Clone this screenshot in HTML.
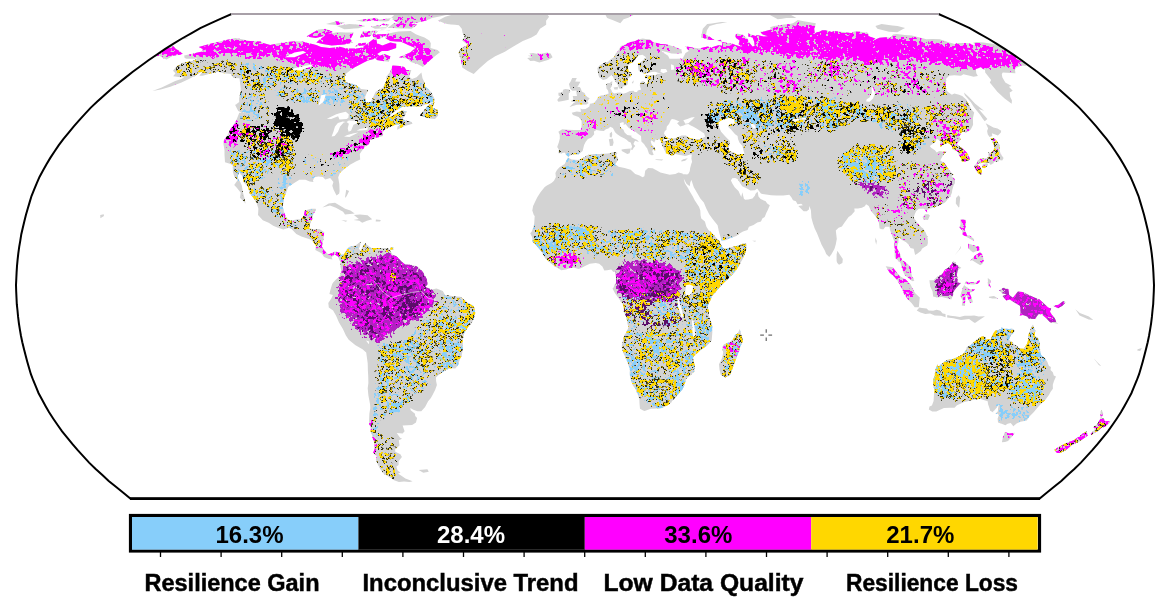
<!DOCTYPE html>
<html><head><meta charset="utf-8"><style>
html,body{margin:0;padding:0;background:#fff;width:1170px;height:607px;overflow:hidden}
svg{display:block}
.pct{font-family:"Liberation Sans",sans-serif;font-weight:bold;font-size:24px}
.lab{font-family:"Liberation Sans",sans-serif;font-weight:bold;font-size:23px;stroke:#000;stroke-width:0.45px}
</style></head><body>
<svg width="1170" height="607" viewBox="0 0 1170 607">
<defs><clipPath id="oc"><path d="M938.5,14.0 L949.0,18.7 L959.5,23.4 L969.7,28.2 L978.8,33.4 L988.0,38.5 L996.8,43.8 L1005.1,49.2 L1013.4,54.7 L1021.5,60.3 L1029.3,66.0 L1037.2,71.7 L1044.6,77.6 L1052.0,83.5 L1059.3,89.4 L1066.0,95.5 L1072.7,101.6 L1079.2,107.6 L1085.0,113.9 L1090.7,120.1 L1096.2,126.3 L1101.3,132.6 L1106.5,138.9 L1111.2,145.2 L1115.5,151.5 L1119.7,157.9 L1123.5,164.2 L1127.0,170.6 L1130.5,176.9 L1133.3,183.3 L1135.9,189.7 L1138.5,196.0 L1140.4,202.4 L1142.3,208.8 L1144.1,215.1 L1145.7,221.5 L1147.2,227.8 L1148.7,234.2 L1149.7,240.6 L1150.8,246.9 L1151.7,253.3 L1152.4,259.6 L1153.0,266.0 L1153.4,272.4 L1153.7,278.7 L1154.0,285.1 L1153.8,291.5 L1153.5,297.8 L1153.2,304.2 L1152.5,310.5 L1151.9,316.9 L1151.1,323.3 L1150.1,329.6 L1149.0,336.0 L1147.7,342.3 L1146.1,348.7 L1144.5,355.1 L1142.8,361.4 L1141.0,367.8 L1139.1,374.2 L1136.7,380.5 L1134.0,386.9 L1131.4,393.2 L1128.0,399.6 L1124.5,406.0 L1120.9,412.3 L1116.7,418.7 L1112.4,425.0 L1107.9,431.3 L1102.8,437.6 L1097.7,443.9 L1092.3,450.2 L1086.6,456.4 L1080.9,462.6 L1074.6,468.7 L1067.9,474.8 L1061.3,480.9 L1054.1,486.8 L1046.7,492.7 L1039.4,498.7 L130.6,498.7 L123.3,492.7 L115.9,486.8 L108.7,480.9 L102.1,474.8 L95.4,468.7 L89.1,462.6 L83.4,456.4 L77.7,450.2 L72.3,443.9 L67.2,437.6 L62.1,431.3 L57.6,425.0 L53.3,418.7 L49.1,412.3 L45.5,406.0 L42.0,399.6 L38.6,393.2 L36.0,386.9 L33.3,380.5 L30.9,374.2 L29.0,367.8 L27.2,361.4 L25.5,355.1 L23.9,348.7 L22.3,342.3 L21.0,336.0 L19.9,329.6 L18.9,323.3 L18.1,316.9 L17.5,310.5 L16.8,304.2 L16.5,297.8 L16.2,291.5 L16.0,285.1 L16.3,278.7 L16.6,272.4 L17.0,266.0 L17.6,259.6 L18.3,253.3 L19.2,246.9 L20.3,240.6 L21.3,234.2 L22.8,227.8 L24.3,221.5 L25.9,215.1 L27.7,208.8 L29.6,202.4 L31.5,196.0 L34.1,189.7 L36.7,183.3 L39.5,176.9 L43.0,170.6 L46.5,164.2 L50.3,157.9 L54.5,151.5 L58.8,145.2 L63.5,138.9 L68.7,132.6 L73.8,126.3 L79.3,120.1 L85.0,113.9 L90.8,107.6 L97.3,101.6 L104.0,95.5 L110.7,89.4 L118.0,83.5 L125.4,77.6 L132.8,71.7 L140.7,66.0 L148.5,60.3 L156.6,54.7 L164.9,49.2 L173.2,43.8 L182.0,38.5 L191.2,33.4 L200.3,28.2 L210.5,23.4 L221.0,18.7 L231.5,14.0Z"/></clipPath></defs>
<g clip-path="url(#oc)"><clipPath id="landc"><path d="M184.2,55.4 190.9,54.0 197.5,52.6 202.5,51.4 202.7,48.9 198.7,47.0 213.0,43.0 223.8,40.4 235.3,38.0 239.3,38.8 243.2,39.5 246.6,40.2 250.1,40.9 255.3,41.2 260.6,41.5 263.2,43.0 266.7,44.0 270.2,44.9 279.2,43.0 284.5,42.4 289.7,41.8 295.0,41.2 302.5,41.5 308.6,43.3 312.4,44.1 316.2,44.9 321.0,47.0 325.2,47.5 329.4,48.0 334.6,47.4 339.8,46.7 343.6,47.7 347.5,48.6 352.1,48.6 356.8,48.6 362.4,47.4 368.0,43.3 375.5,37.5 376.5,40.1 377.1,43.3 382.4,45.5 390.3,42.4 396.3,43.7 396.1,48.0 387.6,51.0 381.8,51.0 377.1,54.1 379.6,55.7 375.0,58.8 367.9,60.4 363.4,62.7 354.3,67.5 346.4,73.3 344.6,77.3 345.7,82.4 351.6,83.4 355.8,85.0 361.2,89.0 368.0,89.7 365.1,96.9 366.3,102.7 370.7,102.1 375.7,91.8 383.2,87.4 386.6,80.0 386.3,76.7 390.3,71.7 392.4,65.6 399.9,65.9 404.3,66.9 406.3,70.1 411.3,70.1 409.2,76.7 412.0,79.0 416.6,77.3 421.4,72.4 422.5,78.3 424.6,82.4 425.4,86.7 429.3,90.0 432.0,93.5 434.3,98.6 434.0,101.7 430.3,102.4 420.6,106.5 412.6,106.2 402.8,106.5 396.0,110.4 388.0,117.0 391.0,116.7 401.5,110.4 406.7,111.4 404.3,116.0 402.8,118.8 405.1,120.5 411.7,121.9 412.5,123.7 404.7,126.1 397.1,129.7 397.5,126.5 402.6,123.7 395.2,124.7 388.5,127.9 384.5,129.7 382.3,133.2 383.1,136.1 379.3,137.1 375.2,138.2 370.2,140.0 369.0,143.9 365.0,146.8 361.4,151.4 359.8,153.9 360.2,159.6 355.9,161.4 350.0,164.7 344.9,168.6 339.9,172.9 338.2,177.2 339.3,184.0 339.6,190.9 339.2,193.4 336.6,195.5 335.5,193.4 333.5,189.4 332.3,185.8 333.4,181.9 330.2,177.9 325.3,179.4 322.9,176.9 318.4,176.5 314.3,177.2 312.9,180.8 313.6,181.9 309.7,181.5 305.5,179.7 299.4,179.7 294.2,183.0 288.1,186.9 286.2,192.7 283.9,198.0 282.7,205.9 283.5,210.6 285.5,216.0 286.7,218.5 290.8,220.7 297.2,219.2 300.9,219.6 303.9,214.9 304.8,210.6 311.0,208.8 315.6,208.8 316.1,209.9 313.3,214.2 312.1,219.6 310.1,223.2 309.1,228.6 313.1,229.3 319.4,228.9 324.3,232.2 323.0,241.1 321.9,246.5 323.8,250.1 328.4,254.4 334.8,251.5 339.5,252.6 341.6,255.1 339.4,260.2 338.0,256.6 334.7,254.4 331.7,257.3 332.5,259.4 328.2,258.7 324.1,256.9 321.5,253.3 315.3,250.1 316.0,245.8 311.2,239.7 307.5,238.6 301.4,236.5 296.3,233.9 291.8,229.3 288.9,227.8 283.3,229.6 277.4,227.5 273.2,225.7 268.7,222.8 262.8,220.3 258.0,214.9 258.4,208.8 256.6,202.7 252.7,197.0 249.8,193.7 247.7,186.2 243.5,182.3 242.7,176.5 238.9,171.8 237.5,177.6 240.2,181.9 241.8,185.5 243.0,192.7 244.7,198.8 245.6,203.8 244.7,202.4 239.9,197.7 240.8,192.7 236.6,187.6 234.2,185.1 237.7,180.1 234.2,176.5 232.9,171.8 232.8,168.6 232.9,165.7 230.6,163.9 225.0,162.2 224.5,155.0 224.5,150.3 223.5,144.3 223.4,141.0 227.4,135.4 229.9,130.0 235.9,121.2 239.3,112.8 244.2,112.5 239.1,109.7 236.0,104.5 239.2,102.1 239.1,98.6 240.5,91.8 240.7,88.4 240.1,83.4 239.5,78.3 233.5,78.0 230.9,74.0 224.0,73.3 218.2,71.7 211.4,73.3 202.6,75.7 199.3,75.7 203.5,70.8 194.7,76.0 188.9,79.0 181.5,82.4 170.3,86.7 160.8,89.4 152.4,91.1 161.7,87.4 175.2,81.0 181.2,79.0 184.3,77.3 180.5,77.3 173.2,76.3 175.5,73.3 173.0,70.8 176.6,66.2 183.1,62.7 194.4,60.4 197.4,58.2 192.8,58.8 186.7,58.8 184.6,57.9 184.2,55.4Z M473.7,74.0 467.3,70.8 462.2,67.5 461.4,62.0 460.1,57.2 458.6,52.6 461.2,48.0 467.8,44.9 462.0,40.4 464.5,36.6 462.6,33.1 461.8,28.8 458.9,25.2 455.0,24.8 451.0,24.5 447.1,24.1 443.9,23.0 440.8,21.8 437.7,20.7 445.2,16.7 451.9,14.7 458.3,13.0 462.3,13.0 466.3,13.0 470.3,13.0 474.3,13.0 478.3,13.0 482.3,13.0 486.2,13.0 490.2,13.0 494.2,13.0 498.2,13.0 502.2,13.0 506.2,13.0 510.2,13.0 514.1,13.0 518.1,13.0 522.1,13.0 526.1,13.0 530.1,13.0 534.1,13.0 538.1,13.0 542.0,13.0 546.0,13.0 549.1,16.7 546.1,20.7 546.2,24.7 540.0,28.8 536.6,34.6 531.5,37.5 522.8,40.9 513.4,46.4 504.9,51.7 495.2,56.3 487.8,61.1 479.3,68.5 473.7,74.0Z M439.9,52.3 431.7,58.8 427.6,62.4 422.9,66.9 418.0,64.3 410.7,62.0 407.6,58.8 403.2,58.0 398.9,57.2 410.2,52.6 415.4,48.0 411.7,46.4 408.1,44.9 404.5,43.3 401.0,41.8 395.7,41.4 390.4,40.9 385.0,38.0 387.8,33.7 393.2,32.5 398.5,31.4 404.6,31.2 410.7,31.1 415.8,34.3 420.2,35.9 424.5,37.5 429.3,40.4 430.8,43.3 430.5,48.0 437.5,50.1 439.9,52.3Z M376.6,60.1 382.7,60.9 388.9,61.7 390.4,56.3 384.3,54.1 376.1,57.2 376.6,60.1Z M320.3,38.9 326.5,34.6 336.8,32.2 341.1,32.3 345.4,32.4 349.7,32.5 353.9,32.5 350.6,38.9 352.5,42.7 344.0,44.6 337.9,45.0 331.7,45.5 327.2,44.7 322.8,44.0 316.3,42.4 320.3,38.9Z M306.4,36.6 318.3,29.6 325.8,28.8 329.4,30.2 333.2,31.7 323.7,36.0 315.8,38.0 311.1,37.3 306.4,36.6Z M371.9,33.1 381.7,29.6 385.6,30.1 389.6,30.5 385.3,36.0 378.7,38.9 373.3,37.5 371.9,33.1Z M387.6,27.9 392.4,28.1 397.1,28.2 401.9,28.4 406.7,28.6 411.5,28.8 417.4,24.7 413.0,23.9 408.6,23.1 403.6,23.1 398.7,23.2 393.7,23.3 387.6,27.9Z M398.2,23.1 402.3,23.1 406.4,23.2 410.4,23.3 414.5,23.3 420.0,22.0 425.4,20.7 432.0,18.0 440.7,16.2 446.0,15.0 451.3,13.9 456.4,13.0 452.4,13.0 448.3,13.0 444.3,13.0 440.3,13.0 436.2,13.0 432.2,13.0 428.1,13.0 424.1,13.0 420.1,13.0 416.0,13.0 412.0,13.0 408.0,13.0 403.9,13.0 399.9,13.0 392.2,19.3 395.1,21.2 398.2,23.1Z M336.9,26.0 343.1,24.9 349.3,23.9 353.0,24.2 356.7,24.6 360.5,24.9 365.4,26.0 358.5,28.2 353.8,28.6 349.1,28.9 344.4,29.3 340.5,27.6 336.9,26.0Z M370.7,26.8 376.3,25.7 381.8,24.7 386.5,26.0 386.3,28.2 380.7,28.5 375.0,28.8 370.7,26.8Z M388.6,20.7 393.6,20.3 398.5,20.0 403.5,19.7 408.4,19.3 415.5,13.0 411.6,13.0 407.7,13.0 403.8,13.0 399.9,13.0 396.0,13.0 388.6,20.7Z M419.8,115.6 429.6,118.4 435.0,119.1 438.2,115.6 437.6,109.7 432.5,107.9 434.6,101.7 427.8,105.5 419.8,115.6Z M243.0,113.2 238.2,111.1 234.9,104.5 243.4,107.2 243.0,113.2Z M322.3,207.4 328.7,203.4 335.0,202.7 339.3,205.2 345.1,208.8 350.4,210.6 354.7,213.5 345.0,214.6 343.1,211.7 335.9,207.7 330.0,205.6 322.3,207.4Z M353.9,214.9 359.9,214.6 367.6,215.3 372.2,219.2 367.0,220.7 362.2,222.8 359.3,220.7 353.4,219.9 358.8,218.9 353.9,214.9Z M341.3,219.9 347.4,220.7 345.8,221.7 341.3,219.9Z M375.9,219.6 380.8,219.9 380.1,221.4 375.7,221.4 375.9,219.6Z M341.6,255.1 344.1,254.1 347.5,248.7 349.9,246.5 355.6,245.4 360.6,241.5 360.0,246.5 358.9,248.3 360.9,251.9 362.1,247.2 364.5,244.4 365.2,242.9 366.7,244.7 371.2,247.9 374.6,247.9 383.8,247.9 388.5,247.9 389.9,250.1 392.9,255.1 396.6,256.2 401.5,261.6 405.2,264.5 410.9,264.8 416.2,265.9 419.9,268.4 422.1,270.9 423.9,273.4 427.0,279.5 427.6,284.2 425.4,287.1 431.7,289.6 436.5,288.5 442.8,291.0 445.1,295.0 452.3,296.1 455.5,296.4 460.2,296.8 463.4,299.3 468.2,303.2 473.9,306.1 475.3,312.9 473.9,318.3 471.8,323.0 468.1,326.9 464.3,332.7 462.9,339.1 462.8,349.5 461.6,356.0 459.9,358.9 458.2,365.0 455.3,368.6 451.6,368.2 447.1,369.6 442.3,372.2 438.0,375.4 436.0,377.5 436.1,381.1 436.9,385.1 435.2,389.7 432.8,394.4 430.9,398.0 428.1,401.2 425.1,407.0 421.3,411.3 417.5,411.3 413.3,409.8 410.3,408.1 410.7,410.2 415.0,413.8 415.2,415.9 417.1,418.1 416.0,422.4 412.1,424.9 402.6,425.6 404.6,431.3 402.6,433.4 396.7,433.1 400.1,437.7 402.1,438.8 398.8,440.2 399.5,445.5 395.1,449.4 395.3,451.8 400.4,454.3 401.9,457.1 398.6,461.3 398.6,465.1 396.4,466.5 397.5,470.3 400.6,472.7 397.9,473.4 401.8,476.1 405.4,478.5 412.6,481.3 409.5,482.0 404.0,481.6 398.9,482.0 394.2,480.2 388.7,476.8 384.3,474.1 380.8,469.9 377.9,464.8 375.8,459.5 376.7,456.0 373.0,452.9 374.6,449.0 374.6,443.4 372.2,437.7 372.3,435.6 370.3,431.3 371.0,428.8 369.1,424.2 369.1,419.9 369.4,413.4 370.3,408.1 370.1,404.5 368.4,395.5 367.7,388.3 368.4,382.9 368.2,375.7 367.9,370.7 367.7,363.2 366.2,352.4 362.5,349.2 355.5,345.2 348.7,339.8 345.9,335.5 342.9,329.1 339.0,322.6 336.1,315.8 333.1,310.4 328.8,307.5 328.3,302.9 331.4,298.2 332.9,295.0 329.4,293.9 330.6,289.2 332.1,284.2 333.1,282.4 336.0,279.5 339.2,276.7 341.5,272.0 340.4,266.3 340.9,262.7 339.4,260.2 341.6,255.1Z M568.4,156.8 572.0,154.3 578.8,154.3 582.6,151.1 584.1,145.0 585.6,142.1 587.9,138.9 591.4,137.5 594.2,134.3 593.9,131.5 596.4,130.0 600.4,130.8 603.9,131.1 605.8,129.3 608.4,128.6 610.3,126.8 612.9,127.9 615.1,132.2 616.9,133.9 620.5,136.4 624.1,138.2 626.2,139.6 628.7,141.8 630.7,142.5 632.1,146.4 630.9,149.6 632.4,150.0 633.7,147.8 635.3,146.0 633.4,143.9 635.0,140.7 638.9,142.1 637.2,140.0 633.9,138.6 631.2,137.1 631.7,135.7 627.3,135.0 624.6,132.5 623.5,129.7 620.3,127.2 619.8,123.3 622.2,122.3 623.9,122.6 623.6,125.1 625.5,124.0 628.3,127.6 631.9,130.0 635.4,131.8 638.2,133.9 641.0,136.1 641.4,141.4 644.0,143.9 645.6,146.4 647.2,148.5 649.1,153.9 651.6,155.3 653.7,155.0 652.2,151.1 653.2,149.6 655.7,150.7 654.5,147.8 651.6,144.3 650.7,141.4 651.5,140.3 654.3,142.5 655.7,139.3 660.4,139.6 661.2,141.4 661.8,144.3 663.6,148.2 665.9,153.2 668.4,154.3 672.4,156.1 675.5,153.9 679.7,155.0 685.5,156.1 690.0,154.6 691.8,154.6 691.4,158.6 692.1,161.8 691.2,164.3 690.1,168.3 689.8,171.1 688.6,173.6 687.2,174.4 682.6,174.0 683.6,178.3 686.5,183.7 689.7,186.2 690.3,182.6 691.4,180.1 693.8,187.3 697.0,192.7 700.5,198.8 703.8,202.4 706.4,208.8 709.2,214.2 712.6,218.9 717.6,225.3 718.9,231.4 720.4,236.8 721.5,240.4 726.2,240.1 730.8,237.9 736.9,235.7 738.7,233.9 743.0,231.4 747.6,230.0 748.9,226.8 753.5,225.0 757.3,222.5 761.0,221.4 762.3,218.5 764.7,217.1 766.5,212.4 767.8,209.9 769.8,205.2 767.2,203.4 765.7,201.3 760.6,199.1 758.5,196.6 757.6,191.6 755.4,194.1 755.0,195.5 752.5,198.4 748.3,199.5 745.2,199.8 743.9,198.8 742.3,192.3 741.3,197.0 740.1,194.5 738.5,190.9 736.4,189.1 734.7,187.3 732.5,183.7 730.9,180.5 732.2,178.3 735.2,177.9 737.4,179.0 739.6,182.3 742.2,186.2 746.1,188.0 750.4,190.5 754.9,190.2 757.1,188.4 760.9,193.4 762.5,194.1 767.8,194.8 771.2,195.2 776.5,195.5 783.3,195.5 789.3,194.8 791.2,197.0 793.0,200.2 795.9,201.3 797.5,204.2 801.2,203.8 802.9,205.2 798.3,205.9 801.1,208.8 803.6,211.3 806.7,211.3 808.9,209.5 809.4,205.9 810.9,210.3 811.4,217.8 812.9,223.2 814.7,228.6 816.9,232.9 819.6,239.7 821.6,244.7 824.8,250.5 826.2,254.1 829.2,256.9 831.3,254.4 834.4,249.0 835.7,244.7 836.8,239.0 835.8,230.4 838.6,227.8 841.9,226.4 844.6,222.5 848.6,217.1 851.5,214.9 854.7,211.3 854.3,208.5 858.0,208.5 861.9,207.7 864.8,206.3 866.1,204.2 868.8,205.9 871.1,211.3 873.4,213.8 876.7,217.8 878.7,221.4 879.6,228.6 881.9,229.3 883.5,229.3 885.3,226.8 889.4,226.8 890.2,230.4 892.8,237.5 894.4,241.5 894.6,250.1 894.7,257.3 895.4,258.0 898.7,261.2 900.4,262.7 901.5,266.6 903.0,271.6 905.0,275.2 908.2,278.1 912.0,281.0 913.0,281.3 914.2,280.6 911.9,275.9 911.2,272.4 910.7,267.0 907.7,264.1 904.4,261.2 902.1,260.2 900.6,255.8 899.5,253.0 897.0,248.3 897.6,244.7 898.5,241.1 898.5,237.5 900.0,237.5 901.5,239.7 903.5,240.8 906.1,242.2 908.5,244.4 910.5,247.9 913.7,248.7 915.1,255.1 917.2,253.7 921.1,250.8 921.9,248.7 924.5,246.9 927.2,245.4 927.9,242.9 927.8,239.3 927.2,236.5 925.5,232.2 923.0,228.2 920.6,226.8 916.8,222.1 913.7,217.8 914.7,214.2 916.1,211.3 918.8,208.8 922.5,208.8 924.0,208.8 927.3,213.1 927.0,209.9 930.2,208.5 934.0,207.4 938.0,205.9 941.7,204.2 945.1,202.4 947.4,199.8 948.6,198.0 950.4,196.3 951.9,192.7 952.3,189.8 953.6,185.5 955.0,183.0 955.0,178.7 951.4,176.2 953.6,174.7 950.4,171.8 948.6,169.3 944.4,162.9 940.2,160.4 942.2,156.8 943.7,154.3 946.4,151.8 942.7,151.4 939.3,151.1 936.7,152.5 934.9,150.3 931.1,147.8 929.8,146.0 931.3,145.0 933.5,143.2 935.5,141.4 936.0,139.6 937.8,139.3 940.2,141.0 940.1,144.3 940.0,146.8 941.3,146.4 943.0,145.0 944.9,143.9 947.6,142.8 950.0,144.3 952.3,146.8 952.5,149.6 955.2,150.3 957.9,151.8 958.8,155.0 961.1,158.6 961.9,161.8 965.4,161.4 967.9,160.4 969.2,160.0 969.7,158.6 968.7,155.7 966.8,152.5 962.6,148.5 959.9,146.8 957.5,144.6 957.1,143.2 958.9,141.8 960.6,139.6 959.4,136.1 960.7,134.3 961.5,132.9 962.7,131.5 966.5,132.5 969.7,130.8 971.3,128.6 973.1,124.7 972.9,118.4 973.5,115.3 974.2,112.5 971.9,110.0 969.3,105.5 966.5,99.7 962.2,95.9 959.1,94.8 954.3,93.5 951.9,94.8 948.6,92.4 946.9,91.1 945.6,86.7 946.0,83.4 946.1,78.7 949.1,75.7 954.3,75.3 961.0,75.7 963.4,74.3 969.9,75.7 973.5,76.7 977.9,76.0 976.3,73.3 975.8,69.1 980.6,67.5 985.0,70.1 985.2,72.4 991.1,80.0 989.8,82.4 993.9,87.4 997.3,91.8 1004.6,98.6 1011.7,103.8 1011.9,100.3 1010.2,96.9 1009.7,92.4 1012.7,90.7 1008.9,86.7 1011.5,86.0 1005.3,82.4 1002.3,77.3 1001.8,74.0 1002.8,72.4 1007.0,72.7 1015.4,73.3 1015.0,70.1 1015.7,67.9 1018.2,66.9 1021.4,65.6 1026.8,65.9 1022.7,62.0 1015.9,58.8 1017.3,57.2 1007.9,51.0 998.6,44.9 992.1,43.7 983.4,42.4 976.2,42.1 973.2,42.7 975.3,45.5 968.8,43.3 963.8,43.0 957.0,43.0 954.8,44.0 949.3,42.4 939.8,39.2 932.6,38.9 926.4,39.2 918.8,37.2 911.8,35.4 904.8,35.1 896.6,34.0 893.0,34.6 890.3,37.5 885.5,37.2 879.5,37.7 876.6,38.9 868.4,36.0 868.0,33.1 860.7,31.7 853.9,31.4 851.6,33.1 846.4,32.4 841.2,31.7 834.0,31.1 831.7,31.9 826.6,30.2 822.2,30.2 819.5,31.7 816.8,32.2 814.8,33.4 814.2,28.8 815.2,26.0 815.8,23.3 809.7,22.3 803.7,21.2 797.7,20.1 795.3,21.7 792.9,23.3 789.7,24.1 783.7,24.4 779.4,25.2 774.0,26.0 770.1,27.3 771.1,29.6 767.5,30.5 763.9,31.4 759.8,31.7 762.7,34.6 767.9,36.3 763.7,36.6 757.0,35.1 755.5,36.0 751.1,34.6 748.5,33.1 748.2,36.6 752.6,37.5 754.2,41.8 754.6,46.1 752.5,46.4 748.6,41.8 747.6,38.9 742.5,34.8 737.1,33.4 735.7,34.6 735.4,37.5 739.6,40.4 738.6,44.3 742.5,47.0 735.5,44.9 732.5,43.7 727.5,42.9 722.6,42.1 722.0,45.5 718.4,45.2 711.3,47.4 707.5,46.4 703.3,47.5 699.1,48.6 692.8,47.4 686.7,46.4 685.5,46.4 688.8,51.0 685.5,52.9 682.7,58.5 676.7,58.8 673.1,58.8 669.5,58.8 668.1,55.7 663.0,52.6 661.3,50.7 666.3,52.0 671.5,53.5 677.5,53.8 682.1,53.2 681.3,49.5 676.6,47.4 668.9,44.9 665.2,44.3 660.6,44.0 655.6,42.4 653.3,42.4 649.7,39.2 645.6,38.9 642.8,38.6 638.9,39.2 634.8,41.2 628.3,42.4 624.1,44.9 620.8,46.1 618.7,50.1 615.4,54.1 613.8,57.2 610.4,59.5 608.1,61.7 603.4,63.3 599.8,65.3 597.4,67.9 597.8,72.0 598.7,75.7 599.3,77.3 603.0,80.0 606.8,79.0 609.2,76.7 611.6,75.0 613.0,76.7 614.0,79.3 615.4,81.0 617.5,84.4 618.8,87.4 619.2,88.4 622.4,88.7 622.9,86.4 625.7,86.0 627.6,84.4 627.9,81.7 628.0,78.0 629.9,77.3 632.0,75.3 631.9,72.7 628.7,71.4 628.0,68.5 628.1,65.6 630.3,63.7 634.3,61.1 636.0,57.9 638.0,55.4 642.6,54.7 646.0,57.2 644.4,59.1 640.0,62.7 637.9,63.3 638.2,68.5 638.9,71.1 640.8,72.0 644.4,73.7 648.1,73.0 651.6,72.0 655.1,71.7 658.1,72.7 661.6,73.7 658.3,73.7 656.6,74.3 656.1,75.3 652.2,75.0 647.7,75.3 644.8,76.0 645.3,78.0 647.8,78.7 647.9,81.4 647.5,83.4 645.4,83.4 643.2,81.0 640.8,82.0 639.7,85.0 640.4,87.7 641.1,89.4 637.8,90.4 637.0,92.1 634.6,92.1 633.6,90.7 630.0,91.1 626.4,92.8 623.1,93.8 620.8,92.4 617.1,92.8 614.3,93.5 612.1,92.1 611.4,90.0 610.2,88.4 611.9,86.0 612.2,82.7 612.3,81.0 609.6,83.0 607.3,83.0 606.1,85.0 606.5,88.4 608.0,90.4 608.7,93.5 607.9,93.8 603.7,95.2 601.0,95.5 597.9,96.9 597.1,99.3 595.8,100.7 594.5,102.4 591.8,103.4 589.9,103.8 589.4,106.5 585.6,109.0 582.0,109.3 580.6,108.3 580.8,112.1 576.7,111.4 571.7,112.8 573.0,114.9 578.6,117.0 581.6,120.5 581.6,126.1 580.7,130.0 574.1,130.0 567.9,129.7 562.2,129.3 558.4,131.8 559.7,134.7 559.8,138.6 558.8,142.5 557.2,147.1 558.8,149.6 558.4,153.2 561.7,153.2 564.6,152.5 566.4,155.0 568.4,156.8Z M682.6,173.6 678.5,172.6 675.3,174.0 669.7,174.7 660.4,172.6 657.3,170.8 652.6,168.3 648.1,167.9 645.2,170.8 644.4,176.2 642.6,177.2 639.5,175.4 635.2,174.0 630.7,169.7 624.6,167.9 618.6,166.8 615.2,164.3 616.9,161.8 618.0,158.2 616.1,155.0 617.5,152.8 613.9,152.1 608.0,153.6 599.8,153.9 593.9,153.9 588.0,155.0 583.2,157.9 578.4,160.0 571.6,159.6 567.8,157.5 564.7,163.9 562.2,165.4 559.2,167.5 557.0,170.0 555.4,172.9 555.9,176.9 554.0,180.8 551.5,183.0 546.9,185.5 544.7,186.9 540.5,192.3 537.3,197.3 535.7,200.6 533.1,205.9 532.3,210.6 533.8,214.9 534.7,216.0 534.2,223.2 533.5,226.8 531.8,231.4 530.2,233.2 532.3,237.5 532.6,241.8 535.7,244.7 537.8,247.2 540.0,249.7 541.9,251.9 543.4,255.5 545.6,258.7 548.7,261.2 550.9,263.4 555.0,266.6 561.3,270.2 566.1,269.5 572.4,267.3 578.7,269.1 581.8,267.7 585.0,265.9 589.7,263.7 595.7,263.0 599.2,263.7 602.4,266.6 604.3,270.6 607.1,270.2 611.2,269.5 613.4,272.0 615.6,271.6 616.0,277.0 616.0,282.4 614.7,284.6 613.4,287.8 612.5,288.5 615.0,293.2 618.2,297.8 622.3,303.2 623.8,307.5 623.8,311.8 626.6,317.6 627.5,323.7 628.4,327.3 627.0,331.2 624.2,335.5 621.8,345.2 621.8,348.1 623.9,354.2 626.9,360.7 628.3,365.0 629.8,368.2 629.9,375.7 631.2,381.5 632.9,385.4 635.3,388.7 637.5,393.7 639.3,399.1 639.6,404.5 640.0,408.8 643.2,410.6 644.6,410.9 650.8,408.8 656.8,408.4 661.9,408.1 665.9,406.3 669.1,404.5 674.0,399.1 679.1,393.3 682.4,389.4 684.2,385.8 685.9,380.1 685.9,379.0 688.9,376.5 694.4,371.4 694.8,365.0 693.5,361.4 693.1,357.1 697.0,353.5 700.3,350.3 706.7,345.9 711.7,340.6 712.3,332.7 712.3,325.5 710.3,320.1 708.8,314.7 708.9,310.4 707.4,307.5 708.8,302.9 710.4,300.4 712.0,296.1 714.5,293.2 717.7,289.6 722.5,284.2 728.1,278.8 731.9,275.2 736.5,269.8 739.6,264.5 742.6,259.1 744.9,253.7 746.7,248.7 746.1,243.6 743.6,243.3 739.0,245.4 734.3,246.2 726.5,248.7 723.4,248.7 720.7,244.4 719.3,241.1 716.0,237.5 712.8,233.9 708.5,230.0 706.4,226.8 704.9,221.4 701.3,218.5 700.6,215.6 700.3,210.6 699.1,207.0 694.7,200.2 692.7,196.3 689.1,190.2 688.3,188.4 684.9,183.3 683.6,178.3 682.6,173.6Z M569.4,106.9 573.5,105.8 576.8,104.8 582.3,104.5 586.4,104.5 588.8,103.1 587.2,101.7 589.6,98.3 587.7,97.2 585.8,95.5 584.5,93.1 581.8,91.4 580.8,88.4 579.8,87.0 577.2,86.7 578.2,85.7 580.4,81.7 575.2,81.4 576.8,78.0 572.2,78.0 570.5,81.7 568.9,84.0 570.3,89.0 572.3,90.7 576.3,90.4 576.5,93.5 577.0,95.9 572.7,95.9 573.4,99.3 570.9,101.4 575.8,102.4 573.6,103.1 569.4,106.9Z M568.8,99.7 568.7,95.5 568.8,93.5 570.4,91.8 569.2,89.4 565.3,89.0 563.1,89.7 562.4,92.4 558.4,92.8 558.5,95.5 560.1,96.2 557.2,100.0 558.4,101.7 562.8,101.0 568.8,99.7Z M530.3,61.1 534.0,60.8 539.4,62.4 548.7,59.8 552.6,57.2 550.6,53.5 547.2,52.6 541.1,53.8 536.4,53.8 533.0,52.9 529.3,53.5 531.3,55.4 527.7,55.7 532.2,57.2 527.2,57.9 530.3,61.1Z M607.1,18.0 612.5,19.9 620.3,23.3 623.6,19.3 628.2,17.8 633.0,15.2 637.6,13.0 633.5,13.0 629.3,13.0 625.2,13.0 621.0,13.0 616.9,13.0 612.8,13.0 608.6,13.0 604.5,13.0 607.1,18.0Z M700.9,37.5 710.1,40.1 714.5,39.8 706.0,34.6 706.9,30.2 709.6,26.0 713.1,25.0 716.6,24.1 720.2,23.4 723.8,22.7 727.3,22.0 721.1,22.0 716.5,22.7 711.9,23.4 707.2,24.1 702.8,28.8 701.9,33.1 700.9,37.5Z M717.0,40.4 722.7,42.4 720.5,39.8 717.0,40.4Z M777.8,19.3 782.1,18.7 786.3,18.0 791.4,18.0 796.4,18.0 787.6,13.0 783.4,13.0 779.1,13.0 774.8,13.0 770.5,13.0 766.2,13.0 777.8,19.3Z M877.4,28.8 889.0,31.7 897.4,32.2 900.0,30.8 902.6,29.3 905.1,27.9 897.5,26.0 892.2,25.4 886.9,24.7 881.6,24.1 878.5,25.0 875.4,26.0 877.4,28.8Z M985.4,38.9 986.1,37.5 989.8,39.5 985.4,38.9Z M180.2,39.5 183.9,37.5 188.4,38.0 183.0,39.2 180.2,39.5Z M152.7,57.2 159.8,55.7 162.7,57.9 166.6,59.5 173.0,55.7 180.3,54.7 182.8,53.5 180.4,51.4 175.9,48.9 173.7,46.4 171.4,44.9 162.1,51.0Z M984.7,121.2 987.4,119.1 978.6,109.0 984.0,110.7 975.2,103.8 968.9,96.9 964.0,92.4 964.8,95.2 970.7,102.1 974.0,107.2 979.7,114.2 982.9,119.1 984.7,121.2Z M989.5,137.1 992.3,136.1 991.9,133.2 997.9,135.4 1000.9,132.5 1001.2,130.8 997.5,128.6 993.4,127.6 985.7,123.3 988.1,128.3 987.1,131.1 987.7,134.3 989.5,137.1Z M976.5,163.9 979.5,163.2 983.7,162.5 988.8,162.5 990.7,165.0 993.0,163.2 994.5,161.8 998.3,161.8 999.0,160.0 1002.2,160.4 1003.6,157.9 1000.6,153.9 999.5,149.6 999.9,145.3 996.7,140.7 993.7,137.9 990.4,138.6 992.9,142.5 994.3,146.4 993.7,150.3 990.2,153.2 988.5,152.1 988.6,157.1 986.8,158.2 980.5,158.6 977.2,161.1 976.5,163.9Z M973.9,165.7 976.7,164.3 979.9,166.5 982.1,171.1 981.1,174.7 978.3,173.6 975.1,168.6 973.9,165.7Z M982.1,167.5 982.8,163.9 987.0,163.2 988.2,164.7 986.8,166.5 984.5,168.3 982.1,167.5Z M955.8,203.4 956.0,198.0 958.7,195.2 960.2,197.7 959.3,207.0 958.7,207.4 955.8,203.4Z M922.6,217.1 925.0,214.2 928.4,214.2 929.9,215.6 928.0,219.9 923.3,219.6 922.6,217.1Z M960.3,219.6 965.3,219.6 966.2,225.0 964.8,229.6 966.8,235.0 970.4,236.1 974.2,239.3 973.4,240.8 969.4,238.6 965.7,236.5 962.7,234.7 962.1,230.4 959.5,227.5 960.5,224.3 960.3,219.6Z M968.1,243.6 972.0,244.7 974.6,245.4 978.8,246.5 980.2,250.1 978.4,250.8 975.3,251.5 973.1,252.6 970.5,250.5 968.3,247.9 968.1,243.6Z M969.6,260.9 972.6,258.0 974.9,255.5 977.7,254.1 980.0,251.5 982.8,255.5 983.8,260.9 982.4,263.7 980.3,265.2 976.1,262.7 972.1,260.2 969.6,260.9Z M954.2,255.8 960.8,248.3 961.1,245.4 958.8,250.1 954.2,255.8Z M885.7,266.3 892.7,267.3 896.7,272.4 900.9,276.7 905.7,279.5 910.5,284.2 913.0,289.6 915.2,293.2 919.8,297.5 919.3,302.2 918.8,307.2 914.7,307.2 911.7,303.2 908.0,299.6 904.1,293.9 902.3,289.2 899.5,284.2 897.2,279.9 893.0,275.6 889.7,272.7 885.7,266.3Z M916.7,310.4 919.4,307.5 921.9,307.9 926.6,308.6 928.7,310.4 933.1,310.8 936.6,309.7 940.3,310.8 942.7,313.6 945.5,314.0 945.6,317.2 941.0,315.8 934.7,315.4 930.1,313.6 925.3,314.0 920.4,312.6 916.7,310.4Z M947.3,315.1 950.4,315.8 955.1,316.2 959.8,316.9 964.6,315.8 970.9,315.8 974.1,315.4 978.7,316.5 985.0,316.2 980.1,319.4 975.0,323.0 973.6,322.3 969.1,319.0 961.1,320.1 953.4,318.3 947.1,317.6 947.3,315.1Z M929.4,280.3 933.5,280.3 937.2,276.7 941.9,274.5 944.9,269.8 948.0,268.1 951.3,264.5 953.2,260.9 955.6,262.7 957.3,265.2 961.3,267.7 957.6,270.6 956.8,275.2 957.8,278.8 957.3,282.4 961.1,282.8 958.0,286.0 956.4,287.8 954.1,290.7 953.0,295.0 951.3,299.6 946.9,298.2 941.9,297.1 937.1,297.5 933.1,296.4 932.6,291.4 930.2,286.4 929.4,280.3Z M962.7,287.8 964.9,283.8 969.0,284.2 973.8,284.6 978.5,283.5 980.0,281.0 979.3,280.3 975.3,282.4 967.4,281.7 965.2,281.7 964.3,285.3 969.0,289.2 975.0,289.2 973.0,291.4 969.5,292.8 971.9,298.6 973.0,302.2 970.1,303.2 967.2,296.8 966.6,295.3 965.3,296.4 965.1,303.9 964.9,306.1 961.8,305.4 962.6,300.4 960.2,296.1 962.7,287.8Z M987.8,278.1 991.0,280.6 989.6,284.2 991.1,287.8 988.0,286.0 987.8,278.1Z M989.0,296.8 994.0,296.1 998.1,298.6 992.4,298.6 988.9,297.8 989.0,296.8Z M999.0,290.3 1003.8,287.4 1008.5,289.2 1009.2,295.0 1012.9,297.8 1017.9,291.4 1022.6,292.1 1029.4,295.3 1035.0,297.8 1039.7,299.6 1045.2,304.7 1048.1,307.5 1051.2,308.6 1050.0,311.8 1051.9,314.7 1054.8,318.3 1056.8,323.0 1059.2,324.1 1055.2,323.3 1050.0,322.3 1046.3,318.3 1041.9,314.4 1038.7,314.0 1036.7,316.5 1035.2,319.0 1028.9,318.7 1027.2,316.5 1022.9,315.1 1019.7,315.8 1020.6,312.6 1019.9,305.7 1014.4,302.5 1009.7,299.6 1006.2,300.4 1002.6,296.1 1006.7,294.3 1002.0,293.2 999.0,290.3Z M1053.0,305.7 1058.4,304.7 1063.3,301.1 1065.8,302.2 1062.5,305.7 1058.1,308.3 1053.0,305.7Z M1033.0,324.4 1035.3,330.9 1034.6,336.3 1037.6,337.3 1039.4,341.6 1039.9,346.7 1040.3,352.4 1041.3,355.3 1044.5,357.8 1047.3,361.7 1048.8,365.7 1050.9,367.1 1050.5,370.0 1052.8,372.2 1053.8,375.4 1056.0,376.5 1054.0,381.1 1052.8,384.7 1052.9,388.7 1050.5,391.9 1049.1,394.8 1044.5,400.9 1040.8,404.1 1037.4,407.7 1033.9,412.0 1029.7,416.3 1026.7,420.6 1020.5,421.7 1016.6,423.5 1013.3,426.3 1011.8,424.2 1010.6,423.1 1007.6,423.8 1005.4,425.2 1001.7,423.8 1000.7,423.5 998.1,422.4 997.6,418.8 998.8,415.2 997.8,413.8 995.2,414.1 997.9,411.3 998.0,408.8 999.1,403.4 996.7,407.7 993.6,410.9 992.3,412.4 993.9,412.7 990.6,410.9 990.3,410.9 989.4,408.1 988.0,404.1 987.7,401.2 980.4,399.1 974.1,399.8 964.2,402.0 957.0,405.2 954.5,407.7 949.7,407.7 943.9,408.1 936.3,411.6 932.2,411.6 928.8,409.5 929.5,406.6 931.9,405.5 933.6,400.9 934.0,393.7 934.6,390.1 933.4,386.5 933.2,379.3 934.8,375.4 935.1,370.4 937.4,364.6 938.0,366.4 942.6,363.2 946.9,359.9 953.0,358.9 957.7,357.1 962.8,354.2 965.6,350.6 967.2,347.0 970.6,345.2 972.5,343.1 975.4,340.9 978.9,338.1 982.3,336.3 985.3,337.3 986.2,339.8 988.8,339.1 990.9,339.8 991.6,337.0 993.7,332.7 995.5,330.5 998.7,329.8 1001.3,329.1 1001.6,327.3 1004.2,328.4 1008.9,329.1 1012.1,328.7 1014.7,330.2 1013.0,333.4 1010.5,335.5 1009.0,339.8 1011.2,341.6 1014.4,344.5 1017.2,346.3 1019.3,348.5 1023.9,348.8 1027.1,343.4 1028.1,339.8 1028.5,334.5 1029.9,331.2 1031.1,327.3 1033.0,324.4Z M1004.9,432.0 1009.2,433.4 1014.9,432.7 1011.5,437.3 1008.0,440.9 1005.0,442.0 1001.9,442.3 1002.9,437.3 1004.9,432.0Z M1101.5,409.8 1103.2,413.4 1101.5,418.4 1104.2,418.8 1104.6,421.3 1109.3,420.9 1110.5,421.3 1105.2,426.7 1101.3,428.1 1097.5,431.3 1091.2,435.2 1090.6,434.1 1094.8,429.5 1093.5,427.0 1093.2,426.7 1097.2,424.2 1100.4,418.8 1100.5,411.6 1101.5,409.8Z M1086.7,431.3 1088.0,435.6 1082.9,439.1 1078.4,442.3 1072.2,444.8 1066.1,450.1 1060.3,452.9 1057.0,452.9 1054.3,450.1 1056.9,448.0 1064.5,443.7 1073.5,440.2 1079.7,435.9 1084.2,432.4 1086.7,431.3Z M836.6,260.9 836.6,254.4 837.4,250.8 840.1,255.1 842.8,259.1 842.4,263.0 839.0,264.8 837.3,263.0 836.6,260.9Z M739.8,329.1 742.2,338.1 742.9,341.6 740.4,346.3 739.2,350.6 735.8,359.6 732.6,368.6 729.9,375.4 724.8,377.5 720.7,374.7 719.5,369.6 719.0,364.3 722.2,357.8 723.2,352.4 722.3,347.0 724.0,344.2 729.8,342.0 733.1,339.1 735.1,334.8 737.7,333.4 739.8,329.1Z M621.5,149.6 624.7,148.9 630.8,148.5 629.6,153.2 627.3,153.9 621.8,151.1 621.5,149.6Z M608.8,139.3 612.8,138.6 613.6,142.5 612.8,145.7 609.9,146.0 609.5,142.8 608.8,139.3Z M609.8,137.1 611.6,137.5 612.3,134.7 611.9,131.8 609.7,133.6 609.8,137.1Z M654.9,159.3 663.3,159.6 661.9,160.4 656.5,160.0 654.9,159.3Z M681.4,161.4 685.2,160.7 687.8,158.2 683.2,159.3 681.3,160.4 681.4,161.4Z M613.6,87.4 618.0,86.7 617.7,89.4 614.5,89.4 613.6,87.4Z M631.8,82.4 633.9,80.3 633.0,83.7 631.8,82.4Z M752.2,240.8 756.0,240.8 755.1,241.8 752.2,240.8Z M100.2,214.9 103.7,214.2 104.0,216.0 100.4,218.2 100.2,214.9Z M418.7,469.9 427.4,469.3 428.8,471.7 423.3,472.7 418.7,469.9Z M390.4,247.2 393.2,247.2 393.1,249.7 390.2,249.7 390.4,247.2Z M346.2,189.8 349.1,190.9 346.6,196.3 344.9,198.0 346.2,189.8Z M875.3,237.5 876.8,241.1 876.2,244.7 875.3,241.1 875.3,237.5Z M1094.0,358.5 1097.6,362.5 1101.3,366.1 1099.0,365.3 1094.6,359.6 1094.0,358.5Z M1137.6,349.2 1141.9,348.1 1140.3,351.0 1137.2,350.6 1137.6,349.2Z M1075.4,309.3 1079.8,312.9 1088.9,316.5 1093.3,320.1 1088.7,319.4 1079.6,315.4 1075.4,309.3Z M326.0,24.1 336.6,21.2 340.8,21.9 345.0,22.5 337.0,25.2 333.3,24.8 329.6,24.5 326.0,24.1Z M356.2,20.4 361.2,19.7 366.2,19.1 371.1,18.4 376.0,17.8 379.7,19.6 374.0,20.3 368.3,21.0 362.6,21.7 359.4,21.1 356.2,20.4Z M379.4,27.6 387.4,27.0 389.4,24.4 383.0,23.6 379.4,27.6Z M372.2,20.7 377.1,20.0 382.0,19.3 386.9,18.7 391.7,18.0 394.8,18.8 398.0,19.6 391.8,20.5 385.6,21.5 381.1,21.2 376.7,20.9 372.2,20.7Z M374.9,34.6 380.7,34.3 386.4,34.0 390.1,29.9 384.6,30.1 379.0,30.2 374.9,34.6Z M359.9,37.5 364.8,37.0 369.7,36.6 376.9,30.2 372.1,30.7 367.3,31.2 362.5,31.7 359.9,37.5Z M355.1,46.4 360.2,45.8 365.3,45.2 366.2,42.7 358.8,43.3 355.1,46.4Z"/></clipPath>
<path d="M184.2,55.4 190.9,54.0 197.5,52.6 202.5,51.4 202.7,48.9 198.7,47.0 213.0,43.0 223.8,40.4 235.3,38.0 239.3,38.8 243.2,39.5 246.6,40.2 250.1,40.9 255.3,41.2 260.6,41.5 263.2,43.0 266.7,44.0 270.2,44.9 279.2,43.0 284.5,42.4 289.7,41.8 295.0,41.2 302.5,41.5 308.6,43.3 312.4,44.1 316.2,44.9 321.0,47.0 325.2,47.5 329.4,48.0 334.6,47.4 339.8,46.7 343.6,47.7 347.5,48.6 352.1,48.6 356.8,48.6 362.4,47.4 368.0,43.3 375.5,37.5 376.5,40.1 377.1,43.3 382.4,45.5 390.3,42.4 396.3,43.7 396.1,48.0 387.6,51.0 381.8,51.0 377.1,54.1 379.6,55.7 375.0,58.8 367.9,60.4 363.4,62.7 354.3,67.5 346.4,73.3 344.6,77.3 345.7,82.4 351.6,83.4 355.8,85.0 361.2,89.0 368.0,89.7 365.1,96.9 366.3,102.7 370.7,102.1 375.7,91.8 383.2,87.4 386.6,80.0 386.3,76.7 390.3,71.7 392.4,65.6 399.9,65.9 404.3,66.9 406.3,70.1 411.3,70.1 409.2,76.7 412.0,79.0 416.6,77.3 421.4,72.4 422.5,78.3 424.6,82.4 425.4,86.7 429.3,90.0 432.0,93.5 434.3,98.6 434.0,101.7 430.3,102.4 420.6,106.5 412.6,106.2 402.8,106.5 396.0,110.4 388.0,117.0 391.0,116.7 401.5,110.4 406.7,111.4 404.3,116.0 402.8,118.8 405.1,120.5 411.7,121.9 412.5,123.7 404.7,126.1 397.1,129.7 397.5,126.5 402.6,123.7 395.2,124.7 388.5,127.9 384.5,129.7 382.3,133.2 383.1,136.1 379.3,137.1 375.2,138.2 370.2,140.0 369.0,143.9 365.0,146.8 361.4,151.4 359.8,153.9 360.2,159.6 355.9,161.4 350.0,164.7 344.9,168.6 339.9,172.9 338.2,177.2 339.3,184.0 339.6,190.9 339.2,193.4 336.6,195.5 335.5,193.4 333.5,189.4 332.3,185.8 333.4,181.9 330.2,177.9 325.3,179.4 322.9,176.9 318.4,176.5 314.3,177.2 312.9,180.8 313.6,181.9 309.7,181.5 305.5,179.7 299.4,179.7 294.2,183.0 288.1,186.9 286.2,192.7 283.9,198.0 282.7,205.9 283.5,210.6 285.5,216.0 286.7,218.5 290.8,220.7 297.2,219.2 300.9,219.6 303.9,214.9 304.8,210.6 311.0,208.8 315.6,208.8 316.1,209.9 313.3,214.2 312.1,219.6 310.1,223.2 309.1,228.6 313.1,229.3 319.4,228.9 324.3,232.2 323.0,241.1 321.9,246.5 323.8,250.1 328.4,254.4 334.8,251.5 339.5,252.6 341.6,255.1 339.4,260.2 338.0,256.6 334.7,254.4 331.7,257.3 332.5,259.4 328.2,258.7 324.1,256.9 321.5,253.3 315.3,250.1 316.0,245.8 311.2,239.7 307.5,238.6 301.4,236.5 296.3,233.9 291.8,229.3 288.9,227.8 283.3,229.6 277.4,227.5 273.2,225.7 268.7,222.8 262.8,220.3 258.0,214.9 258.4,208.8 256.6,202.7 252.7,197.0 249.8,193.7 247.7,186.2 243.5,182.3 242.7,176.5 238.9,171.8 237.5,177.6 240.2,181.9 241.8,185.5 243.0,192.7 244.7,198.8 245.6,203.8 244.7,202.4 239.9,197.7 240.8,192.7 236.6,187.6 234.2,185.1 237.7,180.1 234.2,176.5 232.9,171.8 232.8,168.6 232.9,165.7 230.6,163.9 225.0,162.2 224.5,155.0 224.5,150.3 223.5,144.3 223.4,141.0 227.4,135.4 229.9,130.0 235.9,121.2 239.3,112.8 244.2,112.5 239.1,109.7 236.0,104.5 239.2,102.1 239.1,98.6 240.5,91.8 240.7,88.4 240.1,83.4 239.5,78.3 233.5,78.0 230.9,74.0 224.0,73.3 218.2,71.7 211.4,73.3 202.6,75.7 199.3,75.7 203.5,70.8 194.7,76.0 188.9,79.0 181.5,82.4 170.3,86.7 160.8,89.4 152.4,91.1 161.7,87.4 175.2,81.0 181.2,79.0 184.3,77.3 180.5,77.3 173.2,76.3 175.5,73.3 173.0,70.8 176.6,66.2 183.1,62.7 194.4,60.4 197.4,58.2 192.8,58.8 186.7,58.8 184.6,57.9 184.2,55.4Z M473.7,74.0 467.3,70.8 462.2,67.5 461.4,62.0 460.1,57.2 458.6,52.6 461.2,48.0 467.8,44.9 462.0,40.4 464.5,36.6 462.6,33.1 461.8,28.8 458.9,25.2 455.0,24.8 451.0,24.5 447.1,24.1 443.9,23.0 440.8,21.8 437.7,20.7 445.2,16.7 451.9,14.7 458.3,13.0 462.3,13.0 466.3,13.0 470.3,13.0 474.3,13.0 478.3,13.0 482.3,13.0 486.2,13.0 490.2,13.0 494.2,13.0 498.2,13.0 502.2,13.0 506.2,13.0 510.2,13.0 514.1,13.0 518.1,13.0 522.1,13.0 526.1,13.0 530.1,13.0 534.1,13.0 538.1,13.0 542.0,13.0 546.0,13.0 549.1,16.7 546.1,20.7 546.2,24.7 540.0,28.8 536.6,34.6 531.5,37.5 522.8,40.9 513.4,46.4 504.9,51.7 495.2,56.3 487.8,61.1 479.3,68.5 473.7,74.0Z M439.9,52.3 431.7,58.8 427.6,62.4 422.9,66.9 418.0,64.3 410.7,62.0 407.6,58.8 403.2,58.0 398.9,57.2 410.2,52.6 415.4,48.0 411.7,46.4 408.1,44.9 404.5,43.3 401.0,41.8 395.7,41.4 390.4,40.9 385.0,38.0 387.8,33.7 393.2,32.5 398.5,31.4 404.6,31.2 410.7,31.1 415.8,34.3 420.2,35.9 424.5,37.5 429.3,40.4 430.8,43.3 430.5,48.0 437.5,50.1 439.9,52.3Z M376.6,60.1 382.7,60.9 388.9,61.7 390.4,56.3 384.3,54.1 376.1,57.2 376.6,60.1Z M320.3,38.9 326.5,34.6 336.8,32.2 341.1,32.3 345.4,32.4 349.7,32.5 353.9,32.5 350.6,38.9 352.5,42.7 344.0,44.6 337.9,45.0 331.7,45.5 327.2,44.7 322.8,44.0 316.3,42.4 320.3,38.9Z M306.4,36.6 318.3,29.6 325.8,28.8 329.4,30.2 333.2,31.7 323.7,36.0 315.8,38.0 311.1,37.3 306.4,36.6Z M371.9,33.1 381.7,29.6 385.6,30.1 389.6,30.5 385.3,36.0 378.7,38.9 373.3,37.5 371.9,33.1Z M387.6,27.9 392.4,28.1 397.1,28.2 401.9,28.4 406.7,28.6 411.5,28.8 417.4,24.7 413.0,23.9 408.6,23.1 403.6,23.1 398.7,23.2 393.7,23.3 387.6,27.9Z M398.2,23.1 402.3,23.1 406.4,23.2 410.4,23.3 414.5,23.3 420.0,22.0 425.4,20.7 432.0,18.0 440.7,16.2 446.0,15.0 451.3,13.9 456.4,13.0 452.4,13.0 448.3,13.0 444.3,13.0 440.3,13.0 436.2,13.0 432.2,13.0 428.1,13.0 424.1,13.0 420.1,13.0 416.0,13.0 412.0,13.0 408.0,13.0 403.9,13.0 399.9,13.0 392.2,19.3 395.1,21.2 398.2,23.1Z M336.9,26.0 343.1,24.9 349.3,23.9 353.0,24.2 356.7,24.6 360.5,24.9 365.4,26.0 358.5,28.2 353.8,28.6 349.1,28.9 344.4,29.3 340.5,27.6 336.9,26.0Z M370.7,26.8 376.3,25.7 381.8,24.7 386.5,26.0 386.3,28.2 380.7,28.5 375.0,28.8 370.7,26.8Z M388.6,20.7 393.6,20.3 398.5,20.0 403.5,19.7 408.4,19.3 415.5,13.0 411.6,13.0 407.7,13.0 403.8,13.0 399.9,13.0 396.0,13.0 388.6,20.7Z M419.8,115.6 429.6,118.4 435.0,119.1 438.2,115.6 437.6,109.7 432.5,107.9 434.6,101.7 427.8,105.5 419.8,115.6Z M243.0,113.2 238.2,111.1 234.9,104.5 243.4,107.2 243.0,113.2Z M322.3,207.4 328.7,203.4 335.0,202.7 339.3,205.2 345.1,208.8 350.4,210.6 354.7,213.5 345.0,214.6 343.1,211.7 335.9,207.7 330.0,205.6 322.3,207.4Z M353.9,214.9 359.9,214.6 367.6,215.3 372.2,219.2 367.0,220.7 362.2,222.8 359.3,220.7 353.4,219.9 358.8,218.9 353.9,214.9Z M341.3,219.9 347.4,220.7 345.8,221.7 341.3,219.9Z M375.9,219.6 380.8,219.9 380.1,221.4 375.7,221.4 375.9,219.6Z M341.6,255.1 344.1,254.1 347.5,248.7 349.9,246.5 355.6,245.4 360.6,241.5 360.0,246.5 358.9,248.3 360.9,251.9 362.1,247.2 364.5,244.4 365.2,242.9 366.7,244.7 371.2,247.9 374.6,247.9 383.8,247.9 388.5,247.9 389.9,250.1 392.9,255.1 396.6,256.2 401.5,261.6 405.2,264.5 410.9,264.8 416.2,265.9 419.9,268.4 422.1,270.9 423.9,273.4 427.0,279.5 427.6,284.2 425.4,287.1 431.7,289.6 436.5,288.5 442.8,291.0 445.1,295.0 452.3,296.1 455.5,296.4 460.2,296.8 463.4,299.3 468.2,303.2 473.9,306.1 475.3,312.9 473.9,318.3 471.8,323.0 468.1,326.9 464.3,332.7 462.9,339.1 462.8,349.5 461.6,356.0 459.9,358.9 458.2,365.0 455.3,368.6 451.6,368.2 447.1,369.6 442.3,372.2 438.0,375.4 436.0,377.5 436.1,381.1 436.9,385.1 435.2,389.7 432.8,394.4 430.9,398.0 428.1,401.2 425.1,407.0 421.3,411.3 417.5,411.3 413.3,409.8 410.3,408.1 410.7,410.2 415.0,413.8 415.2,415.9 417.1,418.1 416.0,422.4 412.1,424.9 402.6,425.6 404.6,431.3 402.6,433.4 396.7,433.1 400.1,437.7 402.1,438.8 398.8,440.2 399.5,445.5 395.1,449.4 395.3,451.8 400.4,454.3 401.9,457.1 398.6,461.3 398.6,465.1 396.4,466.5 397.5,470.3 400.6,472.7 397.9,473.4 401.8,476.1 405.4,478.5 412.6,481.3 409.5,482.0 404.0,481.6 398.9,482.0 394.2,480.2 388.7,476.8 384.3,474.1 380.8,469.9 377.9,464.8 375.8,459.5 376.7,456.0 373.0,452.9 374.6,449.0 374.6,443.4 372.2,437.7 372.3,435.6 370.3,431.3 371.0,428.8 369.1,424.2 369.1,419.9 369.4,413.4 370.3,408.1 370.1,404.5 368.4,395.5 367.7,388.3 368.4,382.9 368.2,375.7 367.9,370.7 367.7,363.2 366.2,352.4 362.5,349.2 355.5,345.2 348.7,339.8 345.9,335.5 342.9,329.1 339.0,322.6 336.1,315.8 333.1,310.4 328.8,307.5 328.3,302.9 331.4,298.2 332.9,295.0 329.4,293.9 330.6,289.2 332.1,284.2 333.1,282.4 336.0,279.5 339.2,276.7 341.5,272.0 340.4,266.3 340.9,262.7 339.4,260.2 341.6,255.1Z M568.4,156.8 572.0,154.3 578.8,154.3 582.6,151.1 584.1,145.0 585.6,142.1 587.9,138.9 591.4,137.5 594.2,134.3 593.9,131.5 596.4,130.0 600.4,130.8 603.9,131.1 605.8,129.3 608.4,128.6 610.3,126.8 612.9,127.9 615.1,132.2 616.9,133.9 620.5,136.4 624.1,138.2 626.2,139.6 628.7,141.8 630.7,142.5 632.1,146.4 630.9,149.6 632.4,150.0 633.7,147.8 635.3,146.0 633.4,143.9 635.0,140.7 638.9,142.1 637.2,140.0 633.9,138.6 631.2,137.1 631.7,135.7 627.3,135.0 624.6,132.5 623.5,129.7 620.3,127.2 619.8,123.3 622.2,122.3 623.9,122.6 623.6,125.1 625.5,124.0 628.3,127.6 631.9,130.0 635.4,131.8 638.2,133.9 641.0,136.1 641.4,141.4 644.0,143.9 645.6,146.4 647.2,148.5 649.1,153.9 651.6,155.3 653.7,155.0 652.2,151.1 653.2,149.6 655.7,150.7 654.5,147.8 651.6,144.3 650.7,141.4 651.5,140.3 654.3,142.5 655.7,139.3 660.4,139.6 661.2,141.4 661.8,144.3 663.6,148.2 665.9,153.2 668.4,154.3 672.4,156.1 675.5,153.9 679.7,155.0 685.5,156.1 690.0,154.6 691.8,154.6 691.4,158.6 692.1,161.8 691.2,164.3 690.1,168.3 689.8,171.1 688.6,173.6 687.2,174.4 682.6,174.0 683.6,178.3 686.5,183.7 689.7,186.2 690.3,182.6 691.4,180.1 693.8,187.3 697.0,192.7 700.5,198.8 703.8,202.4 706.4,208.8 709.2,214.2 712.6,218.9 717.6,225.3 718.9,231.4 720.4,236.8 721.5,240.4 726.2,240.1 730.8,237.9 736.9,235.7 738.7,233.9 743.0,231.4 747.6,230.0 748.9,226.8 753.5,225.0 757.3,222.5 761.0,221.4 762.3,218.5 764.7,217.1 766.5,212.4 767.8,209.9 769.8,205.2 767.2,203.4 765.7,201.3 760.6,199.1 758.5,196.6 757.6,191.6 755.4,194.1 755.0,195.5 752.5,198.4 748.3,199.5 745.2,199.8 743.9,198.8 742.3,192.3 741.3,197.0 740.1,194.5 738.5,190.9 736.4,189.1 734.7,187.3 732.5,183.7 730.9,180.5 732.2,178.3 735.2,177.9 737.4,179.0 739.6,182.3 742.2,186.2 746.1,188.0 750.4,190.5 754.9,190.2 757.1,188.4 760.9,193.4 762.5,194.1 767.8,194.8 771.2,195.2 776.5,195.5 783.3,195.5 789.3,194.8 791.2,197.0 793.0,200.2 795.9,201.3 797.5,204.2 801.2,203.8 802.9,205.2 798.3,205.9 801.1,208.8 803.6,211.3 806.7,211.3 808.9,209.5 809.4,205.9 810.9,210.3 811.4,217.8 812.9,223.2 814.7,228.6 816.9,232.9 819.6,239.7 821.6,244.7 824.8,250.5 826.2,254.1 829.2,256.9 831.3,254.4 834.4,249.0 835.7,244.7 836.8,239.0 835.8,230.4 838.6,227.8 841.9,226.4 844.6,222.5 848.6,217.1 851.5,214.9 854.7,211.3 854.3,208.5 858.0,208.5 861.9,207.7 864.8,206.3 866.1,204.2 868.8,205.9 871.1,211.3 873.4,213.8 876.7,217.8 878.7,221.4 879.6,228.6 881.9,229.3 883.5,229.3 885.3,226.8 889.4,226.8 890.2,230.4 892.8,237.5 894.4,241.5 894.6,250.1 894.7,257.3 895.4,258.0 898.7,261.2 900.4,262.7 901.5,266.6 903.0,271.6 905.0,275.2 908.2,278.1 912.0,281.0 913.0,281.3 914.2,280.6 911.9,275.9 911.2,272.4 910.7,267.0 907.7,264.1 904.4,261.2 902.1,260.2 900.6,255.8 899.5,253.0 897.0,248.3 897.6,244.7 898.5,241.1 898.5,237.5 900.0,237.5 901.5,239.7 903.5,240.8 906.1,242.2 908.5,244.4 910.5,247.9 913.7,248.7 915.1,255.1 917.2,253.7 921.1,250.8 921.9,248.7 924.5,246.9 927.2,245.4 927.9,242.9 927.8,239.3 927.2,236.5 925.5,232.2 923.0,228.2 920.6,226.8 916.8,222.1 913.7,217.8 914.7,214.2 916.1,211.3 918.8,208.8 922.5,208.8 924.0,208.8 927.3,213.1 927.0,209.9 930.2,208.5 934.0,207.4 938.0,205.9 941.7,204.2 945.1,202.4 947.4,199.8 948.6,198.0 950.4,196.3 951.9,192.7 952.3,189.8 953.6,185.5 955.0,183.0 955.0,178.7 951.4,176.2 953.6,174.7 950.4,171.8 948.6,169.3 944.4,162.9 940.2,160.4 942.2,156.8 943.7,154.3 946.4,151.8 942.7,151.4 939.3,151.1 936.7,152.5 934.9,150.3 931.1,147.8 929.8,146.0 931.3,145.0 933.5,143.2 935.5,141.4 936.0,139.6 937.8,139.3 940.2,141.0 940.1,144.3 940.0,146.8 941.3,146.4 943.0,145.0 944.9,143.9 947.6,142.8 950.0,144.3 952.3,146.8 952.5,149.6 955.2,150.3 957.9,151.8 958.8,155.0 961.1,158.6 961.9,161.8 965.4,161.4 967.9,160.4 969.2,160.0 969.7,158.6 968.7,155.7 966.8,152.5 962.6,148.5 959.9,146.8 957.5,144.6 957.1,143.2 958.9,141.8 960.6,139.6 959.4,136.1 960.7,134.3 961.5,132.9 962.7,131.5 966.5,132.5 969.7,130.8 971.3,128.6 973.1,124.7 972.9,118.4 973.5,115.3 974.2,112.5 971.9,110.0 969.3,105.5 966.5,99.7 962.2,95.9 959.1,94.8 954.3,93.5 951.9,94.8 948.6,92.4 946.9,91.1 945.6,86.7 946.0,83.4 946.1,78.7 949.1,75.7 954.3,75.3 961.0,75.7 963.4,74.3 969.9,75.7 973.5,76.7 977.9,76.0 976.3,73.3 975.8,69.1 980.6,67.5 985.0,70.1 985.2,72.4 991.1,80.0 989.8,82.4 993.9,87.4 997.3,91.8 1004.6,98.6 1011.7,103.8 1011.9,100.3 1010.2,96.9 1009.7,92.4 1012.7,90.7 1008.9,86.7 1011.5,86.0 1005.3,82.4 1002.3,77.3 1001.8,74.0 1002.8,72.4 1007.0,72.7 1015.4,73.3 1015.0,70.1 1015.7,67.9 1018.2,66.9 1021.4,65.6 1026.8,65.9 1022.7,62.0 1015.9,58.8 1017.3,57.2 1007.9,51.0 998.6,44.9 992.1,43.7 983.4,42.4 976.2,42.1 973.2,42.7 975.3,45.5 968.8,43.3 963.8,43.0 957.0,43.0 954.8,44.0 949.3,42.4 939.8,39.2 932.6,38.9 926.4,39.2 918.8,37.2 911.8,35.4 904.8,35.1 896.6,34.0 893.0,34.6 890.3,37.5 885.5,37.2 879.5,37.7 876.6,38.9 868.4,36.0 868.0,33.1 860.7,31.7 853.9,31.4 851.6,33.1 846.4,32.4 841.2,31.7 834.0,31.1 831.7,31.9 826.6,30.2 822.2,30.2 819.5,31.7 816.8,32.2 814.8,33.4 814.2,28.8 815.2,26.0 815.8,23.3 809.7,22.3 803.7,21.2 797.7,20.1 795.3,21.7 792.9,23.3 789.7,24.1 783.7,24.4 779.4,25.2 774.0,26.0 770.1,27.3 771.1,29.6 767.5,30.5 763.9,31.4 759.8,31.7 762.7,34.6 767.9,36.3 763.7,36.6 757.0,35.1 755.5,36.0 751.1,34.6 748.5,33.1 748.2,36.6 752.6,37.5 754.2,41.8 754.6,46.1 752.5,46.4 748.6,41.8 747.6,38.9 742.5,34.8 737.1,33.4 735.7,34.6 735.4,37.5 739.6,40.4 738.6,44.3 742.5,47.0 735.5,44.9 732.5,43.7 727.5,42.9 722.6,42.1 722.0,45.5 718.4,45.2 711.3,47.4 707.5,46.4 703.3,47.5 699.1,48.6 692.8,47.4 686.7,46.4 685.5,46.4 688.8,51.0 685.5,52.9 682.7,58.5 676.7,58.8 673.1,58.8 669.5,58.8 668.1,55.7 663.0,52.6 661.3,50.7 666.3,52.0 671.5,53.5 677.5,53.8 682.1,53.2 681.3,49.5 676.6,47.4 668.9,44.9 665.2,44.3 660.6,44.0 655.6,42.4 653.3,42.4 649.7,39.2 645.6,38.9 642.8,38.6 638.9,39.2 634.8,41.2 628.3,42.4 624.1,44.9 620.8,46.1 618.7,50.1 615.4,54.1 613.8,57.2 610.4,59.5 608.1,61.7 603.4,63.3 599.8,65.3 597.4,67.9 597.8,72.0 598.7,75.7 599.3,77.3 603.0,80.0 606.8,79.0 609.2,76.7 611.6,75.0 613.0,76.7 614.0,79.3 615.4,81.0 617.5,84.4 618.8,87.4 619.2,88.4 622.4,88.7 622.9,86.4 625.7,86.0 627.6,84.4 627.9,81.7 628.0,78.0 629.9,77.3 632.0,75.3 631.9,72.7 628.7,71.4 628.0,68.5 628.1,65.6 630.3,63.7 634.3,61.1 636.0,57.9 638.0,55.4 642.6,54.7 646.0,57.2 644.4,59.1 640.0,62.7 637.9,63.3 638.2,68.5 638.9,71.1 640.8,72.0 644.4,73.7 648.1,73.0 651.6,72.0 655.1,71.7 658.1,72.7 661.6,73.7 658.3,73.7 656.6,74.3 656.1,75.3 652.2,75.0 647.7,75.3 644.8,76.0 645.3,78.0 647.8,78.7 647.9,81.4 647.5,83.4 645.4,83.4 643.2,81.0 640.8,82.0 639.7,85.0 640.4,87.7 641.1,89.4 637.8,90.4 637.0,92.1 634.6,92.1 633.6,90.7 630.0,91.1 626.4,92.8 623.1,93.8 620.8,92.4 617.1,92.8 614.3,93.5 612.1,92.1 611.4,90.0 610.2,88.4 611.9,86.0 612.2,82.7 612.3,81.0 609.6,83.0 607.3,83.0 606.1,85.0 606.5,88.4 608.0,90.4 608.7,93.5 607.9,93.8 603.7,95.2 601.0,95.5 597.9,96.9 597.1,99.3 595.8,100.7 594.5,102.4 591.8,103.4 589.9,103.8 589.4,106.5 585.6,109.0 582.0,109.3 580.6,108.3 580.8,112.1 576.7,111.4 571.7,112.8 573.0,114.9 578.6,117.0 581.6,120.5 581.6,126.1 580.7,130.0 574.1,130.0 567.9,129.7 562.2,129.3 558.4,131.8 559.7,134.7 559.8,138.6 558.8,142.5 557.2,147.1 558.8,149.6 558.4,153.2 561.7,153.2 564.6,152.5 566.4,155.0 568.4,156.8Z M682.6,173.6 678.5,172.6 675.3,174.0 669.7,174.7 660.4,172.6 657.3,170.8 652.6,168.3 648.1,167.9 645.2,170.8 644.4,176.2 642.6,177.2 639.5,175.4 635.2,174.0 630.7,169.7 624.6,167.9 618.6,166.8 615.2,164.3 616.9,161.8 618.0,158.2 616.1,155.0 617.5,152.8 613.9,152.1 608.0,153.6 599.8,153.9 593.9,153.9 588.0,155.0 583.2,157.9 578.4,160.0 571.6,159.6 567.8,157.5 564.7,163.9 562.2,165.4 559.2,167.5 557.0,170.0 555.4,172.9 555.9,176.9 554.0,180.8 551.5,183.0 546.9,185.5 544.7,186.9 540.5,192.3 537.3,197.3 535.7,200.6 533.1,205.9 532.3,210.6 533.8,214.9 534.7,216.0 534.2,223.2 533.5,226.8 531.8,231.4 530.2,233.2 532.3,237.5 532.6,241.8 535.7,244.7 537.8,247.2 540.0,249.7 541.9,251.9 543.4,255.5 545.6,258.7 548.7,261.2 550.9,263.4 555.0,266.6 561.3,270.2 566.1,269.5 572.4,267.3 578.7,269.1 581.8,267.7 585.0,265.9 589.7,263.7 595.7,263.0 599.2,263.7 602.4,266.6 604.3,270.6 607.1,270.2 611.2,269.5 613.4,272.0 615.6,271.6 616.0,277.0 616.0,282.4 614.7,284.6 613.4,287.8 612.5,288.5 615.0,293.2 618.2,297.8 622.3,303.2 623.8,307.5 623.8,311.8 626.6,317.6 627.5,323.7 628.4,327.3 627.0,331.2 624.2,335.5 621.8,345.2 621.8,348.1 623.9,354.2 626.9,360.7 628.3,365.0 629.8,368.2 629.9,375.7 631.2,381.5 632.9,385.4 635.3,388.7 637.5,393.7 639.3,399.1 639.6,404.5 640.0,408.8 643.2,410.6 644.6,410.9 650.8,408.8 656.8,408.4 661.9,408.1 665.9,406.3 669.1,404.5 674.0,399.1 679.1,393.3 682.4,389.4 684.2,385.8 685.9,380.1 685.9,379.0 688.9,376.5 694.4,371.4 694.8,365.0 693.5,361.4 693.1,357.1 697.0,353.5 700.3,350.3 706.7,345.9 711.7,340.6 712.3,332.7 712.3,325.5 710.3,320.1 708.8,314.7 708.9,310.4 707.4,307.5 708.8,302.9 710.4,300.4 712.0,296.1 714.5,293.2 717.7,289.6 722.5,284.2 728.1,278.8 731.9,275.2 736.5,269.8 739.6,264.5 742.6,259.1 744.9,253.7 746.7,248.7 746.1,243.6 743.6,243.3 739.0,245.4 734.3,246.2 726.5,248.7 723.4,248.7 720.7,244.4 719.3,241.1 716.0,237.5 712.8,233.9 708.5,230.0 706.4,226.8 704.9,221.4 701.3,218.5 700.6,215.6 700.3,210.6 699.1,207.0 694.7,200.2 692.7,196.3 689.1,190.2 688.3,188.4 684.9,183.3 683.6,178.3 682.6,173.6Z M569.4,106.9 573.5,105.8 576.8,104.8 582.3,104.5 586.4,104.5 588.8,103.1 587.2,101.7 589.6,98.3 587.7,97.2 585.8,95.5 584.5,93.1 581.8,91.4 580.8,88.4 579.8,87.0 577.2,86.7 578.2,85.7 580.4,81.7 575.2,81.4 576.8,78.0 572.2,78.0 570.5,81.7 568.9,84.0 570.3,89.0 572.3,90.7 576.3,90.4 576.5,93.5 577.0,95.9 572.7,95.9 573.4,99.3 570.9,101.4 575.8,102.4 573.6,103.1 569.4,106.9Z M568.8,99.7 568.7,95.5 568.8,93.5 570.4,91.8 569.2,89.4 565.3,89.0 563.1,89.7 562.4,92.4 558.4,92.8 558.5,95.5 560.1,96.2 557.2,100.0 558.4,101.7 562.8,101.0 568.8,99.7Z M530.3,61.1 534.0,60.8 539.4,62.4 548.7,59.8 552.6,57.2 550.6,53.5 547.2,52.6 541.1,53.8 536.4,53.8 533.0,52.9 529.3,53.5 531.3,55.4 527.7,55.7 532.2,57.2 527.2,57.9 530.3,61.1Z M607.1,18.0 612.5,19.9 620.3,23.3 623.6,19.3 628.2,17.8 633.0,15.2 637.6,13.0 633.5,13.0 629.3,13.0 625.2,13.0 621.0,13.0 616.9,13.0 612.8,13.0 608.6,13.0 604.5,13.0 607.1,18.0Z M700.9,37.5 710.1,40.1 714.5,39.8 706.0,34.6 706.9,30.2 709.6,26.0 713.1,25.0 716.6,24.1 720.2,23.4 723.8,22.7 727.3,22.0 721.1,22.0 716.5,22.7 711.9,23.4 707.2,24.1 702.8,28.8 701.9,33.1 700.9,37.5Z M717.0,40.4 722.7,42.4 720.5,39.8 717.0,40.4Z M777.8,19.3 782.1,18.7 786.3,18.0 791.4,18.0 796.4,18.0 787.6,13.0 783.4,13.0 779.1,13.0 774.8,13.0 770.5,13.0 766.2,13.0 777.8,19.3Z M877.4,28.8 889.0,31.7 897.4,32.2 900.0,30.8 902.6,29.3 905.1,27.9 897.5,26.0 892.2,25.4 886.9,24.7 881.6,24.1 878.5,25.0 875.4,26.0 877.4,28.8Z M985.4,38.9 986.1,37.5 989.8,39.5 985.4,38.9Z M180.2,39.5 183.9,37.5 188.4,38.0 183.0,39.2 180.2,39.5Z M152.7,57.2 159.8,55.7 162.7,57.9 166.6,59.5 173.0,55.7 180.3,54.7 182.8,53.5 180.4,51.4 175.9,48.9 173.7,46.4 171.4,44.9 162.1,51.0Z M984.7,121.2 987.4,119.1 978.6,109.0 984.0,110.7 975.2,103.8 968.9,96.9 964.0,92.4 964.8,95.2 970.7,102.1 974.0,107.2 979.7,114.2 982.9,119.1 984.7,121.2Z M989.5,137.1 992.3,136.1 991.9,133.2 997.9,135.4 1000.9,132.5 1001.2,130.8 997.5,128.6 993.4,127.6 985.7,123.3 988.1,128.3 987.1,131.1 987.7,134.3 989.5,137.1Z M976.5,163.9 979.5,163.2 983.7,162.5 988.8,162.5 990.7,165.0 993.0,163.2 994.5,161.8 998.3,161.8 999.0,160.0 1002.2,160.4 1003.6,157.9 1000.6,153.9 999.5,149.6 999.9,145.3 996.7,140.7 993.7,137.9 990.4,138.6 992.9,142.5 994.3,146.4 993.7,150.3 990.2,153.2 988.5,152.1 988.6,157.1 986.8,158.2 980.5,158.6 977.2,161.1 976.5,163.9Z M973.9,165.7 976.7,164.3 979.9,166.5 982.1,171.1 981.1,174.7 978.3,173.6 975.1,168.6 973.9,165.7Z M982.1,167.5 982.8,163.9 987.0,163.2 988.2,164.7 986.8,166.5 984.5,168.3 982.1,167.5Z M955.8,203.4 956.0,198.0 958.7,195.2 960.2,197.7 959.3,207.0 958.7,207.4 955.8,203.4Z M922.6,217.1 925.0,214.2 928.4,214.2 929.9,215.6 928.0,219.9 923.3,219.6 922.6,217.1Z M960.3,219.6 965.3,219.6 966.2,225.0 964.8,229.6 966.8,235.0 970.4,236.1 974.2,239.3 973.4,240.8 969.4,238.6 965.7,236.5 962.7,234.7 962.1,230.4 959.5,227.5 960.5,224.3 960.3,219.6Z M968.1,243.6 972.0,244.7 974.6,245.4 978.8,246.5 980.2,250.1 978.4,250.8 975.3,251.5 973.1,252.6 970.5,250.5 968.3,247.9 968.1,243.6Z M969.6,260.9 972.6,258.0 974.9,255.5 977.7,254.1 980.0,251.5 982.8,255.5 983.8,260.9 982.4,263.7 980.3,265.2 976.1,262.7 972.1,260.2 969.6,260.9Z M954.2,255.8 960.8,248.3 961.1,245.4 958.8,250.1 954.2,255.8Z M885.7,266.3 892.7,267.3 896.7,272.4 900.9,276.7 905.7,279.5 910.5,284.2 913.0,289.6 915.2,293.2 919.8,297.5 919.3,302.2 918.8,307.2 914.7,307.2 911.7,303.2 908.0,299.6 904.1,293.9 902.3,289.2 899.5,284.2 897.2,279.9 893.0,275.6 889.7,272.7 885.7,266.3Z M916.7,310.4 919.4,307.5 921.9,307.9 926.6,308.6 928.7,310.4 933.1,310.8 936.6,309.7 940.3,310.8 942.7,313.6 945.5,314.0 945.6,317.2 941.0,315.8 934.7,315.4 930.1,313.6 925.3,314.0 920.4,312.6 916.7,310.4Z M947.3,315.1 950.4,315.8 955.1,316.2 959.8,316.9 964.6,315.8 970.9,315.8 974.1,315.4 978.7,316.5 985.0,316.2 980.1,319.4 975.0,323.0 973.6,322.3 969.1,319.0 961.1,320.1 953.4,318.3 947.1,317.6 947.3,315.1Z M929.4,280.3 933.5,280.3 937.2,276.7 941.9,274.5 944.9,269.8 948.0,268.1 951.3,264.5 953.2,260.9 955.6,262.7 957.3,265.2 961.3,267.7 957.6,270.6 956.8,275.2 957.8,278.8 957.3,282.4 961.1,282.8 958.0,286.0 956.4,287.8 954.1,290.7 953.0,295.0 951.3,299.6 946.9,298.2 941.9,297.1 937.1,297.5 933.1,296.4 932.6,291.4 930.2,286.4 929.4,280.3Z M962.7,287.8 964.9,283.8 969.0,284.2 973.8,284.6 978.5,283.5 980.0,281.0 979.3,280.3 975.3,282.4 967.4,281.7 965.2,281.7 964.3,285.3 969.0,289.2 975.0,289.2 973.0,291.4 969.5,292.8 971.9,298.6 973.0,302.2 970.1,303.2 967.2,296.8 966.6,295.3 965.3,296.4 965.1,303.9 964.9,306.1 961.8,305.4 962.6,300.4 960.2,296.1 962.7,287.8Z M987.8,278.1 991.0,280.6 989.6,284.2 991.1,287.8 988.0,286.0 987.8,278.1Z M989.0,296.8 994.0,296.1 998.1,298.6 992.4,298.6 988.9,297.8 989.0,296.8Z M999.0,290.3 1003.8,287.4 1008.5,289.2 1009.2,295.0 1012.9,297.8 1017.9,291.4 1022.6,292.1 1029.4,295.3 1035.0,297.8 1039.7,299.6 1045.2,304.7 1048.1,307.5 1051.2,308.6 1050.0,311.8 1051.9,314.7 1054.8,318.3 1056.8,323.0 1059.2,324.1 1055.2,323.3 1050.0,322.3 1046.3,318.3 1041.9,314.4 1038.7,314.0 1036.7,316.5 1035.2,319.0 1028.9,318.7 1027.2,316.5 1022.9,315.1 1019.7,315.8 1020.6,312.6 1019.9,305.7 1014.4,302.5 1009.7,299.6 1006.2,300.4 1002.6,296.1 1006.7,294.3 1002.0,293.2 999.0,290.3Z M1053.0,305.7 1058.4,304.7 1063.3,301.1 1065.8,302.2 1062.5,305.7 1058.1,308.3 1053.0,305.7Z M1033.0,324.4 1035.3,330.9 1034.6,336.3 1037.6,337.3 1039.4,341.6 1039.9,346.7 1040.3,352.4 1041.3,355.3 1044.5,357.8 1047.3,361.7 1048.8,365.7 1050.9,367.1 1050.5,370.0 1052.8,372.2 1053.8,375.4 1056.0,376.5 1054.0,381.1 1052.8,384.7 1052.9,388.7 1050.5,391.9 1049.1,394.8 1044.5,400.9 1040.8,404.1 1037.4,407.7 1033.9,412.0 1029.7,416.3 1026.7,420.6 1020.5,421.7 1016.6,423.5 1013.3,426.3 1011.8,424.2 1010.6,423.1 1007.6,423.8 1005.4,425.2 1001.7,423.8 1000.7,423.5 998.1,422.4 997.6,418.8 998.8,415.2 997.8,413.8 995.2,414.1 997.9,411.3 998.0,408.8 999.1,403.4 996.7,407.7 993.6,410.9 992.3,412.4 993.9,412.7 990.6,410.9 990.3,410.9 989.4,408.1 988.0,404.1 987.7,401.2 980.4,399.1 974.1,399.8 964.2,402.0 957.0,405.2 954.5,407.7 949.7,407.7 943.9,408.1 936.3,411.6 932.2,411.6 928.8,409.5 929.5,406.6 931.9,405.5 933.6,400.9 934.0,393.7 934.6,390.1 933.4,386.5 933.2,379.3 934.8,375.4 935.1,370.4 937.4,364.6 938.0,366.4 942.6,363.2 946.9,359.9 953.0,358.9 957.7,357.1 962.8,354.2 965.6,350.6 967.2,347.0 970.6,345.2 972.5,343.1 975.4,340.9 978.9,338.1 982.3,336.3 985.3,337.3 986.2,339.8 988.8,339.1 990.9,339.8 991.6,337.0 993.7,332.7 995.5,330.5 998.7,329.8 1001.3,329.1 1001.6,327.3 1004.2,328.4 1008.9,329.1 1012.1,328.7 1014.7,330.2 1013.0,333.4 1010.5,335.5 1009.0,339.8 1011.2,341.6 1014.4,344.5 1017.2,346.3 1019.3,348.5 1023.9,348.8 1027.1,343.4 1028.1,339.8 1028.5,334.5 1029.9,331.2 1031.1,327.3 1033.0,324.4Z M1004.9,432.0 1009.2,433.4 1014.9,432.7 1011.5,437.3 1008.0,440.9 1005.0,442.0 1001.9,442.3 1002.9,437.3 1004.9,432.0Z M1101.5,409.8 1103.2,413.4 1101.5,418.4 1104.2,418.8 1104.6,421.3 1109.3,420.9 1110.5,421.3 1105.2,426.7 1101.3,428.1 1097.5,431.3 1091.2,435.2 1090.6,434.1 1094.8,429.5 1093.5,427.0 1093.2,426.7 1097.2,424.2 1100.4,418.8 1100.5,411.6 1101.5,409.8Z M1086.7,431.3 1088.0,435.6 1082.9,439.1 1078.4,442.3 1072.2,444.8 1066.1,450.1 1060.3,452.9 1057.0,452.9 1054.3,450.1 1056.9,448.0 1064.5,443.7 1073.5,440.2 1079.7,435.9 1084.2,432.4 1086.7,431.3Z M836.6,260.9 836.6,254.4 837.4,250.8 840.1,255.1 842.8,259.1 842.4,263.0 839.0,264.8 837.3,263.0 836.6,260.9Z M739.8,329.1 742.2,338.1 742.9,341.6 740.4,346.3 739.2,350.6 735.8,359.6 732.6,368.6 729.9,375.4 724.8,377.5 720.7,374.7 719.5,369.6 719.0,364.3 722.2,357.8 723.2,352.4 722.3,347.0 724.0,344.2 729.8,342.0 733.1,339.1 735.1,334.8 737.7,333.4 739.8,329.1Z M621.5,149.6 624.7,148.9 630.8,148.5 629.6,153.2 627.3,153.9 621.8,151.1 621.5,149.6Z M608.8,139.3 612.8,138.6 613.6,142.5 612.8,145.7 609.9,146.0 609.5,142.8 608.8,139.3Z M609.8,137.1 611.6,137.5 612.3,134.7 611.9,131.8 609.7,133.6 609.8,137.1Z M654.9,159.3 663.3,159.6 661.9,160.4 656.5,160.0 654.9,159.3Z M681.4,161.4 685.2,160.7 687.8,158.2 683.2,159.3 681.3,160.4 681.4,161.4Z M613.6,87.4 618.0,86.7 617.7,89.4 614.5,89.4 613.6,87.4Z M631.8,82.4 633.9,80.3 633.0,83.7 631.8,82.4Z M752.2,240.8 756.0,240.8 755.1,241.8 752.2,240.8Z M100.2,214.9 103.7,214.2 104.0,216.0 100.4,218.2 100.2,214.9Z M418.7,469.9 427.4,469.3 428.8,471.7 423.3,472.7 418.7,469.9Z M390.4,247.2 393.2,247.2 393.1,249.7 390.2,249.7 390.4,247.2Z M346.2,189.8 349.1,190.9 346.6,196.3 344.9,198.0 346.2,189.8Z M875.3,237.5 876.8,241.1 876.2,244.7 875.3,241.1 875.3,237.5Z M1094.0,358.5 1097.6,362.5 1101.3,366.1 1099.0,365.3 1094.6,359.6 1094.0,358.5Z M1137.6,349.2 1141.9,348.1 1140.3,351.0 1137.2,350.6 1137.6,349.2Z M1075.4,309.3 1079.8,312.9 1088.9,316.5 1093.3,320.1 1088.7,319.4 1079.6,315.4 1075.4,309.3Z M326.0,24.1 336.6,21.2 340.8,21.9 345.0,22.5 337.0,25.2 333.3,24.8 329.6,24.5 326.0,24.1Z M356.2,20.4 361.2,19.7 366.2,19.1 371.1,18.4 376.0,17.8 379.7,19.6 374.0,20.3 368.3,21.0 362.6,21.7 359.4,21.1 356.2,20.4Z M379.4,27.6 387.4,27.0 389.4,24.4 383.0,23.6 379.4,27.6Z M372.2,20.7 377.1,20.0 382.0,19.3 386.9,18.7 391.7,18.0 394.8,18.8 398.0,19.6 391.8,20.5 385.6,21.5 381.1,21.2 376.7,20.9 372.2,20.7Z M374.9,34.6 380.7,34.3 386.4,34.0 390.1,29.9 384.6,30.1 379.0,30.2 374.9,34.6Z M359.9,37.5 364.8,37.0 369.7,36.6 376.9,30.2 372.1,30.7 367.3,31.2 362.5,31.7 359.9,37.5Z M355.1,46.4 360.2,45.8 365.3,45.2 366.2,42.7 358.8,43.3 355.1,46.4Z" fill="#d3d3d3" fill-rule="nonzero"/>
<defs><filter id="f0" x="-30%" y="-30%" width="160%" height="160%" color-interpolation-filters="sRGB"><feGaussianBlur in="SourceAlpha" stdDeviation="3.0" result="m"/><feTurbulence type="fractalNoise" baseFrequency="0.3" numOctaves="2" seed="37" result="n"/><feColorMatrix in="n" type="matrix" values="0 0 0 0 0 0 0 0 0 0 0 0 0 0 0 1 0 0 0 0" result="na"/><feComposite in="na" in2="m" operator="arithmetic" k1="0" k2="1" k3="0.6" k4="-0.6" result="c"/><feTurbulence type="fractalNoise" baseFrequency="0.05" numOctaves="2" seed="40" result="l"/><feColorMatrix in="l" type="matrix" values="0 0 0 0 0 0 0 0 0 0 0 0 0 0 0 1 0 0 0 0" result="la"/><feComposite in="c" in2="la" operator="arithmetic" k1="0" k2="1" k3="0.55" k4="-0.275" result="c2"/><feColorMatrix in="c2" type="matrix" values="0 0 0 0 1.000 0 0 0 0 0.000 0 0 0 0 1.000 0 0 0 30.0 -9.177"/></filter><filter id="f1" x="-30%" y="-30%" width="160%" height="160%" color-interpolation-filters="sRGB"><feGaussianBlur in="SourceAlpha" stdDeviation="3.0" result="m"/><feTurbulence type="fractalNoise" baseFrequency="0.3" numOctaves="2" seed="37" result="n"/><feColorMatrix in="n" type="matrix" values="0 0 0 0 0 0 0 0 0 0 0 0 0 0 0 1 0 0 0 0" result="na"/><feComposite in="na" in2="m" operator="arithmetic" k1="0" k2="1" k3="0.6" k4="-0.6" result="c"/><feTurbulence type="fractalNoise" baseFrequency="0.05" numOctaves="2" seed="40" result="l"/><feColorMatrix in="l" type="matrix" values="0 0 0 0 0 0 0 0 0 0 0 0 0 0 0 1 0 0 0 0" result="la"/><feComposite in="c" in2="la" operator="arithmetic" k1="0" k2="1" k3="0.55" k4="-0.275" result="c2"/><feColorMatrix in="c2" type="matrix" values="0 0 0 0 1.000 0 0 0 0 0.000 0 0 0 0 1.000 0 0 0 30.0 -15.557"/></filter><filter id="f2" x="-30%" y="-30%" width="160%" height="160%" color-interpolation-filters="sRGB"><feGaussianBlur in="SourceAlpha" stdDeviation="3.0" result="m"/><feTurbulence type="fractalNoise" baseFrequency="0.3" numOctaves="2" seed="37" result="n"/><feColorMatrix in="n" type="matrix" values="0 0 0 0 0 0 0 0 0 0 0 0 0 0 0 1 0 0 0 0" result="na"/><feComposite in="na" in2="m" operator="arithmetic" k1="0" k2="1" k3="0.6" k4="-0.6" result="c"/><feTurbulence type="fractalNoise" baseFrequency="0.05" numOctaves="2" seed="40" result="l"/><feColorMatrix in="l" type="matrix" values="0 0 0 0 0 0 0 0 0 0 0 0 0 0 0 1 0 0 0 0" result="la"/><feComposite in="c" in2="la" operator="arithmetic" k1="0" k2="1" k3="0.55" k4="-0.275" result="c2"/><feColorMatrix in="c2" type="matrix" values="0 0 0 0 1.000 0 0 0 0 0.000 0 0 0 0 1.000 0 0 0 30.0 -10.928"/></filter><filter id="f3" x="-30%" y="-30%" width="160%" height="160%" color-interpolation-filters="sRGB"><feGaussianBlur in="SourceAlpha" stdDeviation="3.0" result="m"/><feTurbulence type="fractalNoise" baseFrequency="0.3" numOctaves="2" seed="11" result="n"/><feColorMatrix in="n" type="matrix" values="0 0 0 0 0 0 0 0 0 0 0 0 0 0 0 1 0 0 0 0" result="na"/><feComposite in="na" in2="m" operator="arithmetic" k1="0" k2="1" k3="0.6" k4="-0.6" result="c"/><feTurbulence type="fractalNoise" baseFrequency="0.05" numOctaves="2" seed="14" result="l"/><feColorMatrix in="l" type="matrix" values="0 0 0 0 0 0 0 0 0 0 0 0 0 0 0 1 0 0 0 0" result="la"/><feComposite in="c" in2="la" operator="arithmetic" k1="0" k2="1" k3="0.55" k4="-0.275" result="c2"/><feColorMatrix in="c2" type="matrix" values="0 0 0 0 0.165 0 0 0 0 0.165 0 0 0 0 0.063 0 0 0 30.0 -18.246"/></filter><filter id="f4" x="-30%" y="-30%" width="160%" height="160%" color-interpolation-filters="sRGB"><feGaussianBlur in="SourceAlpha" stdDeviation="3.0" result="m"/><feTurbulence type="fractalNoise" baseFrequency="0.3" numOctaves="2" seed="11" result="n"/><feColorMatrix in="n" type="matrix" values="0 0 0 0 0 0 0 0 0 0 0 0 0 0 0 1 0 0 0 0" result="na"/><feComposite in="na" in2="m" operator="arithmetic" k1="0" k2="1" k3="0.6" k4="-0.6" result="c"/><feTurbulence type="fractalNoise" baseFrequency="0.05" numOctaves="2" seed="14" result="l"/><feColorMatrix in="l" type="matrix" values="0 0 0 0 0 0 0 0 0 0 0 0 0 0 0 1 0 0 0 0" result="la"/><feComposite in="c" in2="la" operator="arithmetic" k1="0" k2="1" k3="0.55" k4="-0.275" result="c2"/><feColorMatrix in="c2" type="matrix" values="0 0 0 0 1.000 0 0 0 0 0.843 0 0 0 0 0.000 0 0 0 30.0 -20.046"/></filter><filter id="f5" x="-30%" y="-30%" width="160%" height="160%" color-interpolation-filters="sRGB"><feGaussianBlur in="SourceAlpha" stdDeviation="3.0" result="m"/><feTurbulence type="fractalNoise" baseFrequency="0.3" numOctaves="2" seed="51" result="n"/><feColorMatrix in="n" type="matrix" values="0 0 0 0 0 0 0 0 0 0 0 0 0 0 0 1 0 0 0 0" result="na"/><feComposite in="na" in2="m" operator="arithmetic" k1="0" k2="1" k3="0.6" k4="-0.6" result="c"/><feTurbulence type="fractalNoise" baseFrequency="0.05" numOctaves="2" seed="54" result="l"/><feColorMatrix in="l" type="matrix" values="0 0 0 0 0 0 0 0 0 0 0 0 0 0 0 1 0 0 0 0" result="la"/><feComposite in="c" in2="la" operator="arithmetic" k1="0" k2="1" k3="0.35" k4="-0.175" result="c2"/><feColorMatrix in="c2" type="matrix" values="0 0 0 0 0.000 0 0 0 0 0.000 0 0 0 0 0.000 0 0 0 30.0 -21.369"/></filter><filter id="f6" x="-30%" y="-30%" width="160%" height="160%" color-interpolation-filters="sRGB"><feGaussianBlur in="SourceAlpha" stdDeviation="3.0" result="m"/><feTurbulence type="fractalNoise" baseFrequency="0.3" numOctaves="2" seed="11" result="n"/><feColorMatrix in="n" type="matrix" values="0 0 0 0 0 0 0 0 0 0 0 0 0 0 0 1 0 0 0 0" result="na"/><feComposite in="na" in2="m" operator="arithmetic" k1="0" k2="1" k3="0.6" k4="-0.6" result="c"/><feTurbulence type="fractalNoise" baseFrequency="0.05" numOctaves="2" seed="14" result="l"/><feColorMatrix in="l" type="matrix" values="0 0 0 0 0 0 0 0 0 0 0 0 0 0 0 1 0 0 0 0" result="la"/><feComposite in="c" in2="la" operator="arithmetic" k1="0" k2="1" k3="0.55" k4="-0.275" result="c2"/><feColorMatrix in="c2" type="matrix" values="0 0 0 0 0.165 0 0 0 0 0.165 0 0 0 0 0.063 0 0 0 30.0 -14.975"/></filter><filter id="f7" x="-30%" y="-30%" width="160%" height="160%" color-interpolation-filters="sRGB"><feGaussianBlur in="SourceAlpha" stdDeviation="3.0" result="m"/><feTurbulence type="fractalNoise" baseFrequency="0.3" numOctaves="2" seed="11" result="n"/><feColorMatrix in="n" type="matrix" values="0 0 0 0 0 0 0 0 0 0 0 0 0 0 0 1 0 0 0 0" result="na"/><feComposite in="na" in2="m" operator="arithmetic" k1="0" k2="1" k3="0.6" k4="-0.6" result="c"/><feTurbulence type="fractalNoise" baseFrequency="0.05" numOctaves="2" seed="14" result="l"/><feColorMatrix in="l" type="matrix" values="0 0 0 0 0 0 0 0 0 0 0 0 0 0 0 1 0 0 0 0" result="la"/><feComposite in="c" in2="la" operator="arithmetic" k1="0" k2="1" k3="0.55" k4="-0.275" result="c2"/><feColorMatrix in="c2" type="matrix" values="0 0 0 0 1.000 0 0 0 0 0.843 0 0 0 0 0.000 0 0 0 30.0 -16.775"/></filter><filter id="f8" x="-30%" y="-30%" width="160%" height="160%" color-interpolation-filters="sRGB"><feGaussianBlur in="SourceAlpha" stdDeviation="3.0" result="m"/><feTurbulence type="fractalNoise" baseFrequency="0.3" numOctaves="2" seed="23" result="n"/><feColorMatrix in="n" type="matrix" values="0 0 0 0 0 0 0 0 0 0 0 0 0 0 0 1 0 0 0 0" result="na"/><feComposite in="na" in2="m" operator="arithmetic" k1="0" k2="1" k3="0.6" k4="-0.6" result="c"/><feTurbulence type="fractalNoise" baseFrequency="0.05" numOctaves="2" seed="26" result="l"/><feColorMatrix in="l" type="matrix" values="0 0 0 0 0 0 0 0 0 0 0 0 0 0 0 1 0 0 0 0" result="la"/><feComposite in="c" in2="la" operator="arithmetic" k1="0" k2="1" k3="0.55" k4="-0.275" result="c2"/><feColorMatrix in="c2" type="matrix" values="0 0 0 0 0.529 0 0 0 0 0.808 0 0 0 0 0.980 0 0 0 30.0 -18.343"/></filter><filter id="f9" x="-30%" y="-30%" width="160%" height="160%" color-interpolation-filters="sRGB"><feGaussianBlur in="SourceAlpha" stdDeviation="3.0" result="m"/><feTurbulence type="fractalNoise" baseFrequency="0.3" numOctaves="2" seed="51" result="n"/><feColorMatrix in="n" type="matrix" values="0 0 0 0 0 0 0 0 0 0 0 0 0 0 0 1 0 0 0 0" result="na"/><feComposite in="na" in2="m" operator="arithmetic" k1="0" k2="1" k3="0.6" k4="-0.6" result="c"/><feTurbulence type="fractalNoise" baseFrequency="0.05" numOctaves="2" seed="54" result="l"/><feColorMatrix in="l" type="matrix" values="0 0 0 0 0 0 0 0 0 0 0 0 0 0 0 1 0 0 0 0" result="la"/><feComposite in="c" in2="la" operator="arithmetic" k1="0" k2="1" k3="0.35" k4="-0.175" result="c2"/><feColorMatrix in="c2" type="matrix" values="0 0 0 0 0.000 0 0 0 0 0.000 0 0 0 0 0.000 0 0 0 30.0 -20.893"/></filter><filter id="f10" x="-30%" y="-30%" width="160%" height="160%" color-interpolation-filters="sRGB"><feGaussianBlur in="SourceAlpha" stdDeviation="3.0" result="m"/><feTurbulence type="fractalNoise" baseFrequency="0.3" numOctaves="2" seed="23" result="n"/><feColorMatrix in="n" type="matrix" values="0 0 0 0 0 0 0 0 0 0 0 0 0 0 0 1 0 0 0 0" result="na"/><feComposite in="na" in2="m" operator="arithmetic" k1="0" k2="1" k3="0.6" k4="-0.6" result="c"/><feTurbulence type="fractalNoise" baseFrequency="0.05" numOctaves="2" seed="26" result="l"/><feColorMatrix in="l" type="matrix" values="0 0 0 0 0 0 0 0 0 0 0 0 0 0 0 1 0 0 0 0" result="la"/><feComposite in="c" in2="la" operator="arithmetic" k1="0" k2="1" k3="0.55" k4="-0.275" result="c2"/><feColorMatrix in="c2" type="matrix" values="0 0 0 0 0.529 0 0 0 0 0.808 0 0 0 0 0.980 0 0 0 30.0 -15.356"/></filter><filter id="f11" x="-30%" y="-30%" width="160%" height="160%" color-interpolation-filters="sRGB"><feGaussianBlur in="SourceAlpha" stdDeviation="3.0" result="m"/><feTurbulence type="fractalNoise" baseFrequency="0.3" numOctaves="2" seed="11" result="n"/><feColorMatrix in="n" type="matrix" values="0 0 0 0 0 0 0 0 0 0 0 0 0 0 0 1 0 0 0 0" result="na"/><feComposite in="na" in2="m" operator="arithmetic" k1="0" k2="1" k3="0.6" k4="-0.6" result="c"/><feTurbulence type="fractalNoise" baseFrequency="0.05" numOctaves="2" seed="14" result="l"/><feColorMatrix in="l" type="matrix" values="0 0 0 0 0 0 0 0 0 0 0 0 0 0 0 1 0 0 0 0" result="la"/><feComposite in="c" in2="la" operator="arithmetic" k1="0" k2="1" k3="0.55" k4="-0.275" result="c2"/><feColorMatrix in="c2" type="matrix" values="0 0 0 0 0.165 0 0 0 0 0.165 0 0 0 0 0.063 0 0 0 30.0 -17.542"/></filter><filter id="f12" x="-30%" y="-30%" width="160%" height="160%" color-interpolation-filters="sRGB"><feGaussianBlur in="SourceAlpha" stdDeviation="3.0" result="m"/><feTurbulence type="fractalNoise" baseFrequency="0.3" numOctaves="2" seed="11" result="n"/><feColorMatrix in="n" type="matrix" values="0 0 0 0 0 0 0 0 0 0 0 0 0 0 0 1 0 0 0 0" result="na"/><feComposite in="na" in2="m" operator="arithmetic" k1="0" k2="1" k3="0.6" k4="-0.6" result="c"/><feTurbulence type="fractalNoise" baseFrequency="0.05" numOctaves="2" seed="14" result="l"/><feColorMatrix in="l" type="matrix" values="0 0 0 0 0 0 0 0 0 0 0 0 0 0 0 1 0 0 0 0" result="la"/><feComposite in="c" in2="la" operator="arithmetic" k1="0" k2="1" k3="0.55" k4="-0.275" result="c2"/><feColorMatrix in="c2" type="matrix" values="0 0 0 0 1.000 0 0 0 0 0.843 0 0 0 0 0.000 0 0 0 30.0 -19.342"/></filter><filter id="f13" x="-30%" y="-30%" width="160%" height="160%" color-interpolation-filters="sRGB"><feGaussianBlur in="SourceAlpha" stdDeviation="3.0" result="m"/><feTurbulence type="fractalNoise" baseFrequency="0.3" numOctaves="2" seed="11" result="n"/><feColorMatrix in="n" type="matrix" values="0 0 0 0 0 0 0 0 0 0 0 0 0 0 0 1 0 0 0 0" result="na"/><feComposite in="na" in2="m" operator="arithmetic" k1="0" k2="1" k3="0.6" k4="-0.6" result="c"/><feTurbulence type="fractalNoise" baseFrequency="0.05" numOctaves="2" seed="14" result="l"/><feColorMatrix in="l" type="matrix" values="0 0 0 0 0 0 0 0 0 0 0 0 0 0 0 1 0 0 0 0" result="la"/><feComposite in="c" in2="la" operator="arithmetic" k1="0" k2="1" k3="0.55" k4="-0.275" result="c2"/><feColorMatrix in="c2" type="matrix" values="0 0 0 0 0.165 0 0 0 0 0.165 0 0 0 0 0.063 0 0 0 30.0 -12.755"/></filter><filter id="f14" x="-30%" y="-30%" width="160%" height="160%" color-interpolation-filters="sRGB"><feGaussianBlur in="SourceAlpha" stdDeviation="3.0" result="m"/><feTurbulence type="fractalNoise" baseFrequency="0.3" numOctaves="2" seed="11" result="n"/><feColorMatrix in="n" type="matrix" values="0 0 0 0 0 0 0 0 0 0 0 0 0 0 0 1 0 0 0 0" result="na"/><feComposite in="na" in2="m" operator="arithmetic" k1="0" k2="1" k3="0.6" k4="-0.6" result="c"/><feTurbulence type="fractalNoise" baseFrequency="0.05" numOctaves="2" seed="14" result="l"/><feColorMatrix in="l" type="matrix" values="0 0 0 0 0 0 0 0 0 0 0 0 0 0 0 1 0 0 0 0" result="la"/><feComposite in="c" in2="la" operator="arithmetic" k1="0" k2="1" k3="0.55" k4="-0.275" result="c2"/><feColorMatrix in="c2" type="matrix" values="0 0 0 0 1.000 0 0 0 0 0.843 0 0 0 0 0.000 0 0 0 30.0 -14.555"/></filter><filter id="f15" x="-30%" y="-30%" width="160%" height="160%" color-interpolation-filters="sRGB"><feGaussianBlur in="SourceAlpha" stdDeviation="3.0" result="m"/><feTurbulence type="fractalNoise" baseFrequency="0.3" numOctaves="2" seed="51" result="n"/><feColorMatrix in="n" type="matrix" values="0 0 0 0 0 0 0 0 0 0 0 0 0 0 0 1 0 0 0 0" result="na"/><feComposite in="na" in2="m" operator="arithmetic" k1="0" k2="1" k3="0.6" k4="-0.6" result="c"/><feTurbulence type="fractalNoise" baseFrequency="0.05" numOctaves="2" seed="54" result="l"/><feColorMatrix in="l" type="matrix" values="0 0 0 0 0 0 0 0 0 0 0 0 0 0 0 1 0 0 0 0" result="la"/><feComposite in="c" in2="la" operator="arithmetic" k1="0" k2="1" k3="0.35" k4="-0.175" result="c2"/><feColorMatrix in="c2" type="matrix" values="0 0 0 0 0.000 0 0 0 0 0.000 0 0 0 0 0.000 0 0 0 30.0 -19.619"/></filter><filter id="f16" x="-30%" y="-30%" width="160%" height="160%" color-interpolation-filters="sRGB"><feGaussianBlur in="SourceAlpha" stdDeviation="3.0" result="m"/><feTurbulence type="fractalNoise" baseFrequency="0.3" numOctaves="2" seed="23" result="n"/><feColorMatrix in="n" type="matrix" values="0 0 0 0 0 0 0 0 0 0 0 0 0 0 0 1 0 0 0 0" result="na"/><feComposite in="na" in2="m" operator="arithmetic" k1="0" k2="1" k3="0.6" k4="-0.6" result="c"/><feTurbulence type="fractalNoise" baseFrequency="0.05" numOctaves="2" seed="26" result="l"/><feColorMatrix in="l" type="matrix" values="0 0 0 0 0 0 0 0 0 0 0 0 0 0 0 1 0 0 0 0" result="la"/><feComposite in="c" in2="la" operator="arithmetic" k1="0" k2="1" k3="0.55" k4="-0.275" result="c2"/><feColorMatrix in="c2" type="matrix" values="0 0 0 0 0.529 0 0 0 0 0.808 0 0 0 0 0.980 0 0 0 30.0 -15.874"/></filter><filter id="f17" x="-30%" y="-30%" width="160%" height="160%" color-interpolation-filters="sRGB"><feGaussianBlur in="SourceAlpha" stdDeviation="3.0" result="m"/><feTurbulence type="fractalNoise" baseFrequency="0.3" numOctaves="2" seed="11" result="n"/><feColorMatrix in="n" type="matrix" values="0 0 0 0 0 0 0 0 0 0 0 0 0 0 0 1 0 0 0 0" result="na"/><feComposite in="na" in2="m" operator="arithmetic" k1="0" k2="1" k3="0.6" k4="-0.6" result="c"/><feTurbulence type="fractalNoise" baseFrequency="0.05" numOctaves="2" seed="14" result="l"/><feColorMatrix in="l" type="matrix" values="0 0 0 0 0 0 0 0 0 0 0 0 0 0 0 1 0 0 0 0" result="la"/><feComposite in="c" in2="la" operator="arithmetic" k1="0" k2="1" k3="0.55" k4="-0.275" result="c2"/><feColorMatrix in="c2" type="matrix" values="0 0 0 0 0.165 0 0 0 0 0.165 0 0 0 0 0.063 0 0 0 30.0 -13.244"/></filter><filter id="f18" x="-30%" y="-30%" width="160%" height="160%" color-interpolation-filters="sRGB"><feGaussianBlur in="SourceAlpha" stdDeviation="3.0" result="m"/><feTurbulence type="fractalNoise" baseFrequency="0.3" numOctaves="2" seed="11" result="n"/><feColorMatrix in="n" type="matrix" values="0 0 0 0 0 0 0 0 0 0 0 0 0 0 0 1 0 0 0 0" result="na"/><feComposite in="na" in2="m" operator="arithmetic" k1="0" k2="1" k3="0.6" k4="-0.6" result="c"/><feTurbulence type="fractalNoise" baseFrequency="0.05" numOctaves="2" seed="14" result="l"/><feColorMatrix in="l" type="matrix" values="0 0 0 0 0 0 0 0 0 0 0 0 0 0 0 1 0 0 0 0" result="la"/><feComposite in="c" in2="la" operator="arithmetic" k1="0" k2="1" k3="0.55" k4="-0.275" result="c2"/><feColorMatrix in="c2" type="matrix" values="0 0 0 0 1.000 0 0 0 0 0.843 0 0 0 0 0.000 0 0 0 30.0 -15.044"/></filter><filter id="f19" x="-30%" y="-30%" width="160%" height="160%" color-interpolation-filters="sRGB"><feGaussianBlur in="SourceAlpha" stdDeviation="3.0" result="m"/><feTurbulence type="fractalNoise" baseFrequency="0.3" numOctaves="2" seed="23" result="n"/><feColorMatrix in="n" type="matrix" values="0 0 0 0 0 0 0 0 0 0 0 0 0 0 0 1 0 0 0 0" result="na"/><feComposite in="na" in2="m" operator="arithmetic" k1="0" k2="1" k3="0.6" k4="-0.6" result="c"/><feTurbulence type="fractalNoise" baseFrequency="0.05" numOctaves="2" seed="26" result="l"/><feColorMatrix in="l" type="matrix" values="0 0 0 0 0 0 0 0 0 0 0 0 0 0 0 1 0 0 0 0" result="la"/><feComposite in="c" in2="la" operator="arithmetic" k1="0" k2="1" k3="0.55" k4="-0.275" result="c2"/><feColorMatrix in="c2" type="matrix" values="0 0 0 0 0.529 0 0 0 0 0.808 0 0 0 0 0.980 0 0 0 30.0 -19.249"/></filter><filter id="f20" x="-30%" y="-30%" width="160%" height="160%" color-interpolation-filters="sRGB"><feGaussianBlur in="SourceAlpha" stdDeviation="3.0" result="m"/><feTurbulence type="fractalNoise" baseFrequency="0.3" numOctaves="2" seed="51" result="n"/><feColorMatrix in="n" type="matrix" values="0 0 0 0 0 0 0 0 0 0 0 0 0 0 0 1 0 0 0 0" result="na"/><feComposite in="na" in2="m" operator="arithmetic" k1="0" k2="1" k3="0.6" k4="-0.6" result="c"/><feTurbulence type="fractalNoise" baseFrequency="0.05" numOctaves="2" seed="54" result="l"/><feColorMatrix in="l" type="matrix" values="0 0 0 0 0 0 0 0 0 0 0 0 0 0 0 1 0 0 0 0" result="la"/><feComposite in="c" in2="la" operator="arithmetic" k1="0" k2="1" k3="0.35" k4="-0.175" result="c2"/><feColorMatrix in="c2" type="matrix" values="0 0 0 0 0.000 0 0 0 0 0.000 0 0 0 0 0.000 0 0 0 30.0 -20.172"/></filter><filter id="f21" x="-30%" y="-30%" width="160%" height="160%" color-interpolation-filters="sRGB"><feGaussianBlur in="SourceAlpha" stdDeviation="3.0" result="m"/><feTurbulence type="fractalNoise" baseFrequency="0.3" numOctaves="2" seed="11" result="n"/><feColorMatrix in="n" type="matrix" values="0 0 0 0 0 0 0 0 0 0 0 0 0 0 0 1 0 0 0 0" result="na"/><feComposite in="na" in2="m" operator="arithmetic" k1="0" k2="1" k3="0.6" k4="-0.6" result="c"/><feTurbulence type="fractalNoise" baseFrequency="0.05" numOctaves="2" seed="14" result="l"/><feColorMatrix in="l" type="matrix" values="0 0 0 0 0 0 0 0 0 0 0 0 0 0 0 1 0 0 0 0" result="la"/><feComposite in="c" in2="la" operator="arithmetic" k1="0" k2="1" k3="0.55" k4="-0.275" result="c2"/><feColorMatrix in="c2" type="matrix" values="0 0 0 0 0.165 0 0 0 0 0.165 0 0 0 0 0.063 0 0 0 30.0 -17.990"/></filter><filter id="f22" x="-30%" y="-30%" width="160%" height="160%" color-interpolation-filters="sRGB"><feGaussianBlur in="SourceAlpha" stdDeviation="3.0" result="m"/><feTurbulence type="fractalNoise" baseFrequency="0.3" numOctaves="2" seed="11" result="n"/><feColorMatrix in="n" type="matrix" values="0 0 0 0 0 0 0 0 0 0 0 0 0 0 0 1 0 0 0 0" result="na"/><feComposite in="na" in2="m" operator="arithmetic" k1="0" k2="1" k3="0.6" k4="-0.6" result="c"/><feTurbulence type="fractalNoise" baseFrequency="0.05" numOctaves="2" seed="14" result="l"/><feColorMatrix in="l" type="matrix" values="0 0 0 0 0 0 0 0 0 0 0 0 0 0 0 1 0 0 0 0" result="la"/><feComposite in="c" in2="la" operator="arithmetic" k1="0" k2="1" k3="0.55" k4="-0.275" result="c2"/><feColorMatrix in="c2" type="matrix" values="0 0 0 0 1.000 0 0 0 0 0.843 0 0 0 0 0.000 0 0 0 30.0 -19.790"/></filter><filter id="f23" x="-30%" y="-30%" width="160%" height="160%" color-interpolation-filters="sRGB"><feGaussianBlur in="SourceAlpha" stdDeviation="3.0" result="m"/><feTurbulence type="fractalNoise" baseFrequency="0.3" numOctaves="2" seed="23" result="n"/><feColorMatrix in="n" type="matrix" values="0 0 0 0 0 0 0 0 0 0 0 0 0 0 0 1 0 0 0 0" result="na"/><feComposite in="na" in2="m" operator="arithmetic" k1="0" k2="1" k3="0.6" k4="-0.6" result="c"/><feTurbulence type="fractalNoise" baseFrequency="0.05" numOctaves="2" seed="26" result="l"/><feColorMatrix in="l" type="matrix" values="0 0 0 0 0 0 0 0 0 0 0 0 0 0 0 1 0 0 0 0" result="la"/><feComposite in="c" in2="la" operator="arithmetic" k1="0" k2="1" k3="0.55" k4="-0.275" result="c2"/><feColorMatrix in="c2" type="matrix" values="0 0 0 0 0.529 0 0 0 0 0.808 0 0 0 0 0.980 0 0 0 30.0 -19.703"/></filter><filter id="f24" x="-30%" y="-30%" width="160%" height="160%" color-interpolation-filters="sRGB"><feGaussianBlur in="SourceAlpha" stdDeviation="3.0" result="m"/><feTurbulence type="fractalNoise" baseFrequency="0.3" numOctaves="2" seed="51" result="n"/><feColorMatrix in="n" type="matrix" values="0 0 0 0 0 0 0 0 0 0 0 0 0 0 0 1 0 0 0 0" result="na"/><feComposite in="na" in2="m" operator="arithmetic" k1="0" k2="1" k3="0.6" k4="-0.6" result="c"/><feTurbulence type="fractalNoise" baseFrequency="0.05" numOctaves="2" seed="54" result="l"/><feColorMatrix in="l" type="matrix" values="0 0 0 0 0 0 0 0 0 0 0 0 0 0 0 1 0 0 0 0" result="la"/><feComposite in="c" in2="la" operator="arithmetic" k1="0" k2="1" k3="0.35" k4="-0.175" result="c2"/><feColorMatrix in="c2" type="matrix" values="0 0 0 0 0.000 0 0 0 0 0.000 0 0 0 0 0.000 0 0 0 30.0 -9.177"/></filter><filter id="f25" x="-30%" y="-30%" width="160%" height="160%" color-interpolation-filters="sRGB"><feGaussianBlur in="SourceAlpha" stdDeviation="3.0" result="m"/><feTurbulence type="fractalNoise" baseFrequency="0.3" numOctaves="2" seed="51" result="n"/><feColorMatrix in="n" type="matrix" values="0 0 0 0 0 0 0 0 0 0 0 0 0 0 0 1 0 0 0 0" result="na"/><feComposite in="na" in2="m" operator="arithmetic" k1="0" k2="1" k3="0.6" k4="-0.6" result="c"/><feTurbulence type="fractalNoise" baseFrequency="0.05" numOctaves="2" seed="54" result="l"/><feColorMatrix in="l" type="matrix" values="0 0 0 0 0 0 0 0 0 0 0 0 0 0 0 1 0 0 0 0" result="la"/><feComposite in="c" in2="la" operator="arithmetic" k1="0" k2="1" k3="0.35" k4="-0.175" result="c2"/><feColorMatrix in="c2" type="matrix" values="0 0 0 0 0.000 0 0 0 0 0.000 0 0 0 0 0.000 0 0 0 30.0 -15.715"/></filter><filter id="f26" x="-30%" y="-30%" width="160%" height="160%" color-interpolation-filters="sRGB"><feGaussianBlur in="SourceAlpha" stdDeviation="3.0" result="m"/><feTurbulence type="fractalNoise" baseFrequency="0.3" numOctaves="2" seed="11" result="n"/><feColorMatrix in="n" type="matrix" values="0 0 0 0 0 0 0 0 0 0 0 0 0 0 0 1 0 0 0 0" result="na"/><feComposite in="na" in2="m" operator="arithmetic" k1="0" k2="1" k3="0.6" k4="-0.6" result="c"/><feTurbulence type="fractalNoise" baseFrequency="0.05" numOctaves="2" seed="14" result="l"/><feColorMatrix in="l" type="matrix" values="0 0 0 0 0 0 0 0 0 0 0 0 0 0 0 1 0 0 0 0" result="la"/><feComposite in="c" in2="la" operator="arithmetic" k1="0" k2="1" k3="0.55" k4="-0.275" result="c2"/><feColorMatrix in="c2" type="matrix" values="0 0 0 0 0.165 0 0 0 0 0.165 0 0 0 0 0.063 0 0 0 30.0 -16.648"/></filter><filter id="f27" x="-30%" y="-30%" width="160%" height="160%" color-interpolation-filters="sRGB"><feGaussianBlur in="SourceAlpha" stdDeviation="3.0" result="m"/><feTurbulence type="fractalNoise" baseFrequency="0.3" numOctaves="2" seed="11" result="n"/><feColorMatrix in="n" type="matrix" values="0 0 0 0 0 0 0 0 0 0 0 0 0 0 0 1 0 0 0 0" result="na"/><feComposite in="na" in2="m" operator="arithmetic" k1="0" k2="1" k3="0.6" k4="-0.6" result="c"/><feTurbulence type="fractalNoise" baseFrequency="0.05" numOctaves="2" seed="14" result="l"/><feColorMatrix in="l" type="matrix" values="0 0 0 0 0 0 0 0 0 0 0 0 0 0 0 1 0 0 0 0" result="la"/><feComposite in="c" in2="la" operator="arithmetic" k1="0" k2="1" k3="0.55" k4="-0.275" result="c2"/><feColorMatrix in="c2" type="matrix" values="0 0 0 0 1.000 0 0 0 0 0.843 0 0 0 0 0.000 0 0 0 30.0 -18.448"/></filter><filter id="f28" x="-30%" y="-30%" width="160%" height="160%" color-interpolation-filters="sRGB"><feGaussianBlur in="SourceAlpha" stdDeviation="3.0" result="m"/><feTurbulence type="fractalNoise" baseFrequency="0.3" numOctaves="2" seed="37" result="n"/><feColorMatrix in="n" type="matrix" values="0 0 0 0 0 0 0 0 0 0 0 0 0 0 0 1 0 0 0 0" result="na"/><feComposite in="na" in2="m" operator="arithmetic" k1="0" k2="1" k3="0.6" k4="-0.6" result="c"/><feTurbulence type="fractalNoise" baseFrequency="0.05" numOctaves="2" seed="40" result="l"/><feColorMatrix in="l" type="matrix" values="0 0 0 0 0 0 0 0 0 0 0 0 0 0 0 1 0 0 0 0" result="la"/><feComposite in="c" in2="la" operator="arithmetic" k1="0" k2="1" k3="0.55" k4="-0.275" result="c2"/><feColorMatrix in="c2" type="matrix" values="0 0 0 0 1.000 0 0 0 0 0.000 0 0 0 0 1.000 0 0 0 30.0 -19.072"/></filter><filter id="f29" x="-30%" y="-30%" width="160%" height="160%" color-interpolation-filters="sRGB"><feGaussianBlur in="SourceAlpha" stdDeviation="3.0" result="m"/><feTurbulence type="fractalNoise" baseFrequency="0.3" numOctaves="2" seed="37" result="n"/><feColorMatrix in="n" type="matrix" values="0 0 0 0 0 0 0 0 0 0 0 0 0 0 0 1 0 0 0 0" result="na"/><feComposite in="na" in2="m" operator="arithmetic" k1="0" k2="1" k3="0.6" k4="-0.6" result="c"/><feTurbulence type="fractalNoise" baseFrequency="0.05" numOctaves="2" seed="40" result="l"/><feColorMatrix in="l" type="matrix" values="0 0 0 0 0 0 0 0 0 0 0 0 0 0 0 1 0 0 0 0" result="la"/><feComposite in="c" in2="la" operator="arithmetic" k1="0" k2="1" k3="0.55" k4="-0.275" result="c2"/><feColorMatrix in="c2" type="matrix" values="0 0 0 0 1.000 0 0 0 0 0.000 0 0 0 0 1.000 0 0 0 30.0 -13.270"/></filter><filter id="f30" x="-30%" y="-30%" width="160%" height="160%" color-interpolation-filters="sRGB"><feGaussianBlur in="SourceAlpha" stdDeviation="3.0" result="m"/><feTurbulence type="fractalNoise" baseFrequency="0.3" numOctaves="2" seed="51" result="n"/><feColorMatrix in="n" type="matrix" values="0 0 0 0 0 0 0 0 0 0 0 0 0 0 0 1 0 0 0 0" result="na"/><feComposite in="na" in2="m" operator="arithmetic" k1="0" k2="1" k3="0.6" k4="-0.6" result="c"/><feTurbulence type="fractalNoise" baseFrequency="0.05" numOctaves="2" seed="54" result="l"/><feColorMatrix in="l" type="matrix" values="0 0 0 0 0 0 0 0 0 0 0 0 0 0 0 1 0 0 0 0" result="la"/><feComposite in="c" in2="la" operator="arithmetic" k1="0" k2="1" k3="0.35" k4="-0.175" result="c2"/><feColorMatrix in="c2" type="matrix" values="0 0 0 0 0.000 0 0 0 0 0.000 0 0 0 0 0.000 0 0 0 30.0 -17.500"/></filter><filter id="f31" x="-30%" y="-30%" width="160%" height="160%" color-interpolation-filters="sRGB"><feGaussianBlur in="SourceAlpha" stdDeviation="3.0" result="m"/><feTurbulence type="fractalNoise" baseFrequency="0.3" numOctaves="2" seed="37" result="n"/><feColorMatrix in="n" type="matrix" values="0 0 0 0 0 0 0 0 0 0 0 0 0 0 0 1 0 0 0 0" result="na"/><feComposite in="na" in2="m" operator="arithmetic" k1="0" k2="1" k3="0.6" k4="-0.6" result="c"/><feTurbulence type="fractalNoise" baseFrequency="0.05" numOctaves="2" seed="40" result="l"/><feColorMatrix in="l" type="matrix" values="0 0 0 0 0 0 0 0 0 0 0 0 0 0 0 1 0 0 0 0" result="la"/><feComposite in="c" in2="la" operator="arithmetic" k1="0" k2="1" k3="0.55" k4="-0.275" result="c2"/><feColorMatrix in="c2" type="matrix" values="0 0 0 0 1.000 0 0 0 0 0.000 0 0 0 0 1.000 0 0 0 30.0 -14.443"/></filter><filter id="f32" x="-30%" y="-30%" width="160%" height="160%" color-interpolation-filters="sRGB"><feGaussianBlur in="SourceAlpha" stdDeviation="3.0" result="m"/><feTurbulence type="fractalNoise" baseFrequency="0.3" numOctaves="2" seed="37" result="n"/><feColorMatrix in="n" type="matrix" values="0 0 0 0 0 0 0 0 0 0 0 0 0 0 0 1 0 0 0 0" result="na"/><feComposite in="na" in2="m" operator="arithmetic" k1="0" k2="1" k3="0.6" k4="-0.6" result="c"/><feTurbulence type="fractalNoise" baseFrequency="0.05" numOctaves="2" seed="40" result="l"/><feColorMatrix in="l" type="matrix" values="0 0 0 0 0 0 0 0 0 0 0 0 0 0 0 1 0 0 0 0" result="la"/><feComposite in="c" in2="la" operator="arithmetic" k1="0" k2="1" k3="0.55" k4="-0.275" result="c2"/><feColorMatrix in="c2" type="matrix" values="0 0 0 0 1.000 0 0 0 0 0.000 0 0 0 0 1.000 0 0 0 30.0 -15.000"/></filter><filter id="f33" x="-30%" y="-30%" width="160%" height="160%" color-interpolation-filters="sRGB"><feGaussianBlur in="SourceAlpha" stdDeviation="3.0" result="m"/><feTurbulence type="fractalNoise" baseFrequency="0.3" numOctaves="2" seed="51" result="n"/><feColorMatrix in="n" type="matrix" values="0 0 0 0 0 0 0 0 0 0 0 0 0 0 0 1 0 0 0 0" result="na"/><feComposite in="na" in2="m" operator="arithmetic" k1="0" k2="1" k3="0.6" k4="-0.6" result="c"/><feTurbulence type="fractalNoise" baseFrequency="0.05" numOctaves="2" seed="54" result="l"/><feColorMatrix in="l" type="matrix" values="0 0 0 0 0 0 0 0 0 0 0 0 0 0 0 1 0 0 0 0" result="la"/><feComposite in="c" in2="la" operator="arithmetic" k1="0" k2="1" k3="0.35" k4="-0.175" result="c2"/><feColorMatrix in="c2" type="matrix" values="0 0 0 0 0.000 0 0 0 0 0.000 0 0 0 0 0.000 0 0 0 30.0 -16.269"/></filter><filter id="f34" x="-30%" y="-30%" width="160%" height="160%" color-interpolation-filters="sRGB"><feGaussianBlur in="SourceAlpha" stdDeviation="3.0" result="m"/><feTurbulence type="fractalNoise" baseFrequency="0.3" numOctaves="2" seed="11" result="n"/><feColorMatrix in="n" type="matrix" values="0 0 0 0 0 0 0 0 0 0 0 0 0 0 0 1 0 0 0 0" result="na"/><feComposite in="na" in2="m" operator="arithmetic" k1="0" k2="1" k3="0.6" k4="-0.6" result="c"/><feTurbulence type="fractalNoise" baseFrequency="0.05" numOctaves="2" seed="14" result="l"/><feColorMatrix in="l" type="matrix" values="0 0 0 0 0 0 0 0 0 0 0 0 0 0 0 1 0 0 0 0" result="la"/><feComposite in="c" in2="la" operator="arithmetic" k1="0" k2="1" k3="0.55" k4="-0.275" result="c2"/><feColorMatrix in="c2" type="matrix" values="0 0 0 0 0.165 0 0 0 0 0.165 0 0 0 0 0.063 0 0 0 30.0 -15.934"/></filter><filter id="f35" x="-30%" y="-30%" width="160%" height="160%" color-interpolation-filters="sRGB"><feGaussianBlur in="SourceAlpha" stdDeviation="3.0" result="m"/><feTurbulence type="fractalNoise" baseFrequency="0.3" numOctaves="2" seed="11" result="n"/><feColorMatrix in="n" type="matrix" values="0 0 0 0 0 0 0 0 0 0 0 0 0 0 0 1 0 0 0 0" result="na"/><feComposite in="na" in2="m" operator="arithmetic" k1="0" k2="1" k3="0.6" k4="-0.6" result="c"/><feTurbulence type="fractalNoise" baseFrequency="0.05" numOctaves="2" seed="14" result="l"/><feColorMatrix in="l" type="matrix" values="0 0 0 0 0 0 0 0 0 0 0 0 0 0 0 1 0 0 0 0" result="la"/><feComposite in="c" in2="la" operator="arithmetic" k1="0" k2="1" k3="0.55" k4="-0.275" result="c2"/><feColorMatrix in="c2" type="matrix" values="0 0 0 0 1.000 0 0 0 0 0.843 0 0 0 0 0.000 0 0 0 30.0 -17.734"/></filter><filter id="f36" x="-30%" y="-30%" width="160%" height="160%" color-interpolation-filters="sRGB"><feGaussianBlur in="SourceAlpha" stdDeviation="3.0" result="m"/><feTurbulence type="fractalNoise" baseFrequency="0.3" numOctaves="2" seed="11" result="n"/><feColorMatrix in="n" type="matrix" values="0 0 0 0 0 0 0 0 0 0 0 0 0 0 0 1 0 0 0 0" result="na"/><feComposite in="na" in2="m" operator="arithmetic" k1="0" k2="1" k3="0.6" k4="-0.6" result="c"/><feTurbulence type="fractalNoise" baseFrequency="0.05" numOctaves="2" seed="14" result="l"/><feColorMatrix in="l" type="matrix" values="0 0 0 0 0 0 0 0 0 0 0 0 0 0 0 1 0 0 0 0" result="la"/><feComposite in="c" in2="la" operator="arithmetic" k1="0" k2="1" k3="0.55" k4="-0.275" result="c2"/><feColorMatrix in="c2" type="matrix" values="0 0 0 0 0.165 0 0 0 0 0.165 0 0 0 0 0.063 0 0 0 30.0 -13.734"/></filter><filter id="f37" x="-30%" y="-30%" width="160%" height="160%" color-interpolation-filters="sRGB"><feGaussianBlur in="SourceAlpha" stdDeviation="3.0" result="m"/><feTurbulence type="fractalNoise" baseFrequency="0.3" numOctaves="2" seed="11" result="n"/><feColorMatrix in="n" type="matrix" values="0 0 0 0 0 0 0 0 0 0 0 0 0 0 0 1 0 0 0 0" result="na"/><feComposite in="na" in2="m" operator="arithmetic" k1="0" k2="1" k3="0.6" k4="-0.6" result="c"/><feTurbulence type="fractalNoise" baseFrequency="0.05" numOctaves="2" seed="14" result="l"/><feColorMatrix in="l" type="matrix" values="0 0 0 0 0 0 0 0 0 0 0 0 0 0 0 1 0 0 0 0" result="la"/><feComposite in="c" in2="la" operator="arithmetic" k1="0" k2="1" k3="0.55" k4="-0.275" result="c2"/><feColorMatrix in="c2" type="matrix" values="0 0 0 0 1.000 0 0 0 0 0.843 0 0 0 0 0.000 0 0 0 30.0 -15.534"/></filter><filter id="f38" x="-30%" y="-30%" width="160%" height="160%" color-interpolation-filters="sRGB"><feGaussianBlur in="SourceAlpha" stdDeviation="3.0" result="m"/><feTurbulence type="fractalNoise" baseFrequency="0.3" numOctaves="2" seed="23" result="n"/><feColorMatrix in="n" type="matrix" values="0 0 0 0 0 0 0 0 0 0 0 0 0 0 0 1 0 0 0 0" result="na"/><feComposite in="na" in2="m" operator="arithmetic" k1="0" k2="1" k3="0.6" k4="-0.6" result="c"/><feTurbulence type="fractalNoise" baseFrequency="0.05" numOctaves="2" seed="26" result="l"/><feColorMatrix in="l" type="matrix" values="0 0 0 0 0 0 0 0 0 0 0 0 0 0 0 1 0 0 0 0" result="la"/><feComposite in="c" in2="la" operator="arithmetic" k1="0" k2="1" k3="0.55" k4="-0.275" result="c2"/><feColorMatrix in="c2" type="matrix" values="0 0 0 0 0.529 0 0 0 0 0.808 0 0 0 0 0.980 0 0 0 30.0 -14.845"/></filter><filter id="f39" x="-30%" y="-30%" width="160%" height="160%" color-interpolation-filters="sRGB"><feGaussianBlur in="SourceAlpha" stdDeviation="3.0" result="m"/><feTurbulence type="fractalNoise" baseFrequency="0.3" numOctaves="2" seed="11" result="n"/><feColorMatrix in="n" type="matrix" values="0 0 0 0 0 0 0 0 0 0 0 0 0 0 0 1 0 0 0 0" result="na"/><feComposite in="na" in2="m" operator="arithmetic" k1="0" k2="1" k3="0.6" k4="-0.6" result="c"/><feTurbulence type="fractalNoise" baseFrequency="0.05" numOctaves="2" seed="14" result="l"/><feColorMatrix in="l" type="matrix" values="0 0 0 0 0 0 0 0 0 0 0 0 0 0 0 1 0 0 0 0" result="la"/><feComposite in="c" in2="la" operator="arithmetic" k1="0" k2="1" k3="0.55" k4="-0.275" result="c2"/><feColorMatrix in="c2" type="matrix" values="0 0 0 0 0.165 0 0 0 0 0.165 0 0 0 0 0.063 0 0 0 30.0 -15.316"/></filter><filter id="f40" x="-30%" y="-30%" width="160%" height="160%" color-interpolation-filters="sRGB"><feGaussianBlur in="SourceAlpha" stdDeviation="3.0" result="m"/><feTurbulence type="fractalNoise" baseFrequency="0.3" numOctaves="2" seed="11" result="n"/><feColorMatrix in="n" type="matrix" values="0 0 0 0 0 0 0 0 0 0 0 0 0 0 0 1 0 0 0 0" result="na"/><feComposite in="na" in2="m" operator="arithmetic" k1="0" k2="1" k3="0.6" k4="-0.6" result="c"/><feTurbulence type="fractalNoise" baseFrequency="0.05" numOctaves="2" seed="14" result="l"/><feColorMatrix in="l" type="matrix" values="0 0 0 0 0 0 0 0 0 0 0 0 0 0 0 1 0 0 0 0" result="la"/><feComposite in="c" in2="la" operator="arithmetic" k1="0" k2="1" k3="0.55" k4="-0.275" result="c2"/><feColorMatrix in="c2" type="matrix" values="0 0 0 0 1.000 0 0 0 0 0.843 0 0 0 0 0.000 0 0 0 30.0 -17.116"/></filter><filter id="f41" x="-30%" y="-30%" width="160%" height="160%" color-interpolation-filters="sRGB"><feGaussianBlur in="SourceAlpha" stdDeviation="3.0" result="m"/><feTurbulence type="fractalNoise" baseFrequency="0.3" numOctaves="2" seed="11" result="n"/><feColorMatrix in="n" type="matrix" values="0 0 0 0 0 0 0 0 0 0 0 0 0 0 0 1 0 0 0 0" result="na"/><feComposite in="na" in2="m" operator="arithmetic" k1="0" k2="1" k3="0.6" k4="-0.6" result="c"/><feTurbulence type="fractalNoise" baseFrequency="0.05" numOctaves="2" seed="14" result="l"/><feColorMatrix in="l" type="matrix" values="0 0 0 0 0 0 0 0 0 0 0 0 0 0 0 1 0 0 0 0" result="la"/><feComposite in="c" in2="la" operator="arithmetic" k1="0" k2="1" k3="0.55" k4="-0.275" result="c2"/><feColorMatrix in="c2" type="matrix" values="0 0 0 0 1.000 0 0 0 0 0.843 0 0 0 0 0.000 0 0 0 30.0 -20.658"/></filter><filter id="f42" x="-30%" y="-30%" width="160%" height="160%" color-interpolation-filters="sRGB"><feGaussianBlur in="SourceAlpha" stdDeviation="3.0" result="m"/><feTurbulence type="fractalNoise" baseFrequency="0.3" numOctaves="2" seed="23" result="n"/><feColorMatrix in="n" type="matrix" values="0 0 0 0 0 0 0 0 0 0 0 0 0 0 0 1 0 0 0 0" result="na"/><feComposite in="na" in2="m" operator="arithmetic" k1="0" k2="1" k3="0.6" k4="-0.6" result="c"/><feTurbulence type="fractalNoise" baseFrequency="0.05" numOctaves="2" seed="26" result="l"/><feColorMatrix in="l" type="matrix" values="0 0 0 0 0 0 0 0 0 0 0 0 0 0 0 1 0 0 0 0" result="la"/><feComposite in="c" in2="la" operator="arithmetic" k1="0" k2="1" k3="0.55" k4="-0.275" result="c2"/><feColorMatrix in="c2" type="matrix" values="0 0 0 0 0.529 0 0 0 0 0.808 0 0 0 0 0.980 0 0 0 30.0 -20.579"/></filter><filter id="f43" x="-30%" y="-30%" width="160%" height="160%" color-interpolation-filters="sRGB"><feGaussianBlur in="SourceAlpha" stdDeviation="3.0" result="m"/><feTurbulence type="fractalNoise" baseFrequency="0.3" numOctaves="2" seed="51" result="n"/><feColorMatrix in="n" type="matrix" values="0 0 0 0 0 0 0 0 0 0 0 0 0 0 0 1 0 0 0 0" result="na"/><feComposite in="na" in2="m" operator="arithmetic" k1="0" k2="1" k3="0.6" k4="-0.6" result="c"/><feTurbulence type="fractalNoise" baseFrequency="0.05" numOctaves="2" seed="54" result="l"/><feColorMatrix in="l" type="matrix" values="0 0 0 0 0 0 0 0 0 0 0 0 0 0 0 1 0 0 0 0" result="la"/><feComposite in="c" in2="la" operator="arithmetic" k1="0" k2="1" k3="0.35" k4="-0.175" result="c2"/><feColorMatrix in="c2" type="matrix" values="0 0 0 0 0.000 0 0 0 0 0.000 0 0 0 0 0.000 0 0 0 30.0 -22.000"/></filter><filter id="f44" x="-30%" y="-30%" width="160%" height="160%" color-interpolation-filters="sRGB"><feGaussianBlur in="SourceAlpha" stdDeviation="3.0" result="m"/><feTurbulence type="fractalNoise" baseFrequency="0.3" numOctaves="2" seed="37" result="n"/><feColorMatrix in="n" type="matrix" values="0 0 0 0 0 0 0 0 0 0 0 0 0 0 0 1 0 0 0 0" result="na"/><feComposite in="na" in2="m" operator="arithmetic" k1="0" k2="1" k3="0.6" k4="-0.6" result="c"/><feTurbulence type="fractalNoise" baseFrequency="0.05" numOctaves="2" seed="40" result="l"/><feColorMatrix in="l" type="matrix" values="0 0 0 0 0 0 0 0 0 0 0 0 0 0 0 1 0 0 0 0" result="la"/><feComposite in="c" in2="la" operator="arithmetic" k1="0" k2="1" k3="0.55" k4="-0.275" result="c2"/><feColorMatrix in="c2" type="matrix" values="0 0 0 0 1.000 0 0 0 0 0.000 0 0 0 0 1.000 0 0 0 30.0 -19.537"/></filter><filter id="f45" x="-30%" y="-30%" width="160%" height="160%" color-interpolation-filters="sRGB"><feGaussianBlur in="SourceAlpha" stdDeviation="3.0" result="m"/><feTurbulence type="fractalNoise" baseFrequency="0.3" numOctaves="2" seed="11" result="n"/><feColorMatrix in="n" type="matrix" values="0 0 0 0 0 0 0 0 0 0 0 0 0 0 0 1 0 0 0 0" result="na"/><feComposite in="na" in2="m" operator="arithmetic" k1="0" k2="1" k3="0.6" k4="-0.6" result="c"/><feTurbulence type="fractalNoise" baseFrequency="0.05" numOctaves="2" seed="14" result="l"/><feColorMatrix in="l" type="matrix" values="0 0 0 0 0 0 0 0 0 0 0 0 0 0 0 1 0 0 0 0" result="la"/><feComposite in="c" in2="la" operator="arithmetic" k1="0" k2="1" k3="0.55" k4="-0.275" result="c2"/><feColorMatrix in="c2" type="matrix" values="0 0 0 0 0.165 0 0 0 0 0.165 0 0 0 0 0.063 0 0 0 30.0 -15.678"/></filter><filter id="f46" x="-30%" y="-30%" width="160%" height="160%" color-interpolation-filters="sRGB"><feGaussianBlur in="SourceAlpha" stdDeviation="3.0" result="m"/><feTurbulence type="fractalNoise" baseFrequency="0.3" numOctaves="2" seed="11" result="n"/><feColorMatrix in="n" type="matrix" values="0 0 0 0 0 0 0 0 0 0 0 0 0 0 0 1 0 0 0 0" result="na"/><feComposite in="na" in2="m" operator="arithmetic" k1="0" k2="1" k3="0.6" k4="-0.6" result="c"/><feTurbulence type="fractalNoise" baseFrequency="0.05" numOctaves="2" seed="14" result="l"/><feColorMatrix in="l" type="matrix" values="0 0 0 0 0 0 0 0 0 0 0 0 0 0 0 1 0 0 0 0" result="la"/><feComposite in="c" in2="la" operator="arithmetic" k1="0" k2="1" k3="0.55" k4="-0.275" result="c2"/><feColorMatrix in="c2" type="matrix" values="0 0 0 0 1.000 0 0 0 0 0.843 0 0 0 0 0.000 0 0 0 30.0 -17.478"/></filter><filter id="f47" x="-30%" y="-30%" width="160%" height="160%" color-interpolation-filters="sRGB"><feGaussianBlur in="SourceAlpha" stdDeviation="3.0" result="m"/><feTurbulence type="fractalNoise" baseFrequency="0.3" numOctaves="2" seed="23" result="n"/><feColorMatrix in="n" type="matrix" values="0 0 0 0 0 0 0 0 0 0 0 0 0 0 0 1 0 0 0 0" result="na"/><feComposite in="na" in2="m" operator="arithmetic" k1="0" k2="1" k3="0.6" k4="-0.6" result="c"/><feTurbulence type="fractalNoise" baseFrequency="0.05" numOctaves="2" seed="26" result="l"/><feColorMatrix in="l" type="matrix" values="0 0 0 0 0 0 0 0 0 0 0 0 0 0 0 1 0 0 0 0" result="la"/><feComposite in="c" in2="la" operator="arithmetic" k1="0" k2="1" k3="0.55" k4="-0.275" result="c2"/><feColorMatrix in="c2" type="matrix" values="0 0 0 0 0.529 0 0 0 0 0.808 0 0 0 0 0.980 0 0 0 30.0 -17.616"/></filter><filter id="f48" x="-30%" y="-30%" width="160%" height="160%" color-interpolation-filters="sRGB"><feGaussianBlur in="SourceAlpha" stdDeviation="3.0" result="m"/><feTurbulence type="fractalNoise" baseFrequency="0.3" numOctaves="2" seed="11" result="n"/><feColorMatrix in="n" type="matrix" values="0 0 0 0 0 0 0 0 0 0 0 0 0 0 0 1 0 0 0 0" result="na"/><feComposite in="na" in2="m" operator="arithmetic" k1="0" k2="1" k3="0.6" k4="-0.6" result="c"/><feTurbulence type="fractalNoise" baseFrequency="0.05" numOctaves="2" seed="14" result="l"/><feColorMatrix in="l" type="matrix" values="0 0 0 0 0 0 0 0 0 0 0 0 0 0 0 1 0 0 0 0" result="la"/><feComposite in="c" in2="la" operator="arithmetic" k1="0" k2="1" k3="0.55" k4="-0.275" result="c2"/><feColorMatrix in="c2" type="matrix" values="0 0 0 0 0.165 0 0 0 0 0.165 0 0 0 0 0.063 0 0 0 30.0 -14.757"/></filter><filter id="f49" x="-30%" y="-30%" width="160%" height="160%" color-interpolation-filters="sRGB"><feGaussianBlur in="SourceAlpha" stdDeviation="3.0" result="m"/><feTurbulence type="fractalNoise" baseFrequency="0.3" numOctaves="2" seed="11" result="n"/><feColorMatrix in="n" type="matrix" values="0 0 0 0 0 0 0 0 0 0 0 0 0 0 0 1 0 0 0 0" result="na"/><feComposite in="na" in2="m" operator="arithmetic" k1="0" k2="1" k3="0.6" k4="-0.6" result="c"/><feTurbulence type="fractalNoise" baseFrequency="0.05" numOctaves="2" seed="14" result="l"/><feColorMatrix in="l" type="matrix" values="0 0 0 0 0 0 0 0 0 0 0 0 0 0 0 1 0 0 0 0" result="la"/><feComposite in="c" in2="la" operator="arithmetic" k1="0" k2="1" k3="0.55" k4="-0.275" result="c2"/><feColorMatrix in="c2" type="matrix" values="0 0 0 0 1.000 0 0 0 0 0.843 0 0 0 0 0.000 0 0 0 30.0 -16.557"/></filter><filter id="f50" x="-30%" y="-30%" width="160%" height="160%" color-interpolation-filters="sRGB"><feGaussianBlur in="SourceAlpha" stdDeviation="3.0" result="m"/><feTurbulence type="fractalNoise" baseFrequency="0.3" numOctaves="2" seed="37" result="n"/><feColorMatrix in="n" type="matrix" values="0 0 0 0 0 0 0 0 0 0 0 0 0 0 0 1 0 0 0 0" result="na"/><feComposite in="na" in2="m" operator="arithmetic" k1="0" k2="1" k3="0.6" k4="-0.6" result="c"/><feTurbulence type="fractalNoise" baseFrequency="0.05" numOctaves="2" seed="40" result="l"/><feColorMatrix in="l" type="matrix" values="0 0 0 0 0 0 0 0 0 0 0 0 0 0 0 1 0 0 0 0" result="la"/><feComposite in="c" in2="la" operator="arithmetic" k1="0" k2="1" k3="0.55" k4="-0.275" result="c2"/><feColorMatrix in="c2" type="matrix" values="0 0 0 0 1.000 0 0 0 0 0.000 0 0 0 0 1.000 0 0 0 30.0 -17.388"/></filter><filter id="f51" x="-30%" y="-30%" width="160%" height="160%" color-interpolation-filters="sRGB"><feGaussianBlur in="SourceAlpha" stdDeviation="3.0" result="m"/><feTurbulence type="fractalNoise" baseFrequency="0.3" numOctaves="2" seed="71" result="n"/><feColorMatrix in="n" type="matrix" values="0 0 0 0 0 0 0 0 0 0 0 0 0 0 0 1 0 0 0 0" result="na"/><feComposite in="na" in2="m" operator="arithmetic" k1="0" k2="1" k3="0.6" k4="-0.6" result="c"/><feTurbulence type="fractalNoise" baseFrequency="0.05" numOctaves="2" seed="74" result="l"/><feColorMatrix in="l" type="matrix" values="0 0 0 0 0 0 0 0 0 0 0 0 0 0 0 1 0 0 0 0" result="la"/><feComposite in="c" in2="la" operator="arithmetic" k1="0" k2="1" k3="0.3" k4="-0.15" result="c2"/><feColorMatrix in="c2" type="matrix" values="0 0 0 0 0.690 0 0 0 0 0.125 0 0 0 0 0.753 0 0 0 30.0 -8.342"/></filter><filter id="f52" x="-30%" y="-30%" width="160%" height="160%" color-interpolation-filters="sRGB"><feGaussianBlur in="SourceAlpha" stdDeviation="3.0" result="m"/><feTurbulence type="fractalNoise" baseFrequency="0.3" numOctaves="2" seed="89" result="n"/><feColorMatrix in="n" type="matrix" values="0 0 0 0 0 0 0 0 0 0 0 0 0 0 0 1 0 0 0 0" result="na"/><feComposite in="na" in2="m" operator="arithmetic" k1="0" k2="1" k3="0.6" k4="-0.6" result="c"/><feTurbulence type="fractalNoise" baseFrequency="0.05" numOctaves="2" seed="92" result="l"/><feColorMatrix in="l" type="matrix" values="0 0 0 0 0 0 0 0 0 0 0 0 0 0 0 1 0 0 0 0" result="la"/><feComposite in="c" in2="la" operator="arithmetic" k1="0" k2="1" k3="0.6" k4="-0.3" result="c2"/><feColorMatrix in="c2" type="matrix" values="0 0 0 0 0.353 0 0 0 0 0.039 0 0 0 0 0.416 0 0 0 30.0 -17.388"/></filter><filter id="f53" x="-30%" y="-30%" width="160%" height="160%" color-interpolation-filters="sRGB"><feGaussianBlur in="SourceAlpha" stdDeviation="3.0" result="m"/><feTurbulence type="fractalNoise" baseFrequency="0.3" numOctaves="2" seed="11" result="n"/><feColorMatrix in="n" type="matrix" values="0 0 0 0 0 0 0 0 0 0 0 0 0 0 0 1 0 0 0 0" result="na"/><feComposite in="na" in2="m" operator="arithmetic" k1="0" k2="1" k3="0.6" k4="-0.6" result="c"/><feTurbulence type="fractalNoise" baseFrequency="0.05" numOctaves="2" seed="14" result="l"/><feColorMatrix in="l" type="matrix" values="0 0 0 0 0 0 0 0 0 0 0 0 0 0 0 1 0 0 0 0" result="la"/><feComposite in="c" in2="la" operator="arithmetic" k1="0" k2="1" k3="0.55" k4="-0.275" result="c2"/><feColorMatrix in="c2" type="matrix" values="0 0 0 0 0.165 0 0 0 0 0.165 0 0 0 0 0.063 0 0 0 30.0 -12.257"/></filter><filter id="f54" x="-30%" y="-30%" width="160%" height="160%" color-interpolation-filters="sRGB"><feGaussianBlur in="SourceAlpha" stdDeviation="3.0" result="m"/><feTurbulence type="fractalNoise" baseFrequency="0.3" numOctaves="2" seed="11" result="n"/><feColorMatrix in="n" type="matrix" values="0 0 0 0 0 0 0 0 0 0 0 0 0 0 0 1 0 0 0 0" result="na"/><feComposite in="na" in2="m" operator="arithmetic" k1="0" k2="1" k3="0.6" k4="-0.6" result="c"/><feTurbulence type="fractalNoise" baseFrequency="0.05" numOctaves="2" seed="14" result="l"/><feColorMatrix in="l" type="matrix" values="0 0 0 0 0 0 0 0 0 0 0 0 0 0 0 1 0 0 0 0" result="la"/><feComposite in="c" in2="la" operator="arithmetic" k1="0" k2="1" k3="0.55" k4="-0.275" result="c2"/><feColorMatrix in="c2" type="matrix" values="0 0 0 0 1.000 0 0 0 0 0.843 0 0 0 0 0.000 0 0 0 30.0 -14.057"/></filter><filter id="f55" x="-30%" y="-30%" width="160%" height="160%" color-interpolation-filters="sRGB"><feGaussianBlur in="SourceAlpha" stdDeviation="3.0" result="m"/><feTurbulence type="fractalNoise" baseFrequency="0.3" numOctaves="2" seed="37" result="n"/><feColorMatrix in="n" type="matrix" values="0 0 0 0 0 0 0 0 0 0 0 0 0 0 0 1 0 0 0 0" result="na"/><feComposite in="na" in2="m" operator="arithmetic" k1="0" k2="1" k3="0.6" k4="-0.6" result="c"/><feTurbulence type="fractalNoise" baseFrequency="0.05" numOctaves="2" seed="40" result="l"/><feColorMatrix in="l" type="matrix" values="0 0 0 0 0 0 0 0 0 0 0 0 0 0 0 1 0 0 0 0" result="la"/><feComposite in="c" in2="la" operator="arithmetic" k1="0" k2="1" k3="0.55" k4="-0.275" result="c2"/><feColorMatrix in="c2" type="matrix" values="0 0 0 0 1.000 0 0 0 0 0.000 0 0 0 0 1.000 0 0 0 30.0 -16.128"/></filter><filter id="f56" x="-30%" y="-30%" width="160%" height="160%" color-interpolation-filters="sRGB"><feGaussianBlur in="SourceAlpha" stdDeviation="3.0" result="m"/><feTurbulence type="fractalNoise" baseFrequency="0.3" numOctaves="2" seed="11" result="n"/><feColorMatrix in="n" type="matrix" values="0 0 0 0 0 0 0 0 0 0 0 0 0 0 0 1 0 0 0 0" result="na"/><feComposite in="na" in2="m" operator="arithmetic" k1="0" k2="1" k3="0.6" k4="-0.6" result="c"/><feTurbulence type="fractalNoise" baseFrequency="0.05" numOctaves="2" seed="14" result="l"/><feColorMatrix in="l" type="matrix" values="0 0 0 0 0 0 0 0 0 0 0 0 0 0 0 1 0 0 0 0" result="la"/><feComposite in="c" in2="la" operator="arithmetic" k1="0" k2="1" k3="0.55" k4="-0.275" result="c2"/><feColorMatrix in="c2" type="matrix" values="0 0 0 0 0.165 0 0 0 0 0.165 0 0 0 0 0.063 0 0 0 30.0 -14.235"/></filter><filter id="f57" x="-30%" y="-30%" width="160%" height="160%" color-interpolation-filters="sRGB"><feGaussianBlur in="SourceAlpha" stdDeviation="3.0" result="m"/><feTurbulence type="fractalNoise" baseFrequency="0.3" numOctaves="2" seed="11" result="n"/><feColorMatrix in="n" type="matrix" values="0 0 0 0 0 0 0 0 0 0 0 0 0 0 0 1 0 0 0 0" result="na"/><feComposite in="na" in2="m" operator="arithmetic" k1="0" k2="1" k3="0.6" k4="-0.6" result="c"/><feTurbulence type="fractalNoise" baseFrequency="0.05" numOctaves="2" seed="14" result="l"/><feColorMatrix in="l" type="matrix" values="0 0 0 0 0 0 0 0 0 0 0 0 0 0 0 1 0 0 0 0" result="la"/><feComposite in="c" in2="la" operator="arithmetic" k1="0" k2="1" k3="0.55" k4="-0.275" result="c2"/><feColorMatrix in="c2" type="matrix" values="0 0 0 0 1.000 0 0 0 0 0.843 0 0 0 0 0.000 0 0 0 30.0 -16.035"/></filter><filter id="f58" x="-30%" y="-30%" width="160%" height="160%" color-interpolation-filters="sRGB"><feGaussianBlur in="SourceAlpha" stdDeviation="3.0" result="m"/><feTurbulence type="fractalNoise" baseFrequency="0.3" numOctaves="2" seed="37" result="n"/><feColorMatrix in="n" type="matrix" values="0 0 0 0 0 0 0 0 0 0 0 0 0 0 0 1 0 0 0 0" result="na"/><feComposite in="na" in2="m" operator="arithmetic" k1="0" k2="1" k3="0.6" k4="-0.6" result="c"/><feTurbulence type="fractalNoise" baseFrequency="0.05" numOctaves="2" seed="40" result="l"/><feColorMatrix in="l" type="matrix" values="0 0 0 0 0 0 0 0 0 0 0 0 0 0 0 1 0 0 0 0" result="la"/><feComposite in="c" in2="la" operator="arithmetic" k1="0" k2="1" k3="0.55" k4="-0.275" result="c2"/><feColorMatrix in="c2" type="matrix" values="0 0 0 0 1.000 0 0 0 0 0.000 0 0 0 0 1.000 0 0 0 30.0 -13.872"/></filter><filter id="f59" x="-30%" y="-30%" width="160%" height="160%" color-interpolation-filters="sRGB"><feGaussianBlur in="SourceAlpha" stdDeviation="3.0" result="m"/><feTurbulence type="fractalNoise" baseFrequency="0.3" numOctaves="2" seed="89" result="n"/><feColorMatrix in="n" type="matrix" values="0 0 0 0 0 0 0 0 0 0 0 0 0 0 0 1 0 0 0 0" result="na"/><feComposite in="na" in2="m" operator="arithmetic" k1="0" k2="1" k3="0.6" k4="-0.6" result="c"/><feTurbulence type="fractalNoise" baseFrequency="0.05" numOctaves="2" seed="92" result="l"/><feColorMatrix in="l" type="matrix" values="0 0 0 0 0 0 0 0 0 0 0 0 0 0 0 1 0 0 0 0" result="la"/><feComposite in="c" in2="la" operator="arithmetic" k1="0" k2="1" k3="0.6" k4="-0.3" result="c2"/><feColorMatrix in="c2" type="matrix" values="0 0 0 0 0.353 0 0 0 0 0.039 0 0 0 0 0.416 0 0 0 30.0 -16.128"/></filter><filter id="f60" x="-30%" y="-30%" width="160%" height="160%" color-interpolation-filters="sRGB"><feGaussianBlur in="SourceAlpha" stdDeviation="3.0" result="m"/><feTurbulence type="fractalNoise" baseFrequency="0.3" numOctaves="2" seed="89" result="n"/><feColorMatrix in="n" type="matrix" values="0 0 0 0 0 0 0 0 0 0 0 0 0 0 0 1 0 0 0 0" result="na"/><feComposite in="na" in2="m" operator="arithmetic" k1="0" k2="1" k3="0.6" k4="-0.6" result="c"/><feTurbulence type="fractalNoise" baseFrequency="0.05" numOctaves="2" seed="92" result="l"/><feColorMatrix in="l" type="matrix" values="0 0 0 0 0 0 0 0 0 0 0 0 0 0 0 1 0 0 0 0" result="la"/><feComposite in="c" in2="la" operator="arithmetic" k1="0" k2="1" k3="0.6" k4="-0.3" result="c2"/><feColorMatrix in="c2" type="matrix" values="0 0 0 0 0.353 0 0 0 0 0.039 0 0 0 0 0.416 0 0 0 30.0 -18.669"/></filter><filter id="f61" x="-30%" y="-30%" width="160%" height="160%" color-interpolation-filters="sRGB"><feGaussianBlur in="SourceAlpha" stdDeviation="3.0" result="m"/><feTurbulence type="fractalNoise" baseFrequency="0.3" numOctaves="2" seed="23" result="n"/><feColorMatrix in="n" type="matrix" values="0 0 0 0 0 0 0 0 0 0 0 0 0 0 0 1 0 0 0 0" result="na"/><feComposite in="na" in2="m" operator="arithmetic" k1="0" k2="1" k3="0.6" k4="-0.6" result="c"/><feTurbulence type="fractalNoise" baseFrequency="0.05" numOctaves="2" seed="26" result="l"/><feColorMatrix in="l" type="matrix" values="0 0 0 0 0 0 0 0 0 0 0 0 0 0 0 1 0 0 0 0" result="la"/><feComposite in="c" in2="la" operator="arithmetic" k1="0" k2="1" k3="0.55" k4="-0.275" result="c2"/><feColorMatrix in="c2" type="matrix" values="0 0 0 0 0.529 0 0 0 0 0.808 0 0 0 0 0.980 0 0 0 30.0 -18.856"/></filter><filter id="f62" x="-30%" y="-30%" width="160%" height="160%" color-interpolation-filters="sRGB"><feGaussianBlur in="SourceAlpha" stdDeviation="3.0" result="m"/><feTurbulence type="fractalNoise" baseFrequency="0.3" numOctaves="2" seed="23" result="n"/><feColorMatrix in="n" type="matrix" values="0 0 0 0 0 0 0 0 0 0 0 0 0 0 0 1 0 0 0 0" result="na"/><feComposite in="na" in2="m" operator="arithmetic" k1="0" k2="1" k3="0.6" k4="-0.6" result="c"/><feTurbulence type="fractalNoise" baseFrequency="0.05" numOctaves="2" seed="26" result="l"/><feColorMatrix in="l" type="matrix" values="0 0 0 0 0 0 0 0 0 0 0 0 0 0 0 1 0 0 0 0" result="la"/><feComposite in="c" in2="la" operator="arithmetic" k1="0" k2="1" k3="0.55" k4="-0.275" result="c2"/><feColorMatrix in="c2" type="matrix" values="0 0 0 0 0.529 0 0 0 0 0.808 0 0 0 0 0.980 0 0 0 30.0 -16.985"/></filter><filter id="f63" x="-30%" y="-30%" width="160%" height="160%" color-interpolation-filters="sRGB"><feGaussianBlur in="SourceAlpha" stdDeviation="3.0" result="m"/><feTurbulence type="fractalNoise" baseFrequency="0.3" numOctaves="2" seed="23" result="n"/><feColorMatrix in="n" type="matrix" values="0 0 0 0 0 0 0 0 0 0 0 0 0 0 0 1 0 0 0 0" result="na"/><feComposite in="na" in2="m" operator="arithmetic" k1="0" k2="1" k3="0.6" k4="-0.6" result="c"/><feTurbulence type="fractalNoise" baseFrequency="0.05" numOctaves="2" seed="26" result="l"/><feColorMatrix in="l" type="matrix" values="0 0 0 0 0 0 0 0 0 0 0 0 0 0 0 1 0 0 0 0" result="la"/><feComposite in="c" in2="la" operator="arithmetic" k1="0" k2="1" k3="0.55" k4="-0.275" result="c2"/><feColorMatrix in="c2" type="matrix" values="0 0 0 0 0.529 0 0 0 0 0.808 0 0 0 0 0.980 0 0 0 30.0 -17.354"/></filter><filter id="f64" x="-30%" y="-30%" width="160%" height="160%" color-interpolation-filters="sRGB"><feGaussianBlur in="SourceAlpha" stdDeviation="3.0" result="m"/><feTurbulence type="fractalNoise" baseFrequency="0.3" numOctaves="2" seed="23" result="n"/><feColorMatrix in="n" type="matrix" values="0 0 0 0 0 0 0 0 0 0 0 0 0 0 0 1 0 0 0 0" result="na"/><feComposite in="na" in2="m" operator="arithmetic" k1="0" k2="1" k3="0.6" k4="-0.6" result="c"/><feTurbulence type="fractalNoise" baseFrequency="0.05" numOctaves="2" seed="26" result="l"/><feColorMatrix in="l" type="matrix" values="0 0 0 0 0 0 0 0 0 0 0 0 0 0 0 1 0 0 0 0" result="la"/><feComposite in="c" in2="la" operator="arithmetic" k1="0" k2="1" k3="0.55" k4="-0.275" result="c2"/><feColorMatrix in="c2" type="matrix" values="0 0 0 0 0.529 0 0 0 0 0.808 0 0 0 0 0.980 0 0 0 30.0 -14.331"/></filter><filter id="f65" x="-30%" y="-30%" width="160%" height="160%" color-interpolation-filters="sRGB"><feGaussianBlur in="SourceAlpha" stdDeviation="3.0" result="m"/><feTurbulence type="fractalNoise" baseFrequency="0.3" numOctaves="2" seed="37" result="n"/><feColorMatrix in="n" type="matrix" values="0 0 0 0 0 0 0 0 0 0 0 0 0 0 0 1 0 0 0 0" result="na"/><feComposite in="na" in2="m" operator="arithmetic" k1="0" k2="1" k3="0.6" k4="-0.6" result="c"/><feTurbulence type="fractalNoise" baseFrequency="0.05" numOctaves="2" seed="40" result="l"/><feColorMatrix in="l" type="matrix" values="0 0 0 0 0 0 0 0 0 0 0 0 0 0 0 1 0 0 0 0" result="la"/><feComposite in="c" in2="la" operator="arithmetic" k1="0" k2="1" k3="0.55" k4="-0.275" result="c2"/><feColorMatrix in="c2" type="matrix" values="0 0 0 0 1.000 0 0 0 0 0.000 0 0 0 0 1.000 0 0 0 30.0 -21.303"/></filter><filter id="f66" x="-30%" y="-30%" width="160%" height="160%" color-interpolation-filters="sRGB"><feGaussianBlur in="SourceAlpha" stdDeviation="3.0" result="m"/><feTurbulence type="fractalNoise" baseFrequency="0.3" numOctaves="2" seed="11" result="n"/><feColorMatrix in="n" type="matrix" values="0 0 0 0 0 0 0 0 0 0 0 0 0 0 0 1 0 0 0 0" result="na"/><feComposite in="na" in2="m" operator="arithmetic" k1="0" k2="1" k3="0.6" k4="-0.6" result="c"/><feTurbulence type="fractalNoise" baseFrequency="0.05" numOctaves="2" seed="14" result="l"/><feColorMatrix in="l" type="matrix" values="0 0 0 0 0 0 0 0 0 0 0 0 0 0 0 1 0 0 0 0" result="la"/><feComposite in="c" in2="la" operator="arithmetic" k1="0" k2="1" k3="0.55" k4="-0.275" result="c2"/><feColorMatrix in="c2" type="matrix" values="0 0 0 0 0.165 0 0 0 0 0.165 0 0 0 0 0.063 0 0 0 30.0 -17.154"/></filter><filter id="f67" x="-30%" y="-30%" width="160%" height="160%" color-interpolation-filters="sRGB"><feGaussianBlur in="SourceAlpha" stdDeviation="3.0" result="m"/><feTurbulence type="fractalNoise" baseFrequency="0.3" numOctaves="2" seed="11" result="n"/><feColorMatrix in="n" type="matrix" values="0 0 0 0 0 0 0 0 0 0 0 0 0 0 0 1 0 0 0 0" result="na"/><feComposite in="na" in2="m" operator="arithmetic" k1="0" k2="1" k3="0.6" k4="-0.6" result="c"/><feTurbulence type="fractalNoise" baseFrequency="0.05" numOctaves="2" seed="14" result="l"/><feColorMatrix in="l" type="matrix" values="0 0 0 0 0 0 0 0 0 0 0 0 0 0 0 1 0 0 0 0" result="la"/><feComposite in="c" in2="la" operator="arithmetic" k1="0" k2="1" k3="0.55" k4="-0.275" result="c2"/><feColorMatrix in="c2" type="matrix" values="0 0 0 0 1.000 0 0 0 0 0.843 0 0 0 0 0.000 0 0 0 30.0 -18.954"/></filter><filter id="f68" x="-30%" y="-30%" width="160%" height="160%" color-interpolation-filters="sRGB"><feGaussianBlur in="SourceAlpha" stdDeviation="3.0" result="m"/><feTurbulence type="fractalNoise" baseFrequency="0.3" numOctaves="2" seed="51" result="n"/><feColorMatrix in="n" type="matrix" values="0 0 0 0 0 0 0 0 0 0 0 0 0 0 0 1 0 0 0 0" result="na"/><feComposite in="na" in2="m" operator="arithmetic" k1="0" k2="1" k3="0.6" k4="-0.6" result="c"/><feTurbulence type="fractalNoise" baseFrequency="0.05" numOctaves="2" seed="54" result="l"/><feColorMatrix in="l" type="matrix" values="0 0 0 0 0 0 0 0 0 0 0 0 0 0 0 1 0 0 0 0" result="la"/><feComposite in="c" in2="la" operator="arithmetic" k1="0" k2="1" k3="0.35" k4="-0.175" result="c2"/><feColorMatrix in="c2" type="matrix" values="0 0 0 0 0.000 0 0 0 0 0.000 0 0 0 0 0.000 0 0 0 30.0 -18.240"/></filter><filter id="f69" x="-30%" y="-30%" width="160%" height="160%" color-interpolation-filters="sRGB"><feGaussianBlur in="SourceAlpha" stdDeviation="3.0" result="m"/><feTurbulence type="fractalNoise" baseFrequency="0.3" numOctaves="2" seed="37" result="n"/><feColorMatrix in="n" type="matrix" values="0 0 0 0 0 0 0 0 0 0 0 0 0 0 0 1 0 0 0 0" result="na"/><feComposite in="na" in2="m" operator="arithmetic" k1="0" k2="1" k3="0.6" k4="-0.6" result="c"/><feTurbulence type="fractalNoise" baseFrequency="0.05" numOctaves="2" seed="40" result="l"/><feColorMatrix in="l" type="matrix" values="0 0 0 0 0 0 0 0 0 0 0 0 0 0 0 1 0 0 0 0" result="la"/><feComposite in="c" in2="la" operator="arithmetic" k1="0" k2="1" k3="0.55" k4="-0.275" result="c2"/><feColorMatrix in="c2" type="matrix" values="0 0 0 0 1.000 0 0 0 0 0.000 0 0 0 0 1.000 0 0 0 30.0 -18.140"/></filter><filter id="f70" x="-30%" y="-30%" width="160%" height="160%" color-interpolation-filters="sRGB"><feGaussianBlur in="SourceAlpha" stdDeviation="3.0" result="m"/><feTurbulence type="fractalNoise" baseFrequency="0.3" numOctaves="2" seed="11" result="n"/><feColorMatrix in="n" type="matrix" values="0 0 0 0 0 0 0 0 0 0 0 0 0 0 0 1 0 0 0 0" result="na"/><feComposite in="na" in2="m" operator="arithmetic" k1="0" k2="1" k3="0.6" k4="-0.6" result="c"/><feTurbulence type="fractalNoise" baseFrequency="0.05" numOctaves="2" seed="14" result="l"/><feColorMatrix in="l" type="matrix" values="0 0 0 0 0 0 0 0 0 0 0 0 0 0 0 1 0 0 0 0" result="la"/><feComposite in="c" in2="la" operator="arithmetic" k1="0" k2="1" k3="0.55" k4="-0.275" result="c2"/><feColorMatrix in="c2" type="matrix" values="0 0 0 0 0.165 0 0 0 0 0.165 0 0 0 0 0.063 0 0 0 30.0 -11.740"/></filter><filter id="f71" x="-30%" y="-30%" width="160%" height="160%" color-interpolation-filters="sRGB"><feGaussianBlur in="SourceAlpha" stdDeviation="3.0" result="m"/><feTurbulence type="fractalNoise" baseFrequency="0.3" numOctaves="2" seed="11" result="n"/><feColorMatrix in="n" type="matrix" values="0 0 0 0 0 0 0 0 0 0 0 0 0 0 0 1 0 0 0 0" result="na"/><feComposite in="na" in2="m" operator="arithmetic" k1="0" k2="1" k3="0.6" k4="-0.6" result="c"/><feTurbulence type="fractalNoise" baseFrequency="0.05" numOctaves="2" seed="14" result="l"/><feColorMatrix in="l" type="matrix" values="0 0 0 0 0 0 0 0 0 0 0 0 0 0 0 1 0 0 0 0" result="la"/><feComposite in="c" in2="la" operator="arithmetic" k1="0" k2="1" k3="0.55" k4="-0.275" result="c2"/><feColorMatrix in="c2" type="matrix" values="0 0 0 0 1.000 0 0 0 0 0.843 0 0 0 0 0.000 0 0 0 30.0 -13.540"/></filter><filter id="f72" x="-30%" y="-30%" width="160%" height="160%" color-interpolation-filters="sRGB"><feGaussianBlur in="SourceAlpha" stdDeviation="3.0" result="m"/><feTurbulence type="fractalNoise" baseFrequency="0.3" numOctaves="2" seed="37" result="n"/><feColorMatrix in="n" type="matrix" values="0 0 0 0 0 0 0 0 0 0 0 0 0 0 0 1 0 0 0 0" result="na"/><feComposite in="na" in2="m" operator="arithmetic" k1="0" k2="1" k3="0.6" k4="-0.6" result="c"/><feTurbulence type="fractalNoise" baseFrequency="0.05" numOctaves="2" seed="40" result="l"/><feColorMatrix in="l" type="matrix" values="0 0 0 0 0 0 0 0 0 0 0 0 0 0 0 1 0 0 0 0" result="la"/><feComposite in="c" in2="la" operator="arithmetic" k1="0" k2="1" k3="0.55" k4="-0.275" result="c2"/><feColorMatrix in="c2" type="matrix" values="0 0 0 0 1.000 0 0 0 0 0.000 0 0 0 0 1.000 0 0 0 30.0 -16.730"/></filter><filter id="f73" x="-30%" y="-30%" width="160%" height="160%" color-interpolation-filters="sRGB"><feGaussianBlur in="SourceAlpha" stdDeviation="3.0" result="m"/><feTurbulence type="fractalNoise" baseFrequency="0.3" numOctaves="2" seed="51" result="n"/><feColorMatrix in="n" type="matrix" values="0 0 0 0 0 0 0 0 0 0 0 0 0 0 0 1 0 0 0 0" result="na"/><feComposite in="na" in2="m" operator="arithmetic" k1="0" k2="1" k3="0.6" k4="-0.6" result="c"/><feTurbulence type="fractalNoise" baseFrequency="0.05" numOctaves="2" seed="54" result="l"/><feColorMatrix in="l" type="matrix" values="0 0 0 0 0 0 0 0 0 0 0 0 0 0 0 1 0 0 0 0" result="la"/><feComposite in="c" in2="la" operator="arithmetic" k1="0" k2="1" k3="0.35" k4="-0.175" result="c2"/><feColorMatrix in="c2" type="matrix" values="0 0 0 0 0.000 0 0 0 0 0.000 0 0 0 0 0.000 0 0 0 30.0 -20.504"/></filter><filter id="f74" x="-30%" y="-30%" width="160%" height="160%" color-interpolation-filters="sRGB"><feGaussianBlur in="SourceAlpha" stdDeviation="3.0" result="m"/><feTurbulence type="fractalNoise" baseFrequency="0.3" numOctaves="2" seed="11" result="n"/><feColorMatrix in="n" type="matrix" values="0 0 0 0 0 0 0 0 0 0 0 0 0 0 0 1 0 0 0 0" result="na"/><feComposite in="na" in2="m" operator="arithmetic" k1="0" k2="1" k3="0.6" k4="-0.6" result="c"/><feTurbulence type="fractalNoise" baseFrequency="0.05" numOctaves="2" seed="14" result="l"/><feColorMatrix in="l" type="matrix" values="0 0 0 0 0 0 0 0 0 0 0 0 0 0 0 1 0 0 0 0" result="la"/><feComposite in="c" in2="la" operator="arithmetic" k1="0" k2="1" k3="0.55" k4="-0.275" result="c2"/><feColorMatrix in="c2" type="matrix" values="0 0 0 0 0.165 0 0 0 0 0.165 0 0 0 0 0.063 0 0 0 30.0 -19.239"/></filter><filter id="f75" x="-30%" y="-30%" width="160%" height="160%" color-interpolation-filters="sRGB"><feGaussianBlur in="SourceAlpha" stdDeviation="3.0" result="m"/><feTurbulence type="fractalNoise" baseFrequency="0.3" numOctaves="2" seed="11" result="n"/><feColorMatrix in="n" type="matrix" values="0 0 0 0 0 0 0 0 0 0 0 0 0 0 0 1 0 0 0 0" result="na"/><feComposite in="na" in2="m" operator="arithmetic" k1="0" k2="1" k3="0.6" k4="-0.6" result="c"/><feTurbulence type="fractalNoise" baseFrequency="0.05" numOctaves="2" seed="14" result="l"/><feColorMatrix in="l" type="matrix" values="0 0 0 0 0 0 0 0 0 0 0 0 0 0 0 1 0 0 0 0" result="la"/><feComposite in="c" in2="la" operator="arithmetic" k1="0" k2="1" k3="0.55" k4="-0.275" result="c2"/><feColorMatrix in="c2" type="matrix" values="0 0 0 0 1.000 0 0 0 0 0.843 0 0 0 0 0.000 0 0 0 30.0 -21.039"/></filter><filter id="f76" x="-30%" y="-30%" width="160%" height="160%" color-interpolation-filters="sRGB"><feGaussianBlur in="SourceAlpha" stdDeviation="3.0" result="m"/><feTurbulence type="fractalNoise" baseFrequency="0.3" numOctaves="2" seed="51" result="n"/><feColorMatrix in="n" type="matrix" values="0 0 0 0 0 0 0 0 0 0 0 0 0 0 0 1 0 0 0 0" result="na"/><feComposite in="na" in2="m" operator="arithmetic" k1="0" k2="1" k3="0.6" k4="-0.6" result="c"/><feTurbulence type="fractalNoise" baseFrequency="0.05" numOctaves="2" seed="54" result="l"/><feColorMatrix in="l" type="matrix" values="0 0 0 0 0 0 0 0 0 0 0 0 0 0 0 1 0 0 0 0" result="la"/><feComposite in="c" in2="la" operator="arithmetic" k1="0" k2="1" k3="0.35" k4="-0.175" result="c2"/><feColorMatrix in="c2" type="matrix" values="0 0 0 0 0.000 0 0 0 0 0.000 0 0 0 0 0.000 0 0 0 30.0 -19.159"/></filter><filter id="f77" x="-30%" y="-30%" width="160%" height="160%" color-interpolation-filters="sRGB"><feGaussianBlur in="SourceAlpha" stdDeviation="3.0" result="m"/><feTurbulence type="fractalNoise" baseFrequency="0.3" numOctaves="2" seed="37" result="n"/><feColorMatrix in="n" type="matrix" values="0 0 0 0 0 0 0 0 0 0 0 0 0 0 0 1 0 0 0 0" result="na"/><feComposite in="na" in2="m" operator="arithmetic" k1="0" k2="1" k3="0.6" k4="-0.6" result="c"/><feTurbulence type="fractalNoise" baseFrequency="0.05" numOctaves="2" seed="40" result="l"/><feColorMatrix in="l" type="matrix" values="0 0 0 0 0 0 0 0 0 0 0 0 0 0 0 1 0 0 0 0" result="la"/><feComposite in="c" in2="la" operator="arithmetic" k1="0" k2="1" k3="0.55" k4="-0.275" result="c2"/><feColorMatrix in="c2" type="matrix" values="0 0 0 0 1.000 0 0 0 0 0.000 0 0 0 0 1.000 0 0 0 30.0 -18.669"/></filter><filter id="f78" x="-30%" y="-30%" width="160%" height="160%" color-interpolation-filters="sRGB"><feGaussianBlur in="SourceAlpha" stdDeviation="3.0" result="m"/><feTurbulence type="fractalNoise" baseFrequency="0.3" numOctaves="2" seed="11" result="n"/><feColorMatrix in="n" type="matrix" values="0 0 0 0 0 0 0 0 0 0 0 0 0 0 0 1 0 0 0 0" result="na"/><feComposite in="na" in2="m" operator="arithmetic" k1="0" k2="1" k3="0.6" k4="-0.6" result="c"/><feTurbulence type="fractalNoise" baseFrequency="0.05" numOctaves="2" seed="14" result="l"/><feColorMatrix in="l" type="matrix" values="0 0 0 0 0 0 0 0 0 0 0 0 0 0 0 1 0 0 0 0" result="la"/><feComposite in="c" in2="la" operator="arithmetic" k1="0" k2="1" k3="0.55" k4="-0.275" result="c2"/><feColorMatrix in="c2" type="matrix" values="0 0 0 0 0.165 0 0 0 0 0.165 0 0 0 0 0.063 0 0 0 30.0 -11.189"/></filter><filter id="f79" x="-30%" y="-30%" width="160%" height="160%" color-interpolation-filters="sRGB"><feGaussianBlur in="SourceAlpha" stdDeviation="3.0" result="m"/><feTurbulence type="fractalNoise" baseFrequency="0.3" numOctaves="2" seed="11" result="n"/><feColorMatrix in="n" type="matrix" values="0 0 0 0 0 0 0 0 0 0 0 0 0 0 0 1 0 0 0 0" result="na"/><feComposite in="na" in2="m" operator="arithmetic" k1="0" k2="1" k3="0.6" k4="-0.6" result="c"/><feTurbulence type="fractalNoise" baseFrequency="0.05" numOctaves="2" seed="14" result="l"/><feColorMatrix in="l" type="matrix" values="0 0 0 0 0 0 0 0 0 0 0 0 0 0 0 1 0 0 0 0" result="la"/><feComposite in="c" in2="la" operator="arithmetic" k1="0" k2="1" k3="0.55" k4="-0.275" result="c2"/><feColorMatrix in="c2" type="matrix" values="0 0 0 0 1.000 0 0 0 0 0.843 0 0 0 0 0.000 0 0 0 30.0 -12.989"/></filter><filter id="f80" x="-30%" y="-30%" width="160%" height="160%" color-interpolation-filters="sRGB"><feGaussianBlur in="SourceAlpha" stdDeviation="3.0" result="m"/><feTurbulence type="fractalNoise" baseFrequency="0.3" numOctaves="2" seed="23" result="n"/><feColorMatrix in="n" type="matrix" values="0 0 0 0 0 0 0 0 0 0 0 0 0 0 0 1 0 0 0 0" result="na"/><feComposite in="na" in2="m" operator="arithmetic" k1="0" k2="1" k3="0.6" k4="-0.6" result="c"/><feTurbulence type="fractalNoise" baseFrequency="0.05" numOctaves="2" seed="26" result="l"/><feColorMatrix in="l" type="matrix" values="0 0 0 0 0 0 0 0 0 0 0 0 0 0 0 1 0 0 0 0" result="la"/><feComposite in="c" in2="la" operator="arithmetic" k1="0" k2="1" k3="0.55" k4="-0.275" result="c2"/><feColorMatrix in="c2" type="matrix" values="0 0 0 0 0.529 0 0 0 0 0.808 0 0 0 0 0.980 0 0 0 30.0 -13.245"/></filter><filter id="f81" x="-30%" y="-30%" width="160%" height="160%" color-interpolation-filters="sRGB"><feGaussianBlur in="SourceAlpha" stdDeviation="3.0" result="m"/><feTurbulence type="fractalNoise" baseFrequency="0.3" numOctaves="2" seed="51" result="n"/><feColorMatrix in="n" type="matrix" values="0 0 0 0 0 0 0 0 0 0 0 0 0 0 0 1 0 0 0 0" result="na"/><feComposite in="na" in2="m" operator="arithmetic" k1="0" k2="1" k3="0.6" k4="-0.6" result="c"/><feTurbulence type="fractalNoise" baseFrequency="0.05" numOctaves="2" seed="54" result="l"/><feColorMatrix in="l" type="matrix" values="0 0 0 0 0 0 0 0 0 0 0 0 0 0 0 1 0 0 0 0" result="la"/><feComposite in="c" in2="la" operator="arithmetic" k1="0" k2="1" k3="0.35" k4="-0.175" result="c2"/><feColorMatrix in="c2" type="matrix" values="0 0 0 0 0.000 0 0 0 0 0.000 0 0 0 0 0.000 0 0 0 30.0 -14.644"/></filter><filter id="f82" x="-30%" y="-30%" width="160%" height="160%" color-interpolation-filters="sRGB"><feGaussianBlur in="SourceAlpha" stdDeviation="3.0" result="m"/><feTurbulence type="fractalNoise" baseFrequency="0.3" numOctaves="2" seed="51" result="n"/><feColorMatrix in="n" type="matrix" values="0 0 0 0 0 0 0 0 0 0 0 0 0 0 0 1 0 0 0 0" result="na"/><feComposite in="na" in2="m" operator="arithmetic" k1="0" k2="1" k3="0.6" k4="-0.6" result="c"/><feTurbulence type="fractalNoise" baseFrequency="0.05" numOctaves="2" seed="54" result="l"/><feColorMatrix in="l" type="matrix" values="0 0 0 0 0 0 0 0 0 0 0 0 0 0 0 1 0 0 0 0" result="la"/><feComposite in="c" in2="la" operator="arithmetic" k1="0" k2="1" k3="0.35" k4="-0.175" result="c2"/><feColorMatrix in="c2" type="matrix" values="0 0 0 0 0.000 0 0 0 0 0.000 0 0 0 0 0.000 0 0 0 30.0 -12.937"/></filter><filter id="f83" x="-30%" y="-30%" width="160%" height="160%" color-interpolation-filters="sRGB"><feGaussianBlur in="SourceAlpha" stdDeviation="3.0" result="m"/><feTurbulence type="fractalNoise" baseFrequency="0.3" numOctaves="2" seed="51" result="n"/><feColorMatrix in="n" type="matrix" values="0 0 0 0 0 0 0 0 0 0 0 0 0 0 0 1 0 0 0 0" result="na"/><feComposite in="na" in2="m" operator="arithmetic" k1="0" k2="1" k3="0.6" k4="-0.6" result="c"/><feTurbulence type="fractalNoise" baseFrequency="0.05" numOctaves="2" seed="54" result="l"/><feColorMatrix in="l" type="matrix" values="0 0 0 0 0 0 0 0 0 0 0 0 0 0 0 1 0 0 0 0" result="la"/><feComposite in="c" in2="la" operator="arithmetic" k1="0" k2="1" k3="0.35" k4="-0.175" result="c2"/><feColorMatrix in="c2" type="matrix" values="0 0 0 0 0.000 0 0 0 0 0.000 0 0 0 0 0.000 0 0 0 30.0 -18.761"/></filter><filter id="f84" x="-30%" y="-30%" width="160%" height="160%" color-interpolation-filters="sRGB"><feGaussianBlur in="SourceAlpha" stdDeviation="3.0" result="m"/><feTurbulence type="fractalNoise" baseFrequency="0.3" numOctaves="2" seed="23" result="n"/><feColorMatrix in="n" type="matrix" values="0 0 0 0 0 0 0 0 0 0 0 0 0 0 0 1 0 0 0 0" result="na"/><feComposite in="na" in2="m" operator="arithmetic" k1="0" k2="1" k3="0.6" k4="-0.6" result="c"/><feTurbulence type="fractalNoise" baseFrequency="0.05" numOctaves="2" seed="26" result="l"/><feColorMatrix in="l" type="matrix" values="0 0 0 0 0 0 0 0 0 0 0 0 0 0 0 1 0 0 0 0" result="la"/><feComposite in="c" in2="la" operator="arithmetic" k1="0" k2="1" k3="0.55" k4="-0.275" result="c2"/><feColorMatrix in="c2" type="matrix" values="0 0 0 0 0.529 0 0 0 0 0.808 0 0 0 0 0.980 0 0 0 30.0 -16.412"/></filter><filter id="f85" x="-30%" y="-30%" width="160%" height="160%" color-interpolation-filters="sRGB"><feGaussianBlur in="SourceAlpha" stdDeviation="3.0" result="m"/><feTurbulence type="fractalNoise" baseFrequency="0.3" numOctaves="2" seed="71" result="n"/><feColorMatrix in="n" type="matrix" values="0 0 0 0 0 0 0 0 0 0 0 0 0 0 0 1 0 0 0 0" result="na"/><feComposite in="na" in2="m" operator="arithmetic" k1="0" k2="1" k3="0.6" k4="-0.6" result="c"/><feTurbulence type="fractalNoise" baseFrequency="0.05" numOctaves="2" seed="74" result="l"/><feColorMatrix in="l" type="matrix" values="0 0 0 0 0 0 0 0 0 0 0 0 0 0 0 1 0 0 0 0" result="la"/><feComposite in="c" in2="la" operator="arithmetic" k1="0" k2="1" k3="0.3" k4="-0.15" result="c2"/><feColorMatrix in="c2" type="matrix" values="0 0 0 0 0.690 0 0 0 0 0.125 0 0 0 0 0.753 0 0 0 30.0 -9.177"/></filter><filter id="f86" x="-30%" y="-30%" width="160%" height="160%" color-interpolation-filters="sRGB"><feGaussianBlur in="SourceAlpha" stdDeviation="3.0" result="m"/><feTurbulence type="fractalNoise" baseFrequency="0.3" numOctaves="2" seed="89" result="n"/><feColorMatrix in="n" type="matrix" values="0 0 0 0 0 0 0 0 0 0 0 0 0 0 0 1 0 0 0 0" result="na"/><feComposite in="na" in2="m" operator="arithmetic" k1="0" k2="1" k3="0.6" k4="-0.6" result="c"/><feTurbulence type="fractalNoise" baseFrequency="0.05" numOctaves="2" seed="92" result="l"/><feColorMatrix in="l" type="matrix" values="0 0 0 0 0 0 0 0 0 0 0 0 0 0 0 1 0 0 0 0" result="la"/><feComposite in="c" in2="la" operator="arithmetic" k1="0" k2="1" k3="0.6" k4="-0.3" result="c2"/><feColorMatrix in="c2" type="matrix" values="0 0 0 0 0.353 0 0 0 0 0.039 0 0 0 0 0.416 0 0 0 30.0 -20.823"/></filter><filter id="f87" x="-30%" y="-30%" width="160%" height="160%" color-interpolation-filters="sRGB"><feGaussianBlur in="SourceAlpha" stdDeviation="3.0" result="m"/><feTurbulence type="fractalNoise" baseFrequency="0.3" numOctaves="2" seed="37" result="n"/><feColorMatrix in="n" type="matrix" values="0 0 0 0 0 0 0 0 0 0 0 0 0 0 0 1 0 0 0 0" result="na"/><feComposite in="na" in2="m" operator="arithmetic" k1="0" k2="1" k3="0.6" k4="-0.6" result="c"/><feTurbulence type="fractalNoise" baseFrequency="0.05" numOctaves="2" seed="40" result="l"/><feColorMatrix in="l" type="matrix" values="0 0 0 0 0 0 0 0 0 0 0 0 0 0 0 1 0 0 0 0" result="la"/><feComposite in="c" in2="la" operator="arithmetic" k1="0" k2="1" k3="0.55" k4="-0.275" result="c2"/><feColorMatrix in="c2" type="matrix" values="0 0 0 0 1.000 0 0 0 0 0.000 0 0 0 0 1.000 0 0 0 30.0 -20.096"/></filter><filter id="f88" x="-30%" y="-30%" width="160%" height="160%" color-interpolation-filters="sRGB"><feGaussianBlur in="SourceAlpha" stdDeviation="3.0" result="m"/><feTurbulence type="fractalNoise" baseFrequency="0.3" numOctaves="2" seed="11" result="n"/><feColorMatrix in="n" type="matrix" values="0 0 0 0 0 0 0 0 0 0 0 0 0 0 0 1 0 0 0 0" result="na"/><feComposite in="na" in2="m" operator="arithmetic" k1="0" k2="1" k3="0.6" k4="-0.6" result="c"/><feTurbulence type="fractalNoise" baseFrequency="0.05" numOctaves="2" seed="14" result="l"/><feColorMatrix in="l" type="matrix" values="0 0 0 0 0 0 0 0 0 0 0 0 0 0 0 1 0 0 0 0" result="la"/><feComposite in="c" in2="la" operator="arithmetic" k1="0" k2="1" k3="0.55" k4="-0.275" result="c2"/><feColorMatrix in="c2" type="matrix" values="0 0 0 0 0.165 0 0 0 0 0.165 0 0 0 0 0.063 0 0 0 30.0 -20.748"/></filter><filter id="f89" x="-30%" y="-30%" width="160%" height="160%" color-interpolation-filters="sRGB"><feGaussianBlur in="SourceAlpha" stdDeviation="3.0" result="m"/><feTurbulence type="fractalNoise" baseFrequency="0.3" numOctaves="2" seed="11" result="n"/><feColorMatrix in="n" type="matrix" values="0 0 0 0 0 0 0 0 0 0 0 0 0 0 0 1 0 0 0 0" result="na"/><feComposite in="na" in2="m" operator="arithmetic" k1="0" k2="1" k3="0.6" k4="-0.6" result="c"/><feTurbulence type="fractalNoise" baseFrequency="0.05" numOctaves="2" seed="14" result="l"/><feColorMatrix in="l" type="matrix" values="0 0 0 0 0 0 0 0 0 0 0 0 0 0 0 1 0 0 0 0" result="la"/><feComposite in="c" in2="la" operator="arithmetic" k1="0" k2="1" k3="0.55" k4="-0.275" result="c2"/><feColorMatrix in="c2" type="matrix" values="0 0 0 0 1.000 0 0 0 0 0.843 0 0 0 0 0.000 0 0 0 30.0 -22.548"/></filter><filter id="f90" x="-30%" y="-30%" width="160%" height="160%" color-interpolation-filters="sRGB"><feGaussianBlur in="SourceAlpha" stdDeviation="3.0" result="m"/><feTurbulence type="fractalNoise" baseFrequency="0.3" numOctaves="2" seed="89" result="n"/><feColorMatrix in="n" type="matrix" values="0 0 0 0 0 0 0 0 0 0 0 0 0 0 0 1 0 0 0 0" result="na"/><feComposite in="na" in2="m" operator="arithmetic" k1="0" k2="1" k3="0.6" k4="-0.6" result="c"/><feTurbulence type="fractalNoise" baseFrequency="0.05" numOctaves="2" seed="92" result="l"/><feColorMatrix in="l" type="matrix" values="0 0 0 0 0 0 0 0 0 0 0 0 0 0 0 1 0 0 0 0" result="la"/><feComposite in="c" in2="la" operator="arithmetic" k1="0" k2="1" k3="0.6" k4="-0.3" result="c2"/><feColorMatrix in="c2" type="matrix" values="0 0 0 0 0.353 0 0 0 0 0.039 0 0 0 0 0.416 0 0 0 30.0 -16.730"/></filter><filter id="f91" x="-30%" y="-30%" width="160%" height="160%" color-interpolation-filters="sRGB"><feGaussianBlur in="SourceAlpha" stdDeviation="3.0" result="m"/><feTurbulence type="fractalNoise" baseFrequency="0.3" numOctaves="2" seed="23" result="n"/><feColorMatrix in="n" type="matrix" values="0 0 0 0 0 0 0 0 0 0 0 0 0 0 0 1 0 0 0 0" result="na"/><feComposite in="na" in2="m" operator="arithmetic" k1="0" k2="1" k3="0.6" k4="-0.6" result="c"/><feTurbulence type="fractalNoise" baseFrequency="0.05" numOctaves="2" seed="26" result="l"/><feColorMatrix in="l" type="matrix" values="0 0 0 0 0 0 0 0 0 0 0 0 0 0 0 1 0 0 0 0" result="la"/><feComposite in="c" in2="la" operator="arithmetic" k1="0" k2="1" k3="0.55" k4="-0.275" result="c2"/><feColorMatrix in="c2" type="matrix" values="0 0 0 0 0.529 0 0 0 0 0.808 0 0 0 0 0.980 0 0 0 30.0 -13.802"/></filter><filter id="f92" x="-30%" y="-30%" width="160%" height="160%" color-interpolation-filters="sRGB"><feGaussianBlur in="SourceAlpha" stdDeviation="3.0" result="m"/><feTurbulence type="fractalNoise" baseFrequency="0.3" numOctaves="2" seed="37" result="n"/><feColorMatrix in="n" type="matrix" values="0 0 0 0 0 0 0 0 0 0 0 0 0 0 0 1 0 0 0 0" result="na"/><feComposite in="na" in2="m" operator="arithmetic" k1="0" k2="1" k3="0.6" k4="-0.6" result="c"/><feTurbulence type="fractalNoise" baseFrequency="0.05" numOctaves="2" seed="40" result="l"/><feColorMatrix in="l" type="matrix" values="0 0 0 0 0 0 0 0 0 0 0 0 0 0 0 1 0 0 0 0" result="la"/><feComposite in="c" in2="la" operator="arithmetic" k1="0" k2="1" k3="0.55" k4="-0.275" result="c2"/><feColorMatrix in="c2" type="matrix" values="0 0 0 0 1.000 0 0 0 0 0.000 0 0 0 0 1.000 0 0 0 30.0 -12.612"/></filter><filter id="soft" x="0" y="0" width="1170" height="607" filterUnits="userSpaceOnUse"><feGaussianBlur stdDeviation="0.55"/></filter></defs><g clip-path="url(#landc)"><g filter="url(#soft)"><path d="M188.0,52.0 201.0,40.0 230.0,38.0 255.0,40.0 271.0,42.0 300.0,41.0 310.0,28.0 330.0,27.0 345.0,37.0 360.0,31.0 380.0,33.0 400.0,37.0 420.0,40.0 433.0,46.0 433.0,65.0 412.0,62.0 395.0,58.0 383.0,62.0 383.0,73.0 365.0,73.0 350.0,69.0 330.0,71.0 310.0,67.0 290.0,63.0 270.0,59.0 250.0,58.0 230.0,56.0 201.0,58.0 188.0,59.0Z" filter="url(#f0)"/><path d="M330.0,14.0 445.0,14.0 445.0,30.0 330.0,30.0Z" filter="url(#f1)"/><path d="M158.0,44.0 182.0,44.0 184.0,57.0 165.0,60.0 156.0,54.0Z" filter="url(#f0)"/><path d="M185.0,51.0 201.0,49.0 201.0,60.0 186.0,60.0Z" filter="url(#f2)"/><path d="M388.0,63.0 412.0,63.0 412.0,75.0 388.0,75.0Z" filter="url(#f0)"/><path d="M165.0,56.0 240.0,56.0 240.0,88.0 165.0,78.0Z" filter="url(#f3)"/><path d="M165.0,56.0 240.0,56.0 240.0,88.0 165.0,78.0Z" filter="url(#f4)"/><path d="M165.0,56.0 240.0,56.0 240.0,88.0 165.0,78.0Z" filter="url(#f5)"/><path d="M238.0,58.0 265.0,63.0 290.0,66.0 311.0,66.0 334.0,70.0 360.0,73.0 378.0,77.0 378.0,94.0 350.0,92.0 330.0,90.0 300.0,88.0 280.0,90.0 250.0,97.0 238.0,82.0Z" filter="url(#f6)"/><path d="M238.0,58.0 265.0,63.0 290.0,66.0 311.0,66.0 334.0,70.0 360.0,73.0 378.0,77.0 378.0,94.0 350.0,92.0 330.0,90.0 300.0,88.0 280.0,90.0 250.0,97.0 238.0,82.0Z" filter="url(#f7)"/><path d="M238.0,58.0 265.0,63.0 290.0,66.0 311.0,66.0 334.0,70.0 360.0,73.0 378.0,77.0 378.0,94.0 350.0,92.0 330.0,90.0 300.0,88.0 280.0,90.0 250.0,97.0 238.0,82.0Z" filter="url(#f8)"/><path d="M238.0,58.0 265.0,63.0 290.0,66.0 311.0,66.0 334.0,70.0 360.0,73.0 378.0,77.0 378.0,94.0 350.0,92.0 330.0,90.0 300.0,88.0 280.0,90.0 250.0,97.0 238.0,82.0Z" filter="url(#f9)"/><path d="M272.0,84.0 366.0,86.0 370.0,108.0 300.0,106.0 272.0,98.0Z" filter="url(#f10)"/><path d="M272.0,84.0 366.0,86.0 370.0,108.0 300.0,106.0 272.0,98.0Z" filter="url(#f11)"/><path d="M272.0,84.0 366.0,86.0 370.0,108.0 300.0,106.0 272.0,98.0Z" filter="url(#f12)"/><path d="M376.0,71.0 438.0,84.0 442.0,118.0 400.0,126.0 376.0,111.0Z" filter="url(#f13)"/><path d="M376.0,71.0 438.0,84.0 442.0,118.0 400.0,126.0 376.0,111.0Z" filter="url(#f14)"/><path d="M376.0,71.0 438.0,84.0 442.0,118.0 400.0,126.0 376.0,111.0Z" filter="url(#f8)"/><path d="M376.0,71.0 438.0,84.0 442.0,118.0 400.0,126.0 376.0,111.0Z" filter="url(#f15)"/><path d="M372.0,84.0 408.0,84.0 408.0,102.0 372.0,102.0Z" filter="url(#f16)"/><path d="M346.0,96.0 408.0,96.0 408.0,130.0 370.0,130.0 346.0,119.0Z" filter="url(#f17)"/><path d="M346.0,96.0 408.0,96.0 408.0,130.0 370.0,130.0 346.0,119.0Z" filter="url(#f18)"/><path d="M346.0,96.0 408.0,96.0 408.0,130.0 370.0,130.0 346.0,119.0Z" filter="url(#f19)"/><path d="M346.0,96.0 408.0,96.0 408.0,130.0 370.0,130.0 346.0,119.0Z" filter="url(#f20)"/><path d="M226.0,90.0 272.0,90.0 272.0,123.0 226.0,123.0Z" filter="url(#f21)"/><path d="M226.0,90.0 272.0,90.0 272.0,123.0 226.0,123.0Z" filter="url(#f22)"/><path d="M226.0,90.0 272.0,90.0 272.0,123.0 226.0,123.0Z" filter="url(#f23)"/><path d="M277.0,107.0 288.0,106.0 298.0,112.0 304.0,125.0 303.0,136.0 294.0,143.0 283.0,140.0 274.0,131.0 271.0,122.0Z" filter="url(#f24)"/><path d="M235.0,126.0 274.0,127.0 275.0,146.0 235.0,146.0Z" filter="url(#f25)"/><path d="M235.0,126.0 274.0,127.0 275.0,146.0 235.0,146.0Z" filter="url(#f26)"/><path d="M235.0,126.0 274.0,127.0 275.0,146.0 235.0,146.0Z" filter="url(#f27)"/><path d="M235.0,126.0 274.0,127.0 275.0,146.0 235.0,146.0Z" filter="url(#f28)"/><path d="M222.0,118.0 240.0,116.0 242.0,146.0 222.0,148.0Z" filter="url(#f29)"/><path d="M222.0,118.0 240.0,116.0 242.0,146.0 222.0,148.0Z" filter="url(#f30)"/><path d="M239.0,123.0 252.0,123.0 252.0,134.0 239.0,134.0Z" filter="url(#f31)"/><path d="M255.0,147.0 266.0,147.0 266.0,162.0 255.0,162.0Z" filter="url(#f32)"/><path d="M328.0,152.0 360.0,134.0 385.0,123.0 392.0,131.0 366.0,148.0 335.0,162.0Z" filter="url(#f29)"/><path d="M328.0,152.0 360.0,134.0 385.0,123.0 392.0,131.0 366.0,148.0 335.0,162.0Z" filter="url(#f33)"/><path d="M228.0,148.0 275.0,148.0 278.0,172.0 262.0,185.0 235.0,185.0 228.0,165.0Z" filter="url(#f16)"/><path d="M228.0,148.0 275.0,148.0 278.0,172.0 262.0,185.0 235.0,185.0 228.0,165.0Z" filter="url(#f34)"/><path d="M228.0,148.0 275.0,148.0 278.0,172.0 262.0,185.0 235.0,185.0 228.0,165.0Z" filter="url(#f35)"/><path d="M254.0,133.0 295.0,146.0 296.0,170.0 274.0,172.0 254.0,150.0Z" filter="url(#f36)"/><path d="M254.0,133.0 295.0,146.0 296.0,170.0 274.0,172.0 254.0,150.0Z" filter="url(#f37)"/><path d="M254.0,133.0 295.0,146.0 296.0,170.0 274.0,172.0 254.0,150.0Z" filter="url(#f8)"/><path d="M278.0,156.0 292.0,156.0 292.0,177.0 278.0,177.0Z" filter="url(#f13)"/><path d="M278.0,156.0 292.0,156.0 292.0,177.0 278.0,177.0Z" filter="url(#f14)"/><path d="M276.0,170.0 293.0,170.0 293.0,192.0 276.0,192.0Z" filter="url(#f38)"/><path d="M240.0,185.0 300.0,185.0 302.0,212.0 272.0,212.0 240.0,200.0Z" filter="url(#f39)"/><path d="M240.0,185.0 300.0,185.0 302.0,212.0 272.0,212.0 240.0,200.0Z" filter="url(#f40)"/><path d="M240.0,185.0 300.0,185.0 302.0,212.0 272.0,212.0 240.0,200.0Z" filter="url(#f8)"/><path d="M299.0,150.0 352.0,150.0 352.0,182.0 299.0,182.0Z" filter="url(#f41)"/><path d="M299.0,150.0 352.0,150.0 352.0,182.0 299.0,182.0Z" filter="url(#f42)"/><path d="M299.0,150.0 352.0,150.0 352.0,182.0 299.0,182.0Z" filter="url(#f43)"/><path d="M262.0,200.0 320.0,205.0 320.0,222.0 275.0,222.0Z" filter="url(#f34)"/><path d="M262.0,200.0 320.0,205.0 320.0,222.0 275.0,222.0Z" filter="url(#f35)"/><path d="M262.0,200.0 320.0,205.0 320.0,222.0 275.0,222.0Z" filter="url(#f19)"/><path d="M240.0,125.0 272.0,118.0 300.0,140.0 296.0,160.0 262.0,165.0 240.0,150.0Z" filter="url(#f25)"/><path d="M240.0,125.0 272.0,118.0 300.0,140.0 296.0,160.0 262.0,165.0 240.0,150.0Z" filter="url(#f34)"/><path d="M240.0,125.0 272.0,118.0 300.0,140.0 296.0,160.0 262.0,165.0 240.0,150.0Z" filter="url(#f35)"/><path d="M240.0,125.0 272.0,118.0 300.0,140.0 296.0,160.0 262.0,165.0 240.0,150.0Z" filter="url(#f44)"/><path d="M296.0,205.0 330.0,205.0 340.0,252.0 308.0,252.0Z" filter="url(#f45)"/><path d="M296.0,205.0 330.0,205.0 340.0,252.0 308.0,252.0Z" filter="url(#f46)"/><path d="M296.0,205.0 330.0,205.0 340.0,252.0 308.0,252.0Z" filter="url(#f28)"/><path d="M272.0,205.0 300.0,205.0 302.0,232.0 280.0,232.0Z" filter="url(#f34)"/><path d="M272.0,205.0 300.0,205.0 302.0,232.0 280.0,232.0Z" filter="url(#f35)"/><path d="M272.0,205.0 300.0,205.0 302.0,232.0 280.0,232.0Z" filter="url(#f28)"/><path d="M272.0,205.0 300.0,205.0 302.0,232.0 280.0,232.0Z" filter="url(#f42)"/><path d="M318.0,244.0 344.0,250.0 344.0,262.0 318.0,256.0Z" filter="url(#f31)"/><path d="M336.0,255.0 350.0,255.0 348.0,290.0 336.0,290.0Z" filter="url(#f1)"/><path d="M336.0,255.0 350.0,255.0 348.0,290.0 336.0,290.0Z" filter="url(#f11)"/><path d="M336.0,255.0 350.0,255.0 348.0,290.0 336.0,290.0Z" filter="url(#f12)"/><path d="M336.0,175.0 354.0,175.0 354.0,194.0 336.0,194.0Z" filter="url(#f47)"/><path d="M456.0,32.0 474.0,32.0 474.0,68.0 456.0,68.0Z" filter="url(#f48)"/><path d="M456.0,32.0 474.0,32.0 474.0,68.0 456.0,68.0Z" filter="url(#f49)"/><path d="M456.0,32.0 474.0,32.0 474.0,68.0 456.0,68.0Z" filter="url(#f50)"/><path d="M341.0,267.0 358.0,260.0 380.0,254.0 395.0,252.0 410.0,262.0 425.0,270.0 431.0,288.0 438.0,299.0 430.0,311.0 416.0,322.0 400.0,328.0 387.0,336.0 379.0,347.0 368.0,339.0 352.0,328.0 340.0,313.0 337.0,295.0 339.0,278.0Z" filter="url(#f51)"/><path d="M341.0,267.0 358.0,260.0 380.0,254.0 395.0,252.0 410.0,262.0 425.0,270.0 431.0,288.0 438.0,299.0 430.0,311.0 416.0,322.0 400.0,328.0 387.0,336.0 379.0,347.0 368.0,339.0 352.0,328.0 340.0,313.0 337.0,295.0 339.0,278.0Z" filter="url(#f1)"/><path d="M341.0,267.0 358.0,260.0 380.0,254.0 395.0,252.0 410.0,262.0 425.0,270.0 431.0,288.0 438.0,299.0 430.0,311.0 416.0,322.0 400.0,328.0 387.0,336.0 379.0,347.0 368.0,339.0 352.0,328.0 340.0,313.0 337.0,295.0 339.0,278.0Z" filter="url(#f52)"/><path d="M387.0,266.0 398.0,266.0 398.0,282.0 387.0,282.0Z" filter="url(#f36)"/><path d="M387.0,266.0 398.0,266.0 398.0,282.0 387.0,282.0Z" filter="url(#f37)"/><path d="M328.0,238.0 425.0,236.0 434.0,272.0 408.0,262.0 380.0,254.0 341.0,266.0 334.0,252.0Z" filter="url(#f34)"/><path d="M328.0,238.0 425.0,236.0 434.0,272.0 408.0,262.0 380.0,254.0 341.0,266.0 334.0,252.0Z" filter="url(#f35)"/><path d="M328.0,238.0 425.0,236.0 434.0,272.0 408.0,262.0 380.0,254.0 341.0,266.0 334.0,252.0Z" filter="url(#f42)"/><path d="M425.0,288.0 482.0,298.0 472.0,362.0 422.0,386.0 396.0,346.0 416.0,322.0 430.0,311.0 438.0,299.0Z" filter="url(#f39)"/><path d="M425.0,288.0 482.0,298.0 472.0,362.0 422.0,386.0 396.0,346.0 416.0,322.0 430.0,311.0 438.0,299.0Z" filter="url(#f40)"/><path d="M425.0,288.0 482.0,298.0 472.0,362.0 422.0,386.0 396.0,346.0 416.0,322.0 430.0,311.0 438.0,299.0Z" filter="url(#f8)"/><path d="M376.0,338.0 402.0,338.0 422.0,360.0 434.0,386.0 402.0,412.0 382.0,422.0 374.0,452.0 366.0,452.0 372.0,400.0 374.0,360.0Z" filter="url(#f34)"/><path d="M376.0,338.0 402.0,338.0 422.0,360.0 434.0,386.0 402.0,412.0 382.0,422.0 374.0,452.0 366.0,452.0 372.0,400.0 374.0,360.0Z" filter="url(#f35)"/><path d="M376.0,338.0 402.0,338.0 422.0,360.0 434.0,386.0 402.0,412.0 382.0,422.0 374.0,452.0 366.0,452.0 372.0,400.0 374.0,360.0Z" filter="url(#f47)"/><path d="M416.0,348.0 436.0,348.0 436.0,367.0 416.0,367.0Z" filter="url(#f53)"/><path d="M416.0,348.0 436.0,348.0 436.0,367.0 416.0,367.0Z" filter="url(#f54)"/><path d="M400.0,378.0 420.0,378.0 420.0,392.0 400.0,392.0Z" filter="url(#f38)"/><path d="M368.0,430.0 402.0,430.0 397.0,482.0 375.0,482.0Z" filter="url(#f26)"/><path d="M368.0,430.0 402.0,430.0 397.0,482.0 375.0,482.0Z" filter="url(#f27)"/><path d="M362.0,420.0 376.0,420.0 382.0,472.0 368.0,472.0Z" filter="url(#f55)"/><path d="M362.0,420.0 376.0,420.0 382.0,472.0 368.0,472.0Z" filter="url(#f11)"/><path d="M362.0,420.0 376.0,420.0 382.0,472.0 368.0,472.0Z" filter="url(#f12)"/><path d="M530.0,222.0 600.0,224.0 600.0,258.0 530.0,256.0Z" filter="url(#f36)"/><path d="M530.0,222.0 600.0,224.0 600.0,258.0 530.0,256.0Z" filter="url(#f37)"/><path d="M530.0,222.0 600.0,224.0 600.0,258.0 530.0,256.0Z" filter="url(#f16)"/><path d="M598.0,226.0 700.0,230.0 748.0,234.0 748.0,262.0 700.0,264.0 598.0,258.0Z" filter="url(#f56)"/><path d="M598.0,226.0 700.0,230.0 748.0,234.0 748.0,262.0 700.0,264.0 598.0,258.0Z" filter="url(#f57)"/><path d="M598.0,226.0 700.0,230.0 748.0,234.0 748.0,262.0 700.0,264.0 598.0,258.0Z" filter="url(#f47)"/><path d="M543.0,251.0 584.0,251.0 586.0,269.0 546.0,269.0Z" filter="url(#f58)"/><path d="M543.0,251.0 584.0,251.0 586.0,269.0 546.0,269.0Z" filter="url(#f11)"/><path d="M543.0,251.0 584.0,251.0 586.0,269.0 546.0,269.0Z" filter="url(#f12)"/><path d="M618.0,262.0 645.0,259.0 670.0,262.0 684.0,274.0 682.0,292.0 678.0,302.0 645.0,302.0 620.0,298.0 612.0,279.0Z" filter="url(#f51)"/><path d="M618.0,262.0 645.0,259.0 670.0,262.0 684.0,274.0 682.0,292.0 678.0,302.0 645.0,302.0 620.0,298.0 612.0,279.0Z" filter="url(#f1)"/><path d="M618.0,262.0 645.0,259.0 670.0,262.0 684.0,274.0 682.0,292.0 678.0,302.0 645.0,302.0 620.0,298.0 612.0,279.0Z" filter="url(#f59)"/><path d="M618.0,290.0 688.0,290.0 688.0,330.0 618.0,330.0Z" filter="url(#f45)"/><path d="M618.0,290.0 688.0,290.0 688.0,330.0 618.0,330.0Z" filter="url(#f46)"/><path d="M618.0,290.0 688.0,290.0 688.0,330.0 618.0,330.0Z" filter="url(#f60)"/><path d="M618.0,290.0 688.0,290.0 688.0,330.0 618.0,330.0Z" filter="url(#f23)"/><path d="M680.0,245.0 745.0,240.0 742.0,282.0 724.0,312.0 684.0,312.0Z" filter="url(#f13)"/><path d="M680.0,245.0 745.0,240.0 742.0,282.0 724.0,312.0 684.0,312.0Z" filter="url(#f14)"/><path d="M680.0,245.0 745.0,240.0 742.0,282.0 724.0,312.0 684.0,312.0Z" filter="url(#f61)"/><path d="M680.0,245.0 745.0,240.0 742.0,282.0 724.0,312.0 684.0,312.0Z" filter="url(#f9)"/><path d="M684.0,300.0 724.0,300.0 718.0,335.0 684.0,335.0Z" filter="url(#f48)"/><path d="M684.0,300.0 724.0,300.0 718.0,335.0 684.0,335.0Z" filter="url(#f49)"/><path d="M684.0,300.0 724.0,300.0 718.0,335.0 684.0,335.0Z" filter="url(#f62)"/><path d="M620.0,326.0 716.0,326.0 708.0,380.0 692.0,410.0 660.0,414.0 632.0,394.0 620.0,356.0Z" filter="url(#f48)"/><path d="M620.0,326.0 716.0,326.0 708.0,380.0 692.0,410.0 660.0,414.0 632.0,394.0 620.0,356.0Z" filter="url(#f49)"/><path d="M620.0,326.0 716.0,326.0 708.0,380.0 692.0,410.0 660.0,414.0 632.0,394.0 620.0,356.0Z" filter="url(#f63)"/><path d="M663.0,358.0 685.0,358.0 685.0,385.0 663.0,385.0Z" filter="url(#f64)"/><path d="M648.0,372.0 667.0,372.0 667.0,390.0 648.0,390.0Z" filter="url(#f13)"/><path d="M648.0,372.0 667.0,372.0 667.0,390.0 648.0,390.0Z" filter="url(#f14)"/><path d="M720.0,330.0 760.0,330.0 760.0,382.0 720.0,382.0Z" filter="url(#f56)"/><path d="M720.0,330.0 760.0,330.0 760.0,382.0 720.0,382.0Z" filter="url(#f57)"/><path d="M720.0,330.0 760.0,330.0 760.0,382.0 720.0,382.0Z" filter="url(#f47)"/><path d="M720.0,330.0 760.0,330.0 760.0,382.0 720.0,382.0Z" filter="url(#f65)"/><path d="M552.0,150.0 620.0,150.0 620.0,180.0 552.0,180.0Z" filter="url(#f26)"/><path d="M552.0,150.0 620.0,150.0 620.0,180.0 552.0,180.0Z" filter="url(#f27)"/><path d="M552.0,150.0 620.0,150.0 620.0,180.0 552.0,180.0Z" filter="url(#f19)"/><path d="M627.0,38.0 656.0,38.0 660.0,49.0 634.0,50.0Z" filter="url(#f0)"/><path d="M658.0,42.0 684.0,42.0 684.0,55.0 658.0,55.0Z" filter="url(#f58)"/><path d="M612.0,35.0 686.0,35.0 686.0,57.0 612.0,57.0Z" filter="url(#f55)"/><path d="M596.0,50.0 662.0,50.0 662.0,88.0 596.0,88.0Z" filter="url(#f66)"/><path d="M596.0,50.0 662.0,50.0 662.0,88.0 596.0,88.0Z" filter="url(#f67)"/><path d="M596.0,50.0 662.0,50.0 662.0,88.0 596.0,88.0Z" filter="url(#f9)"/><path d="M615.0,70.0 630.0,70.0 630.0,87.0 615.0,87.0Z" filter="url(#f36)"/><path d="M615.0,70.0 630.0,70.0 630.0,87.0 615.0,87.0Z" filter="url(#f37)"/><path d="M655.0,73.0 672.0,73.0 672.0,85.0 655.0,85.0Z" filter="url(#f56)"/><path d="M655.0,73.0 672.0,73.0 672.0,85.0 655.0,85.0Z" filter="url(#f57)"/><path d="M672.0,56.0 742.0,56.0 742.0,85.0 672.0,85.0Z" filter="url(#f68)"/><path d="M672.0,56.0 742.0,56.0 742.0,85.0 672.0,85.0Z" filter="url(#f69)"/><path d="M672.0,56.0 742.0,56.0 742.0,85.0 672.0,85.0Z" filter="url(#f26)"/><path d="M672.0,56.0 742.0,56.0 742.0,85.0 672.0,85.0Z" filter="url(#f27)"/><path d="M684.0,64.0 720.0,64.0 720.0,80.0 684.0,80.0Z" filter="url(#f1)"/><path d="M696.0,33.0 735.0,33.0 735.0,53.0 696.0,53.0Z" filter="url(#f58)"/><path d="M707.0,101.0 742.0,101.0 742.0,116.0 707.0,116.0Z" filter="url(#f70)"/><path d="M707.0,101.0 742.0,101.0 742.0,116.0 707.0,116.0Z" filter="url(#f71)"/><path d="M707.0,101.0 742.0,101.0 742.0,116.0 707.0,116.0Z" filter="url(#f19)"/><path d="M703.0,111.0 720.0,111.0 721.0,130.0 704.0,130.0Z" filter="url(#f24)"/><path d="M555.0,88.0 672.0,88.0 672.0,132.0 555.0,132.0Z" filter="url(#f41)"/><path d="M555.0,88.0 672.0,88.0 672.0,132.0 555.0,132.0Z" filter="url(#f43)"/><path d="M600.0,106.0 629.0,106.0 629.0,120.0 600.0,120.0Z" filter="url(#f55)"/><path d="M600.0,106.0 629.0,106.0 629.0,120.0 600.0,120.0Z" filter="url(#f68)"/><path d="M586.0,117.0 600.0,117.0 600.0,128.0 586.0,128.0Z" filter="url(#f1)"/><path d="M636.0,107.0 660.0,107.0 660.0,126.0 636.0,126.0Z" filter="url(#f55)"/><path d="M558.0,127.0 591.0,127.0 591.0,140.0 558.0,140.0Z" filter="url(#f55)"/><path d="M622.0,124.0 660.0,124.0 660.0,138.0 622.0,138.0Z" filter="url(#f72)"/><path d="M648.0,133.0 722.0,133.0 722.0,156.0 648.0,156.0Z" filter="url(#f45)"/><path d="M648.0,133.0 722.0,133.0 722.0,156.0 648.0,156.0Z" filter="url(#f46)"/><path d="M648.0,133.0 722.0,133.0 722.0,156.0 648.0,156.0Z" filter="url(#f73)"/><path d="M528.0,50.0 552.0,50.0 552.0,64.0 528.0,64.0Z" filter="url(#f55)"/><path d="M560.0,80.0 590.0,80.0 590.0,100.0 560.0,100.0Z" filter="url(#f20)"/><path d="M696.0,48.0 700.0,40.0 738.0,33.0 768.0,27.0 795.0,22.0 825.0,28.0 870.0,31.0 899.0,37.0 944.0,42.0 989.0,43.0 1022.0,58.0 1022.0,67.0 974.0,70.0 944.0,67.0 914.0,61.0 875.0,65.0 840.0,61.0 795.0,58.0 765.0,55.0 735.0,52.0 696.0,53.0Z" filter="url(#f0)"/><path d="M600.0,40.0 696.0,38.0 696.0,52.0 600.0,52.0Z" filter="url(#f32)"/><path d="M718.0,56.0 920.0,58.0 952.0,70.0 952.0,100.0 718.0,97.0Z" filter="url(#f74)"/><path d="M718.0,56.0 920.0,58.0 952.0,70.0 952.0,100.0 718.0,97.0Z" filter="url(#f75)"/><path d="M718.0,56.0 920.0,58.0 952.0,70.0 952.0,100.0 718.0,97.0Z" filter="url(#f44)"/><path d="M718.0,56.0 920.0,58.0 952.0,70.0 952.0,100.0 718.0,97.0Z" filter="url(#f43)"/><path d="M690.0,54.0 752.0,54.0 752.0,90.0 690.0,90.0Z" filter="url(#f26)"/><path d="M690.0,54.0 752.0,54.0 752.0,90.0 690.0,90.0Z" filter="url(#f27)"/><path d="M690.0,54.0 752.0,54.0 752.0,90.0 690.0,90.0Z" filter="url(#f76)"/><path d="M690.0,54.0 752.0,54.0 752.0,90.0 690.0,90.0Z" filter="url(#f77)"/><path d="M706.0,100.0 740.0,97.0 775.0,93.0 816.0,94.0 860.0,101.0 900.0,103.0 922.0,104.0 922.0,130.0 936.0,138.0 922.0,152.0 900.0,152.0 897.0,135.0 860.0,122.0 824.0,134.0 766.0,134.0 740.0,128.0 720.0,130.0 704.0,124.0Z" filter="url(#f48)"/><path d="M706.0,100.0 740.0,97.0 775.0,93.0 816.0,94.0 860.0,101.0 900.0,103.0 922.0,104.0 922.0,130.0 936.0,138.0 922.0,152.0 900.0,152.0 897.0,135.0 860.0,122.0 824.0,134.0 766.0,134.0 740.0,128.0 720.0,130.0 704.0,124.0Z" filter="url(#f49)"/><path d="M706.0,100.0 740.0,97.0 775.0,93.0 816.0,94.0 860.0,101.0 900.0,103.0 922.0,104.0 922.0,130.0 936.0,138.0 922.0,152.0 900.0,152.0 897.0,135.0 860.0,122.0 824.0,134.0 766.0,134.0 740.0,128.0 720.0,130.0 704.0,124.0Z" filter="url(#f47)"/><path d="M706.0,100.0 740.0,97.0 775.0,93.0 816.0,94.0 860.0,101.0 900.0,103.0 922.0,104.0 922.0,130.0 936.0,138.0 922.0,152.0 900.0,152.0 897.0,135.0 860.0,122.0 824.0,134.0 766.0,134.0 740.0,128.0 720.0,130.0 704.0,124.0Z" filter="url(#f76)"/><path d="M706.0,100.0 740.0,100.0 740.0,116.0 706.0,116.0Z" filter="url(#f78)"/><path d="M706.0,100.0 740.0,100.0 740.0,116.0 706.0,116.0Z" filter="url(#f79)"/><path d="M706.0,100.0 740.0,100.0 740.0,116.0 706.0,116.0Z" filter="url(#f76)"/><path d="M738.0,98.0 796.0,98.0 796.0,127.0 738.0,127.0Z" filter="url(#f80)"/><path d="M738.0,98.0 796.0,98.0 796.0,127.0 738.0,127.0Z" filter="url(#f45)"/><path d="M738.0,98.0 796.0,98.0 796.0,127.0 738.0,127.0Z" filter="url(#f46)"/><path d="M738.0,98.0 796.0,98.0 796.0,127.0 738.0,127.0Z" filter="url(#f20)"/><path d="M775.0,94.0 816.0,94.0 816.0,116.0 775.0,116.0Z" filter="url(#f70)"/><path d="M775.0,94.0 816.0,94.0 816.0,116.0 775.0,116.0Z" filter="url(#f71)"/><path d="M766.0,122.0 824.0,122.0 824.0,134.0 766.0,134.0Z" filter="url(#f81)"/><path d="M766.0,122.0 824.0,122.0 824.0,134.0 766.0,134.0Z" filter="url(#f26)"/><path d="M766.0,122.0 824.0,122.0 824.0,134.0 766.0,134.0Z" filter="url(#f27)"/><path d="M814.0,96.0 860.0,102.0 902.0,110.0 902.0,125.0 860.0,121.0 818.0,126.0Z" filter="url(#f53)"/><path d="M814.0,96.0 860.0,102.0 902.0,110.0 902.0,125.0 860.0,121.0 818.0,126.0Z" filter="url(#f54)"/><path d="M814.0,96.0 860.0,102.0 902.0,110.0 902.0,125.0 860.0,121.0 818.0,126.0Z" filter="url(#f8)"/><path d="M814.0,96.0 860.0,102.0 902.0,110.0 902.0,125.0 860.0,121.0 818.0,126.0Z" filter="url(#f76)"/><path d="M895.0,102.0 922.0,102.0 922.0,129.0 895.0,129.0Z" filter="url(#f16)"/><path d="M895.0,102.0 922.0,102.0 922.0,129.0 895.0,129.0Z" filter="url(#f36)"/><path d="M895.0,102.0 922.0,102.0 922.0,129.0 895.0,129.0Z" filter="url(#f37)"/><path d="M895.0,125.0 936.0,125.0 936.0,138.0 895.0,138.0Z" filter="url(#f82)"/><path d="M895.0,125.0 936.0,125.0 936.0,138.0 895.0,138.0Z" filter="url(#f34)"/><path d="M895.0,125.0 936.0,125.0 936.0,138.0 895.0,138.0Z" filter="url(#f35)"/><path d="M900.0,134.0 922.0,134.0 922.0,152.0 900.0,152.0Z" filter="url(#f17)"/><path d="M900.0,134.0 922.0,134.0 922.0,152.0 900.0,152.0Z" filter="url(#f18)"/><path d="M897.0,140.0 919.0,140.0 919.0,156.0 897.0,156.0Z" filter="url(#f36)"/><path d="M897.0,140.0 919.0,140.0 919.0,156.0 897.0,156.0Z" filter="url(#f37)"/><path d="M897.0,140.0 919.0,140.0 919.0,156.0 897.0,156.0Z" filter="url(#f33)"/><path d="M922.0,100.0 972.0,100.0 972.0,150.0 940.0,153.0 922.0,140.0Z" filter="url(#f34)"/><path d="M922.0,100.0 972.0,100.0 972.0,150.0 940.0,153.0 922.0,140.0Z" filter="url(#f35)"/><path d="M922.0,100.0 972.0,100.0 972.0,150.0 940.0,153.0 922.0,140.0Z" filter="url(#f28)"/><path d="M706.0,143.0 727.0,137.0 764.0,180.0 750.0,192.0Z" filter="url(#f70)"/><path d="M706.0,143.0 727.0,137.0 764.0,180.0 750.0,192.0Z" filter="url(#f71)"/><path d="M706.0,143.0 727.0,137.0 764.0,180.0 750.0,192.0Z" filter="url(#f76)"/><path d="M740.0,127.0 798.0,127.0 798.0,150.0 740.0,150.0Z" filter="url(#f11)"/><path d="M740.0,127.0 798.0,127.0 798.0,150.0 740.0,150.0Z" filter="url(#f12)"/><path d="M740.0,127.0 798.0,127.0 798.0,150.0 740.0,150.0Z" filter="url(#f20)"/><path d="M748.0,141.0 800.0,143.0 802.0,166.0 750.0,164.0Z" filter="url(#f39)"/><path d="M748.0,141.0 800.0,143.0 802.0,166.0 750.0,164.0Z" filter="url(#f40)"/><path d="M748.0,141.0 800.0,143.0 802.0,166.0 750.0,164.0Z" filter="url(#f83)"/><path d="M748.0,141.0 800.0,143.0 802.0,166.0 750.0,164.0Z" filter="url(#f23)"/><path d="M838.0,148.0 870.0,143.0 897.0,146.0 897.0,180.0 872.0,186.0 850.0,186.0 836.0,172.0Z" filter="url(#f17)"/><path d="M838.0,148.0 870.0,143.0 897.0,146.0 897.0,180.0 872.0,186.0 850.0,186.0 836.0,172.0Z" filter="url(#f18)"/><path d="M838.0,148.0 870.0,143.0 897.0,146.0 897.0,180.0 872.0,186.0 850.0,186.0 836.0,172.0Z" filter="url(#f84)"/><path d="M855.0,179.0 870.0,180.0 889.0,186.0 889.0,197.0 872.0,197.0 855.0,186.0Z" filter="url(#f85)"/><path d="M855.0,179.0 870.0,180.0 889.0,186.0 889.0,197.0 872.0,197.0 855.0,186.0Z" filter="url(#f59)"/><path d="M894.0,158.0 958.0,158.0 958.0,212.0 894.0,212.0Z" filter="url(#f44)"/><path d="M894.0,158.0 958.0,158.0 958.0,212.0 894.0,212.0Z" filter="url(#f86)"/><path d="M894.0,158.0 958.0,158.0 958.0,212.0 894.0,212.0Z" filter="url(#f74)"/><path d="M894.0,158.0 958.0,158.0 958.0,212.0 894.0,212.0Z" filter="url(#f75)"/><path d="M870.0,200.0 940.0,200.0 940.0,245.0 870.0,245.0Z" filter="url(#f87)"/><path d="M870.0,200.0 940.0,200.0 940.0,245.0 870.0,245.0Z" filter="url(#f88)"/><path d="M870.0,200.0 940.0,200.0 940.0,245.0 870.0,245.0Z" filter="url(#f89)"/><path d="M797.0,180.0 814.0,180.0 814.0,198.0 797.0,198.0Z" filter="url(#f64)"/><path d="M884.0,236.0 912.0,236.0 912.0,279.0 884.0,279.0Z" filter="url(#f1)"/><path d="M884.0,263.0 918.0,263.0 918.0,302.0 884.0,302.0Z" filter="url(#f58)"/><path d="M934.0,260.0 961.0,260.0 961.0,297.0 934.0,297.0Z" filter="url(#f85)"/><path d="M934.0,260.0 961.0,260.0 961.0,297.0 934.0,297.0Z" filter="url(#f90)"/><path d="M934.0,260.0 961.0,260.0 961.0,297.0 934.0,297.0Z" filter="url(#f77)"/><path d="M960.0,276.0 992.0,276.0 992.0,305.0 960.0,305.0Z" filter="url(#f31)"/><path d="M998.0,286.0 1068.0,286.0 1068.0,323.0 998.0,323.0Z" filter="url(#f85)"/><path d="M998.0,286.0 1068.0,286.0 1068.0,323.0 998.0,323.0Z" filter="url(#f32)"/><path d="M956.0,198.0 987.0,198.0 987.0,264.0 956.0,264.0Z" filter="url(#f1)"/><path d="M938.0,136.0 1002.0,136.0 1002.0,182.0 938.0,182.0Z" filter="url(#f32)"/><path d="M938.0,136.0 1002.0,136.0 1002.0,182.0 938.0,182.0Z" filter="url(#f34)"/><path d="M938.0,136.0 1002.0,136.0 1002.0,182.0 938.0,182.0Z" filter="url(#f35)"/><path d="M930.0,348.0 960.0,340.0 985.0,330.0 1001.0,336.0 1001.0,398.0 960.0,402.0 930.0,395.0Z" filter="url(#f70)"/><path d="M930.0,348.0 960.0,340.0 985.0,330.0 1001.0,336.0 1001.0,398.0 960.0,402.0 930.0,395.0Z" filter="url(#f71)"/><path d="M930.0,348.0 960.0,340.0 985.0,330.0 1001.0,336.0 1001.0,398.0 960.0,402.0 930.0,395.0Z" filter="url(#f63)"/><path d="M984.0,340.0 1016.0,340.0 1016.0,392.0 984.0,392.0Z" filter="url(#f53)"/><path d="M984.0,340.0 1016.0,340.0 1016.0,392.0 984.0,392.0Z" filter="url(#f54)"/><path d="M984.0,340.0 1016.0,340.0 1016.0,392.0 984.0,392.0Z" filter="url(#f15)"/><path d="M984.0,340.0 1016.0,340.0 1016.0,392.0 984.0,392.0Z" filter="url(#f8)"/><path d="M1013.0,322.0 1046.0,326.0 1050.0,372.0 1030.0,392.0 1013.0,372.0Z" filter="url(#f91)"/><path d="M1013.0,322.0 1046.0,326.0 1050.0,372.0 1030.0,392.0 1013.0,372.0Z" filter="url(#f11)"/><path d="M1013.0,322.0 1046.0,326.0 1050.0,372.0 1030.0,392.0 1013.0,372.0Z" filter="url(#f12)"/><path d="M935.0,380.0 965.0,380.0 965.0,402.0 935.0,402.0Z" filter="url(#f16)"/><path d="M935.0,380.0 965.0,380.0 965.0,402.0 935.0,402.0Z" filter="url(#f26)"/><path d="M935.0,380.0 965.0,380.0 965.0,402.0 935.0,402.0Z" filter="url(#f27)"/><path d="M992.0,404.0 1032.0,404.0 1032.0,423.0 992.0,423.0Z" filter="url(#f64)"/><path d="M1000.0,372.0 1048.0,376.0 1044.0,405.0 1010.0,410.0Z" filter="url(#f53)"/><path d="M1000.0,372.0 1048.0,376.0 1044.0,405.0 1010.0,410.0Z" filter="url(#f54)"/><path d="M1000.0,372.0 1048.0,376.0 1044.0,405.0 1010.0,410.0Z" filter="url(#f8)"/><path d="M958.0,325.0 1046.0,325.0 1046.0,357.0 958.0,357.0Z" filter="url(#f10)"/><path d="M958.0,325.0 1046.0,325.0 1046.0,357.0 958.0,357.0Z" filter="url(#f39)"/><path d="M958.0,325.0 1046.0,325.0 1046.0,357.0 958.0,357.0Z" filter="url(#f40)"/><path d="M1048.0,400.0 1112.0,400.0 1112.0,458.0 1048.0,458.0Z" filter="url(#f58)"/><path d="M1048.0,400.0 1112.0,400.0 1112.0,458.0 1048.0,458.0Z" filter="url(#f21)"/><path d="M1048.0,400.0 1112.0,400.0 1112.0,458.0 1048.0,458.0Z" filter="url(#f22)"/><path d="M1000.0,425.0 1020.0,425.0 1020.0,440.0 1000.0,440.0Z" filter="url(#f92)"/></g></g>
<path d="M326.9,118.8 331.2,119.1 338.1,116.3 339.5,119.5 346.6,119.1 348.4,117.7 348.8,114.2 345.7,111.8 339.5,113.2 336.3,114.2 326.9,118.8Z M331.6,136.4 334.6,136.1 338.0,131.8 340.1,126.5 343.7,122.6 346.0,121.9 342.7,121.6 337.9,123.0 335.0,126.5 333.4,131.8 331.6,136.4Z M346.5,121.9 348.9,123.7 347.7,128.3 348.6,131.8 351.0,130.8 353.5,124.7 357.4,123.0 357.1,120.9 348.8,120.5 346.5,121.9Z M344.0,136.4 349.5,137.1 358.4,132.5 353.8,133.2 347.4,135.0 344.0,136.4Z M356.7,130.8 367.3,130.0 367.9,127.6 359.7,129.0 356.7,130.8Z M318.5,105.5 323.3,102.1 326.0,94.2 321.1,95.2 318.5,105.5Z M292.5,70.1 299.7,70.4 310.2,66.9 313.7,64.3 303.7,65.9 294.0,68.5 292.5,70.1Z M284.8,57.2 289.6,57.2 294.4,57.2 306.2,52.6 303.1,51.0 294.4,52.6 284.8,57.2Z M718.3,125.4 721.1,131.8 724.9,136.1 727.8,138.9 730.1,141.0 728.7,147.8 729.3,151.1 733.4,152.5 737.3,154.3 741.7,153.9 744.6,153.9 743.2,149.6 742.5,146.0 739.4,142.5 738.0,138.9 737.6,136.1 735.1,134.3 731.2,129.7 727.9,126.5 729.9,124.0 734.9,123.7 734.3,119.5 729.1,117.7 725.2,119.1 721.4,120.5 718.9,121.9 718.3,125.4Z M668.9,138.2 673.3,138.6 676.1,137.9 681.5,135.4 685.8,135.4 690.0,137.9 695.2,139.3 700.0,138.9 705.1,136.8 704.2,133.6 700.0,130.8 696.1,128.3 693.0,126.5 690.8,125.4 688.3,124.0 685.5,124.4 683.7,125.4 680.2,126.5 677.1,123.3 679.4,121.6 674.8,119.5 671.9,119.1 670.7,120.2 669.0,124.0 666.8,126.5 666.4,130.0 664.8,131.1 664.0,133.6 665.9,136.8 668.9,138.2Z M685.4,123.7 688.4,123.3 692.3,119.8 694.8,117.0 691.2,117.4 687.4,119.1 683.3,120.2 685.4,123.7Z M662.3,141.0 666.4,141.0 670.6,140.0 669.0,138.9 664.7,138.9 662.3,141.0Z M750.2,123.0 754.4,124.7 755.8,127.6 753.9,129.0 750.9,125.4 750.2,123.0Z M791.5,120.2 795.0,121.9 799.7,119.5 807.2,119.5 805.4,117.7 797.9,118.4 793.4,119.1 791.5,120.2Z M866.1,101.4 869.6,101.7 873.0,98.6 875.0,93.5 873.1,87.7 871.5,87.4 871.9,92.8 869.6,97.6 866.7,99.3 866.1,101.4Z M685.5,289.6 686.1,285.3 689.9,284.6 693.1,286.0 692.4,291.4 690.2,295.0 686.1,295.0 684.8,291.4 685.5,289.6Z M677.2,297.8 678.2,297.8 680.6,305.7 682.1,311.1 683.3,316.5 681.4,317.2 679.6,311.1 678.1,306.8 677.2,297.8Z M692.0,320.1 693.6,320.5 694.6,327.3 695.3,335.5 693.4,337.0 692.3,330.9 692.0,320.1Z M660.4,71.7 663.3,73.3 667.4,71.7 666.0,69.1 661.0,69.1 660.4,71.7Z M671.2,70.1 674.3,69.5 673.7,65.3 670.9,64.3 671.2,70.1Z M366.0,340.6 369.2,341.6 368.8,344.2 366.0,340.6Z" fill="#fff"/>
<path d="M374,281 L383,292 L391,298 L402,294.5 L412,292.5 L421,291 L428,298 L436,300" fill="none" stroke="#f4eef4" stroke-width="1.0" stroke-opacity="0.6"/>
</g>
<path d="M938.5,14.0 L949.0,18.7 L959.5,23.4 L969.7,28.2 L978.8,33.4 L988.0,38.5 L996.8,43.8 L1005.1,49.2 L1013.4,54.7 L1021.5,60.3 L1029.3,66.0 L1037.2,71.7 L1044.6,77.6 L1052.0,83.5 L1059.3,89.4 L1066.0,95.5 L1072.7,101.6 L1079.2,107.6 L1085.0,113.9 L1090.7,120.1 L1096.2,126.3 L1101.3,132.6 L1106.5,138.9 L1111.2,145.2 L1115.5,151.5 L1119.7,157.9 L1123.5,164.2 L1127.0,170.6 L1130.5,176.9 L1133.3,183.3 L1135.9,189.7 L1138.5,196.0 L1140.4,202.4 L1142.3,208.8 L1144.1,215.1 L1145.7,221.5 L1147.2,227.8 L1148.7,234.2 L1149.7,240.6 L1150.8,246.9 L1151.7,253.3 L1152.4,259.6 L1153.0,266.0 L1153.4,272.4 L1153.7,278.7 L1154.0,285.1 L1153.8,291.5 L1153.5,297.8 L1153.2,304.2 L1152.5,310.5 L1151.9,316.9 L1151.1,323.3 L1150.1,329.6 L1149.0,336.0 L1147.7,342.3 L1146.1,348.7 L1144.5,355.1 L1142.8,361.4 L1141.0,367.8 L1139.1,374.2 L1136.7,380.5 L1134.0,386.9 L1131.4,393.2 L1128.0,399.6 L1124.5,406.0 L1120.9,412.3 L1116.7,418.7 L1112.4,425.0 L1107.9,431.3 L1102.8,437.6 L1097.7,443.9 L1092.3,450.2 L1086.6,456.4 L1080.9,462.6 L1074.6,468.7 L1067.9,474.8 L1061.3,480.9 L1054.1,486.8 L1046.7,492.7 L1039.4,498.7 L130.6,498.7 L123.3,492.7 L115.9,486.8 L108.7,480.9 L102.1,474.8 L95.4,468.7 L89.1,462.6 L83.4,456.4 L77.7,450.2 L72.3,443.9 L67.2,437.6 L62.1,431.3 L57.6,425.0 L53.3,418.7 L49.1,412.3 L45.5,406.0 L42.0,399.6 L38.6,393.2 L36.0,386.9 L33.3,380.5 L30.9,374.2 L29.0,367.8 L27.2,361.4 L25.5,355.1 L23.9,348.7 L22.3,342.3 L21.0,336.0 L19.9,329.6 L18.9,323.3 L18.1,316.9 L17.5,310.5 L16.8,304.2 L16.5,297.8 L16.2,291.5 L16.0,285.1 L16.3,278.7 L16.6,272.4 L17.0,266.0 L17.6,259.6 L18.3,253.3 L19.2,246.9 L20.3,240.6 L21.3,234.2 L22.8,227.8 L24.3,221.5 L25.9,215.1 L27.7,208.8 L29.6,202.4 L31.5,196.0 L34.1,189.7 L36.7,183.3 L39.5,176.9 L43.0,170.6 L46.5,164.2 L50.3,157.9 L54.5,151.5 L58.8,145.2 L63.5,138.9 L68.7,132.6 L73.8,126.3 L79.3,120.1 L85.0,113.9 L90.8,107.6 L97.3,101.6 L104.0,95.5 L110.7,89.4 L118.0,83.5 L125.4,77.6 L132.8,71.7 L140.7,66.0 L148.5,60.3 L156.6,54.7 L164.9,49.2 L173.2,43.8 L182.0,38.5 L191.2,33.4 L200.3,28.2 L210.5,23.4 L221.0,18.7 L231.5,14.0Z" fill="none" stroke="#000" stroke-width="2"/>
<line x1="231" y1="14" x2="939" y2="14" stroke="#a8a0a8" stroke-width="2.2"/>
<g stroke="#555" stroke-width="1.1"><line x1="766.2" y1="329.3" x2="766.2" y2="332.8"/><line x1="766.2" y1="337.5" x2="766.2" y2="341"/><line x1="760.2" y1="335.1" x2="763.9" y2="335.1"/><line x1="768.4" y1="335.1" x2="772.1" y2="335.1"/></g>
<line x1="130" y1="498.6" x2="1040" y2="498.6" stroke="#000" stroke-width="2.6"/>
<rect x="130.5" y="515.5" width="909" height="35.5" fill="none" stroke="#000" stroke-width="3.2"/>
<rect x="132" y="517" width="226.4" height="32.6" fill="#87cefa"/>
<rect x="358.4" y="517" width="226.4" height="32.6" fill="#000"/>
<rect x="584.8" y="517" width="226.4" height="32.6" fill="#ff00ff"/>
<rect x="811.2" y="517" width="226.4" height="32.6" fill="#ffd700"/>
<line x1="160.5" y1="552" x2="160.5" y2="557" stroke="#000" stroke-width="1.3"/><line x1="221.1" y1="552" x2="221.1" y2="557" stroke="#000" stroke-width="1.3"/><line x1="281.7" y1="552" x2="281.7" y2="557" stroke="#000" stroke-width="1.3"/><line x1="342.3" y1="552" x2="342.3" y2="557" stroke="#000" stroke-width="1.3"/><line x1="402.9" y1="552" x2="402.9" y2="557" stroke="#000" stroke-width="1.3"/><line x1="463.5" y1="552" x2="463.5" y2="557" stroke="#000" stroke-width="1.3"/><line x1="524.1" y1="552" x2="524.1" y2="557" stroke="#000" stroke-width="1.3"/><line x1="584.7" y1="552" x2="584.7" y2="557" stroke="#000" stroke-width="1.3"/><line x1="645.3" y1="552" x2="645.3" y2="557" stroke="#000" stroke-width="1.3"/><line x1="705.9" y1="552" x2="705.9" y2="557" stroke="#000" stroke-width="1.3"/><line x1="766.5" y1="552" x2="766.5" y2="557" stroke="#000" stroke-width="1.3"/><line x1="827.1" y1="552" x2="827.1" y2="557" stroke="#000" stroke-width="1.3"/><line x1="887.7" y1="552" x2="887.7" y2="557" stroke="#000" stroke-width="1.3"/><line x1="948.3" y1="552" x2="948.3" y2="557" stroke="#000" stroke-width="1.3"/><line x1="1008.9" y1="552" x2="1008.9" y2="557" stroke="#000" stroke-width="1.3"/>
<text class="pct" x="249.5" y="543" text-anchor="middle" fill="#000">16.3%</text>
<text class="pct" x="471" y="543" text-anchor="middle" fill="#fff">28.4%</text>
<text class="pct" x="698.3" y="543" text-anchor="middle" fill="#000">33.6%</text>
<text class="pct" x="920.3" y="543" text-anchor="middle" fill="#000">21.7%</text>
<text class="lab" x="144.5" y="591" textLength="175" lengthAdjust="spacingAndGlyphs" fill="#000">Resilience Gain</text>
<text class="lab" x="362.5" y="591" textLength="216" lengthAdjust="spacingAndGlyphs" fill="#000">Inconclusive Trend</text>
<text class="lab" x="603.5" y="591" textLength="200" lengthAdjust="spacingAndGlyphs" fill="#000">Low Data Quality</text>
<text class="lab" x="846" y="591" textLength="172" lengthAdjust="spacingAndGlyphs" fill="#000">Resilience Loss</text>
</svg>
</body></html>
